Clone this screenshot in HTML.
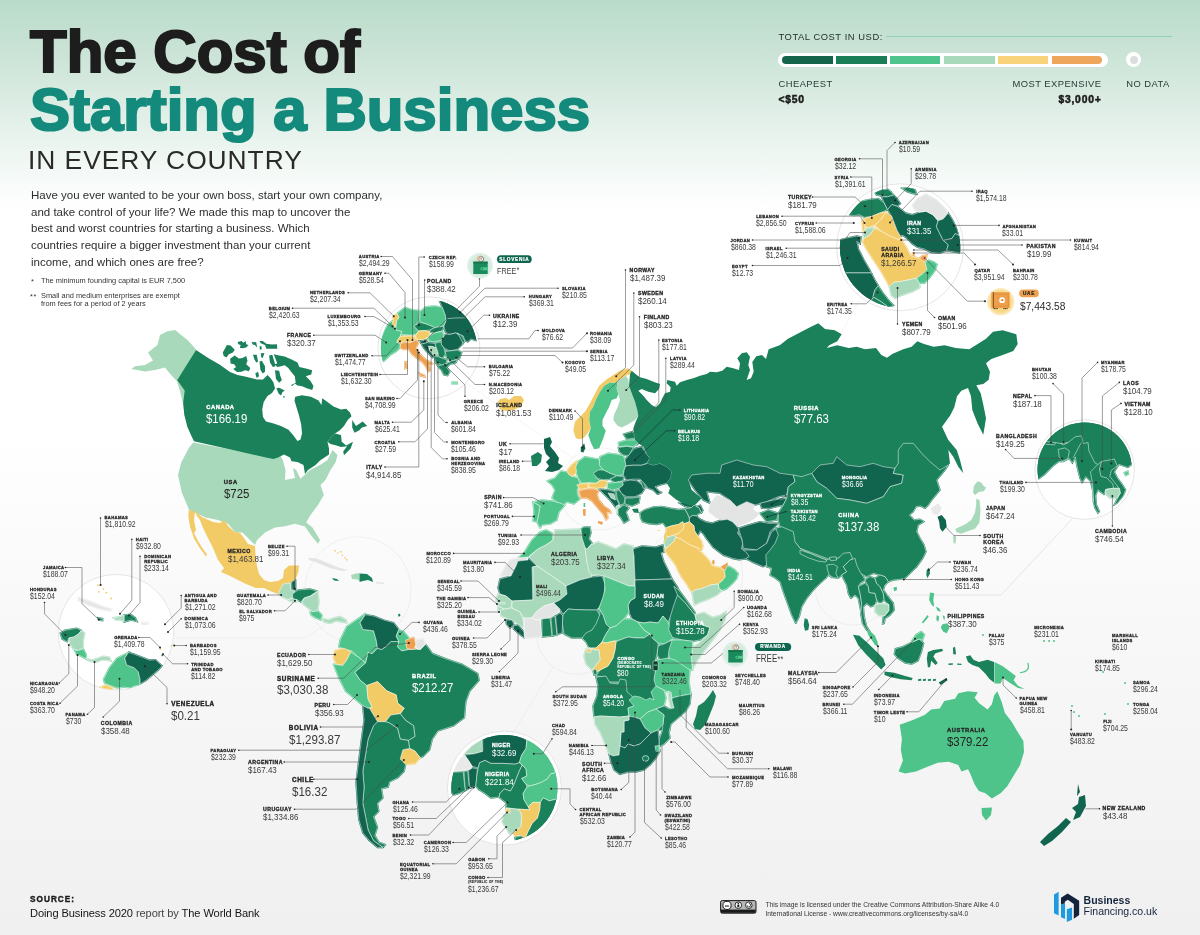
<!DOCTYPE html>
<html><head><meta charset="utf-8"><title>The Cost of Starting a Business in Every Country</title>
<style>
*{margin:0;padding:0;box-sizing:border-box}
html,body{width:1200px;height:935px;overflow:hidden}
.lb,.abs,.lg,.lgb{will-change:opacity}
body{font-family:"Liberation Sans",sans-serif;position:relative;
 background:linear-gradient(180deg,#b9dcca 0px,#cae3d6 50px,#dbece3 100px,#edf6f1 150px,#fbfdfc 195px,#ffffff 212px,#ffffff 430px,#f9f9f9 600px,#f4f4f4 780px,#f0f0f0 935px);}
#map{position:absolute;left:0;top:0}
.abs{position:absolute;white-space:nowrap}
#t1{left:30px;top:18px;font-weight:bold;font-size:60px;color:#1d1d1d;line-height:68px;-webkit-text-stroke:2.2px #1d1d1d;letter-spacing:0px;transform-origin:0 0}
#t2{left:30px;top:75.5px;font-weight:bold;font-size:60px;color:#148a7c;line-height:68px;-webkit-text-stroke:2.2px #148a7c;transform-origin:0 0}
#t3{left:28px;top:144.5px;font-size:26.4px;color:#2a2a2a;line-height:30px;letter-spacing:.95px}
#para{left:31px;top:187px;font-size:11.5px;line-height:16.67px;color:#2e2e2e;white-space:nowrap}
.fn{font-size:7.4px;color:#333;line-height:8px}
.lb{position:absolute;white-space:nowrap;line-height:1;color:#262626}
.lb b{display:block;font-size:4.2px;letter-spacing:.32px;font-weight:bold;-webkit-text-stroke:.28px currentColor;line-height:5px}
.lb span{display:block;width:max-content;font-size:8.6px;line-height:9px;transform:scaleX(.8);transform-origin:0 0;color:#3a3a3a}
.lb.m b{font-size:5.2px;line-height:6px;letter-spacing:.45px;-webkit-text-stroke:.32px currentColor}
.lb.m span{font-size:9.4px;line-height:10px;transform:scaleX(.85)}
.lb.l b{font-size:6.3px;line-height:8px;letter-spacing:.6px;-webkit-text-stroke:.4px currentColor}
.lb.l span{font-size:12.3px;line-height:13px;margin-top:1.5px;transform:scaleX(.94)}
.lb.b b{font-size:5.8px;line-height:7px;letter-spacing:.55px;-webkit-text-stroke:.35px currentColor}
.lb.b span{font-size:12.3px;line-height:13px;margin-top:1.8px;transform:scaleX(.93);color:#222}
.lb b i{display:block;font-style:normal;font-size:2.9px;line-height:3.5px;margin-top:1px;letter-spacing:.42px;-webkit-text-stroke:.12px currentColor}
.lb.w,.lb.w span{color:#fff}
.lb.r{text-align:right}
.lb.r span{transform-origin:100% 0;margin-left:auto}

.lg{position:absolute;white-space:nowrap;font-size:9.4px;line-height:10px;color:#2b3a35;letter-spacing:.45px}
.lgb{position:absolute;white-space:nowrap;font-size:10.3px;line-height:10px;font-weight:bold;color:#1d1d1d;letter-spacing:.8px;-webkit-text-stroke:.5px #1d1d1d}
#bar{position:absolute;left:778px;top:53px;width:330px;height:13.6px;border-radius:7px;background:#fff}
#bar i{position:absolute;top:2.8px;height:8px;width:50.4px}
.pill{padding-top:.45px;text-align:center;color:#fff;font-weight:bold;font-size:4.7px;letter-spacing:.75px;-webkit-text-stroke:.2px currentColor}
.free{line-height:12px;color:#3a3a3a;transform:scaleX(.78);transform-origin:0 0}
.free sup{font-size:.9em;vertical-align:top;position:relative;top:.22em;letter-spacing:.3px;margin-left:.5px;line-height:1}
</style></head><body>
<div class="abs" id="t1">The Cost of</div>
<div class="abs" id="t2">Starting a Business</div>
<div class="abs" id="t3">IN EVERY COUNTRY</div>
<div class="abs" id="para">Have you ever wanted to be your own boss, start your own company,<br>and take control of your life? We made this map to uncover the<br>best and worst countries for starting a business. Which<br>countries require a bigger investment than your current<br>income, and which ones are free?</div>
<div class="abs fn" style="left:31px;top:278px">*</div><div class="abs fn" style="left:41px;top:277px">The minimum founding capital is EUR 7,500</div>
<div class="abs fn" style="left:30px;top:292.5px;letter-spacing:.5px">**</div><div class="abs fn" style="left:41px;top:291.5px">Small and medium enterprises are exempt<br>from fees for a period of 2 years</div>

<div class="lg" style="left:778.5px;top:31.5px;color:#1f2a27;letter-spacing:.55px">TOTAL COST IN USD:</div>
<div class="abs" style="left:886px;top:35.5px;width:286px;height:1px;background:#93d1b6"></div>
<div id="bar"><i style="left:4.2px;background:#14644c;border-radius:4px 0 0 4px"></i><i style="left:58.3px;background:#1a7f59"></i><i style="left:112.1px;background:#4fc48c"></i><i style="left:166.2px;background:#a9d9bb"></i><i style="left:220px;background:#f8d37c"></i><i style="left:274.1px;background:#eda65c;border-radius:0 4px 4px 0"></i></div>
<div class="abs" style="left:1126.3px;top:52.3px;width:15px;height:15px;border-radius:50%;background:#fff"></div>
<div class="abs" style="left:1129.8px;top:55.8px;width:8px;height:8px;border-radius:50%;background:#dcdddd"></div>
<div class="lg" style="left:778.5px;top:79px">CHEAPEST</div>
<div class="lg" style="right:98.5px;top:79px">MOST EXPENSIVE</div>
<div class="lg" style="left:1126.3px;top:79px">NO DATA</div>
<div class="lgb" style="left:778.5px;top:95px">&lt;$50</div>
<div class="lgb" style="right:98.5px;top:95px">$3,000+</div>

<svg id="map" width="1200" height="935" viewBox="0 0 1200 935">
<polygon points="281.0,588.0 283.0,584.0 290.0,583.0 291.0,590.0 295.0,591.0 292.0,598.0 288.0,599.6 282.0,597.0 278.0,594.0" fill="#a9d9bb" stroke="#a9d9bb" stroke-width="1.5" stroke-linejoin="round"/>
<polygon points="291.6,582.0 295.6,579.6 295.6,590.0 292.0,590.0" fill="#11654f" stroke="#11654f" stroke-width="1.5" stroke-linejoin="round"/>
<polygon points="292.4,594.0 298.0,590.0 310.0,589.0 317.0,591.0 310.0,596.0 304.0,598.0 301.0,602.0 297.0,599.6 293.0,599.0" fill="#1b815b" stroke="#1b815b" stroke-width="1.5" stroke-linejoin="round"/>
<polygon points="288.0,599.6 292.4,598.4 297.0,600.0 295.6,602.4 290.0,601.2" fill="#a9d9bb" stroke="#a9d9bb" stroke-width="1.5" stroke-linejoin="round"/>
<polygon points="302.0,602.0 304.4,598.0 311.0,596.0 318.0,591.6 319.0,602.0 318.0,610.0 313.0,612.0 308.0,608.0 304.0,605.0" fill="#a9d9bb" stroke="#a9d9bb" stroke-width="1.5" stroke-linejoin="round"/>
<polygon points="310.0,612.0 318.0,611.0 322.0,615.0 321.0,620.0 316.0,618.0 311.0,615.0" fill="#4fc48a" stroke="#4fc48a" stroke-width="1.5" stroke-linejoin="round"/>
<polygon points="322.0,618.0 328.0,620.0 334.0,618.0 340.0,616.4 346.0,620.0 347.0,623.0 342.0,622.0 336.0,621.0 330.0,623.6 324.0,622.0" fill="#a9d9bb" stroke="#a9d9bb" stroke-width="1.5" stroke-linejoin="round"/>
<polygon points="368.1,652.2 372.2,653.5 377.5,648.1 381.5,649.5 385.5,646.8 390.9,641.5 398.9,641.5 397.6,646.8 401.6,650.8 408.3,649.5 413.6,649.5 420.3,649.5 425.6,644.1 432.3,653.5 445.7,658.8 461.8,664.2 477.8,673.6 479.1,680.2 469.8,690.9 465.8,701.6 464.4,717.7 453.7,725.7 437.7,731.1 432.3,739.1 429.7,749.8 423.0,756.5 420.3,757.8 414.9,751.1 409.6,748.4 408.3,740.4 414.9,736.4 413.6,725.7 405.6,720.4 400.2,713.7 404.2,708.3 397.6,703.0 396.2,694.9 386.9,690.9 377.5,681.6 366.8,685.6 360.1,680.2 354.8,672.2 365.5,662.9" fill="#1b815b" stroke="#1b815b" stroke-width="1.5" stroke-linejoin="round"/>
<polygon points="340.1,640.1 346.7,626.7 360.1,617.4 365.5,613.4 360.1,622.7 362.8,629.4 373.5,630.8 376.2,640.1 377.5,648.1 372.2,653.5 368.1,652.2 365.5,662.9 358.8,657.5 352.1,650.8 345.4,649.5 338.7,646.8" fill="#4fc48a" stroke="#4fc48a" stroke-width="1.5" stroke-linejoin="round"/>
<polygon points="360.1,622.7 365.5,614.7 373.5,616.0 384.2,620.1 393.6,622.7 398.9,629.4 396.2,636.1 398.9,641.5 390.9,641.5 385.5,646.8 381.5,649.5 377.5,648.1 376.2,640.1 373.5,630.8 362.8,629.4" fill="#11654f" stroke="#11654f" stroke-width="1.5" stroke-linejoin="round"/>
<polygon points="398.9,629.4 404.2,632.1 409.6,638.8 405.6,644.1 408.3,649.5 401.6,650.8 397.6,646.8 398.9,641.5 396.2,636.1" fill="#4fc48a" stroke="#4fc48a" stroke-width="1.5" stroke-linejoin="round"/>
<polygon points="405.6,640.1 413.6,637.4 416.3,644.1 413.6,649.5 406.9,648.7" fill="#eda04e" stroke="#eda04e" stroke-width="1.5" stroke-linejoin="round"/>
<polygon points="415.8,640.1 423.0,638.8 425.6,644.1 420.3,649.5 415.8,648.1" fill="#e3e4e4" stroke="#e3e4e4" stroke-width="1.5" stroke-linejoin="round"/>
<polygon points="334.7,650.8 344.1,648.1 350.8,652.2 346.7,660.2 342.7,665.5 336.0,664.2 333.4,657.5" fill="#f3cb66" stroke="#f3cb66" stroke-width="1.5" stroke-linejoin="round"/>
<polygon points="333.4,664.2 342.7,665.5 346.7,660.2 350.8,652.2 358.8,657.5 365.5,662.9 354.8,672.2 360.1,680.2 366.8,685.6 368.1,699.0 372.2,707.0 368.1,708.3 362.8,705.6 354.8,699.0 345.4,690.9 338.7,677.6" fill="#4fc48a" stroke="#4fc48a" stroke-width="1.5" stroke-linejoin="round"/>
<polygon points="366.8,685.6 377.5,681.6 386.9,690.9 396.2,694.9 397.6,703.0 404.2,708.3 400.2,713.7 390.9,715.0 385.5,721.7 377.5,721.7 373.5,715.0 369.5,708.3 372.2,707.0 368.1,699.0" fill="#f3cb66" stroke="#f3cb66" stroke-width="1.5" stroke-linejoin="round"/>
<polygon points="390.9,715.0 400.2,713.7 405.6,720.4 413.6,725.7 414.9,736.4 408.3,740.4 400.2,739.1 397.6,728.4 389.5,723.0 385.5,721.7" fill="#1b815b" stroke="#1b815b" stroke-width="1.5" stroke-linejoin="round"/>
<polygon points="402.9,749.8 409.6,748.4 414.9,751.1 420.3,757.8 414.9,763.7 405.6,764.5 400.2,759.1" fill="#f3cb66" stroke="#f3cb66" stroke-width="1.5" stroke-linejoin="round"/>
<polygon points="377.5,721.7 385.5,721.7 389.5,723.0 397.6,728.4 400.2,739.1 408.3,740.4 409.6,748.4 402.9,749.8 400.2,759.1 405.6,764.5 404.2,771.2 397.6,777.9 389.5,781.9 388.2,787.2 381.5,788.6 382.9,797.9 377.5,803.3 378.8,811.3 373.5,816.6 377.5,827.3 374.8,835.4 378.8,842.1 385.5,844.7 382.9,847.4 373.5,840.7 368.1,830.0 365.5,816.6 362.8,803.3 364.1,787.2 362.8,771.2 365.5,755.1 368.1,739.1 373.5,725.7" fill="#1b815b" stroke="#1b815b" stroke-width="1.5" stroke-linejoin="round"/>
<polygon points="362.8,705.6 368.1,708.3 369.5,708.3 373.5,715.0 377.5,721.7 373.5,725.7 368.1,739.1 365.5,755.1 362.8,771.2 364.1,787.2 362.8,803.3 365.5,816.6 368.1,830.0 373.5,840.7 382.9,847.4 377.5,847.4 369.5,840.7 362.8,832.7 358.8,819.3 357.4,803.3 356.1,781.9 358.8,760.5 361.5,739.1 364.1,720.4" fill="#11654f" stroke="#11654f" stroke-width="1.5" stroke-linejoin="round"/>
<polygon points="547.0,481.0 555.0,478.0 561.0,471.0 567.0,472.0 571.0,476.0 578.0,478.0 580.0,484.0 577.0,490.0 578.0,496.0 580.0,499.0 574.0,504.0 567.0,502.0 563.0,505.0 557.0,502.0 552.0,498.0 555.0,490.0 552.0,485.0" fill="#4fc48a" stroke="#4fc48a" stroke-width="1.5" stroke-linejoin="round"/>
<polygon points="567.5,470.0 571.7,465.0 576.7,460.8 578.3,466.7 575.8,472.5 572.5,476.7 568.3,474.2" fill="#f3cb66" stroke="#f3cb66" stroke-width="1.5" stroke-linejoin="round"/>
<polygon points="575.8,466.7 578.3,461.7 585.0,456.7 593.3,458.3 599.2,459.2 600.0,465.0 603.3,470.0 598.3,473.3 595.8,477.5 600.0,480.8 595.8,483.3 588.3,482.5 581.7,483.3 578.3,478.3 576.7,473.3" fill="#4fc48a" stroke="#4fc48a" stroke-width="1.5" stroke-linejoin="round"/>
<polygon points="600.0,456.7 608.3,453.3 616.7,454.2 623.3,455.8 625.0,460.0 625.8,465.8 624.2,470.0 623.3,475.0 616.7,475.8 610.0,473.3 603.3,470.0 599.2,465.0" fill="#4fc48a" stroke="#4fc48a" stroke-width="1.5" stroke-linejoin="round"/>
<polygon points="593.3,473.3 598.3,470.0 603.3,470.0 610.0,473.3 616.7,475.8 610.0,479.2 603.3,480.0 597.5,478.3" fill="#1b815b" stroke="#1b815b" stroke-width="1.5" stroke-linejoin="round"/>
<polygon points="610.0,479.2 616.7,475.8 624.2,476.7 622.5,480.8 615.0,482.5" fill="#1b815b" stroke="#1b815b" stroke-width="1.5" stroke-linejoin="round"/>
<polygon points="588.3,483.3 595.8,483.3 600.0,480.8 605.0,480.0 607.5,483.3 604.2,487.5 596.7,488.3 590.0,487.5" fill="#f3cb66" stroke="#f3cb66" stroke-width="1.5" stroke-linejoin="round"/>
<polygon points="607.5,483.3 615.0,482.5 622.5,481.7 623.3,485.0 619.2,488.3 612.5,490.0 607.5,488.3" fill="#4fc48a" stroke="#4fc48a" stroke-width="1.5" stroke-linejoin="round"/>
<polygon points="576.7,485.0 583.3,483.3 588.3,484.2 587.5,488.3 580.0,489.2" fill="#f3cb66" stroke="#f3cb66" stroke-width="1.5" stroke-linejoin="round"/>
<polygon points="579.0,491.0 586.0,489.0 594.0,489.0 599.0,491.0 597.0,494.0 599.0,500.0 604.0,506.0 610.0,510.0 611.0,513.0 607.0,512.0 608.0,518.0 606.0,520.0 603.0,514.0 597.0,507.0 592.0,501.0 587.0,498.0 581.0,498.0" fill="#eda04e" stroke="#eda04e" stroke-width="1.5" stroke-linejoin="round"/>
<polygon points="533.0,502.0 542.0,500.0 552.0,501.0 560.0,503.0 565.0,505.0 559.0,512.0 557.0,520.0 550.0,524.0 542.0,525.0 540.0,528.0 537.0,522.0 539.0,512.0 540.0,506.0" fill="#4fc48a" stroke="#4fc48a" stroke-width="1.5" stroke-linejoin="round"/>
<polygon points="533.0,502.0 540.0,506.0 539.0,512.0 537.0,522.0 533.0,521.0 534.0,512.0" fill="#4fc48a" stroke="#4fc48a" stroke-width="1.5" stroke-linejoin="round"/>
<polygon points="599.0,489.0 609.0,490.0 615.0,492.0 616.0,498.0 619.0,504.0 616.0,508.0 610.0,500.0 604.0,494.0" fill="#11654f" stroke="#11654f" stroke-width="1.5" stroke-linejoin="round"/>
<polygon points="608.0,493.0 614.0,494.0 615.6,500.0 611.0,498.0" fill="#a9d9bb" stroke="#a9d9bb" stroke-width="1.5" stroke-linejoin="round"/>
<polygon points="622.5,481.7 630.0,480.0 636.7,480.8 642.5,485.0 645.0,488.3 641.7,493.3 635.0,496.7 626.7,496.7 620.8,493.3 619.2,488.3 623.3,485.0" fill="#11654f" stroke="#11654f" stroke-width="1.5" stroke-linejoin="round"/>
<polygon points="640.0,479.2 644.2,483.3 645.8,488.3 643.3,488.3 641.7,484.2" fill="#1b815b" stroke="#1b815b" stroke-width="1.5" stroke-linejoin="round"/>
<polygon points="625.0,498.0 632.0,498.0 640.0,497.0 639.0,503.0 632.0,506.0 625.0,504.0" fill="#1b815b" stroke="#1b815b" stroke-width="1.5" stroke-linejoin="round"/>
<polygon points="616.0,490.0 620.0,491.0 625.0,498.0 624.0,504.0 620.0,505.0 617.0,498.0" fill="#1b815b" stroke="#1b815b" stroke-width="1.5" stroke-linejoin="round"/>
<polygon points="616.0,506.0 619.0,505.0 619.6,512.0 617.0,514.0" fill="#a9d9bb" stroke="#a9d9bb" stroke-width="1.5" stroke-linejoin="round"/>
<polygon points="618.0,509.0 624.0,505.0 629.0,508.0 626.0,512.0 629.0,520.0 624.0,523.0 621.0,518.0 618.0,514.0" fill="#1b815b" stroke="#1b815b" stroke-width="1.5" stroke-linejoin="round"/>
<polygon points="625.8,465.8 633.3,465.0 641.7,465.0 647.5,463.3 653.3,465.0 660.0,463.3 666.7,466.7 671.7,471.7 670.8,478.3 666.7,483.3 660.0,485.0 655.0,486.7 658.3,490.8 661.7,492.5 657.5,494.2 653.3,490.0 648.3,488.3 644.2,483.3 640.0,479.2 633.3,479.2 626.7,480.0 623.3,475.0 624.2,470.0" fill="#11654f" stroke="#11654f" stroke-width="1.5" stroke-linejoin="round"/>
<polygon points="630.0,453.3 635.0,448.3 641.7,446.7 644.2,450.8 646.7,454.2 650.0,458.3 646.7,463.3 641.7,465.0 633.3,465.0 625.8,465.8 625.0,460.0 628.3,455.8" fill="#11654f" stroke="#11654f" stroke-width="1.5" stroke-linejoin="round"/>
<polygon points="618.3,447.5 626.7,446.3 633.3,447.5 630.0,453.3 628.3,455.8 623.3,455.0 619.2,451.7" fill="#1b815b" stroke="#1b815b" stroke-width="1.5" stroke-linejoin="round"/>
<polygon points="618.3,442.5 626.7,440.0 635.0,440.0 638.3,443.3 633.3,446.7 626.7,445.8 619.2,446.7" fill="#4fc48a" stroke="#4fc48a" stroke-width="1.5" stroke-linejoin="round"/>
<polygon points="623.3,434.2 631.7,431.7 634.2,433.3 635.0,438.3 626.7,439.2" fill="#1b815b" stroke="#1b815b" stroke-width="1.5" stroke-linejoin="round"/>
<polygon points="640.0,512.8 645.1,509.6 652.8,507.1 661.8,506.4 670.8,508.3 678.5,509.6 684.9,509.0 687.5,513.5 689.4,518.0 689.4,521.8 684.3,523.7 682.4,521.8 678.5,524.4 672.1,525.7 666.3,527.6 663.1,523.1 656.7,524.4 649.0,523.7 642.6,521.8 640.6,518.0" fill="#1b815b" stroke="#1b815b" stroke-width="1.5" stroke-linejoin="round"/>
<polygon points="678.5,502.6 686.2,501.9 693.9,505.1 691.3,507.7 684.9,506.4" fill="#11654f" stroke="#11654f" stroke-width="1.5" stroke-linejoin="round"/>
<polygon points="684.9,509.0 691.3,507.7 693.9,505.1 699.0,507.7 701.6,512.8 697.8,514.1 696.5,516.0 692.6,515.4 689.4,518.0 687.5,513.5" fill="#1b815b" stroke="#1b815b" stroke-width="1.5" stroke-linejoin="round"/>
<polygon points="696.5,506.4 700.3,505.1 702.9,510.3 701.6,512.8 699.0,507.7" fill="#11654f" stroke="#11654f" stroke-width="1.5" stroke-linejoin="round"/>
<polygon points="518.0,558.0 524.0,553.0 532.0,540.0 540.0,532.0 546.0,530.0 552.0,533.0 553.0,540.0 546.0,545.0 538.0,549.0 529.0,556.0 528.0,558.0" fill="#4fc48a" stroke="#4fc48a" stroke-width="1.5" stroke-linejoin="round"/>
<polygon points="500.0,576.0 505.0,568.0 510.0,560.0 518.0,558.0 528.0,557.0 528.0,560.0 518.0,561.0 516.0,566.0 511.0,576.0" fill="#e3e4e4" stroke="#e3e4e4" stroke-width="1.5" stroke-linejoin="round"/>
<polygon points="529.0,557.0 538.0,549.0 546.0,545.0 553.0,540.0 555.0,530.0 581.0,529.0 582.0,538.0 586.0,550.0 587.0,562.0 591.0,574.0 592.0,577.0 580.0,580.0 566.0,586.0 552.0,576.0 537.0,566.0" fill="#a9d9bb" stroke="#a9d9bb" stroke-width="1.5" stroke-linejoin="round"/>
<polygon points="581.0,529.0 584.0,527.0 590.0,527.0 591.0,533.0 589.0,539.0 592.0,543.0 587.0,549.0 586.0,550.0 582.0,538.0" fill="#1b815b" stroke="#1b815b" stroke-width="1.5" stroke-linejoin="round"/>
<polygon points="585.0,548.0 587.0,549.0 591.0,545.0 598.0,542.0 606.0,545.0 616.0,549.0 624.0,544.0 633.0,546.0 634.0,556.0 635.0,586.0 629.0,586.0 604.0,576.0 598.0,575.0 592.0,575.0 589.0,572.0 587.0,562.0" fill="#a9d9bb" stroke="#a9d9bb" stroke-width="1.5" stroke-linejoin="round"/>
<polygon points="633.0,549.0 642.0,546.0 656.0,547.0 663.0,545.0 664.0,552.0 661.0,553.0 664.0,562.0 669.0,572.0 672.0,579.0 635.0,580.0 634.0,556.0" fill="#11654f" stroke="#11654f" stroke-width="1.5" stroke-linejoin="round"/>
<polygon points="635.0,580.0 672.0,579.0 678.0,588.0 680.0,594.0 677.0,598.0 675.0,608.0 671.0,616.0 668.0,622.0 663.0,616.0 658.0,623.0 650.0,622.0 644.0,623.0 638.0,622.0 632.0,619.0 629.0,612.0 628.0,605.0 631.0,600.0 635.0,598.0" fill="#11654f" stroke="#11654f" stroke-width="1.5" stroke-linejoin="round"/>
<polygon points="500.0,579.0 511.0,576.0 516.0,566.0 518.0,561.0 528.0,560.0 528.0,558.0 537.0,566.0 532.0,567.0 533.0,600.0 512.0,601.0 506.0,596.0 500.0,594.0 498.0,588.0" fill="#11654f" stroke="#11654f" stroke-width="1.5" stroke-linejoin="round"/>
<polygon points="533.0,567.0 537.0,566.0 552.0,576.0 566.0,586.0 567.0,594.0 560.0,600.0 554.0,603.0 544.0,606.0 536.0,612.0 532.0,618.0 524.0,618.0 520.0,612.0 512.0,608.0 512.0,601.0 533.0,600.0" fill="#a9d9bb" stroke="#a9d9bb" stroke-width="1.5" stroke-linejoin="round"/>
<polygon points="498.0,594.0 506.0,596.0 512.0,601.0 511.0,608.0 504.0,609.0 498.0,606.0 496.0,600.0" fill="#a9d9bb" stroke="#a9d9bb" stroke-width="1.5" stroke-linejoin="round"/>
<polygon points="497.0,602.4 505.0,602.4 505.0,604.0 497.0,604.0" fill="#a9d9bb" stroke="#a9d9bb" stroke-width="1.5" stroke-linejoin="round"/>
<polygon points="498.0,606.0 504.0,609.0 501.0,612.0 498.0,610.4" fill="#a9d9bb" stroke="#a9d9bb" stroke-width="1.5" stroke-linejoin="round"/>
<polygon points="500.0,610.0 511.0,608.0 520.0,612.0 523.0,620.0 524.0,628.0 518.0,624.0 512.0,620.0 506.0,618.0 501.0,616.0" fill="#a9d9bb" stroke="#a9d9bb" stroke-width="1.5" stroke-linejoin="round"/>
<polygon points="506.0,620.0 512.0,620.0 514.0,625.0 510.0,628.0 506.4,624.0" fill="#11654f" stroke="#11654f" stroke-width="1.5" stroke-linejoin="round"/>
<polygon points="513.0,626.0 518.0,625.0 524.0,632.0 524.4,638.0 518.0,633.0 513.6,629.0" fill="#11654f" stroke="#11654f" stroke-width="1.5" stroke-linejoin="round"/>
<polygon points="524.0,618.0 532.0,618.0 536.0,620.0 540.0,620.0 542.0,637.0 530.0,638.0 525.0,638.0 524.4,630.0" fill="#e3e4e4" stroke="#e3e4e4" stroke-width="1.5" stroke-linejoin="round"/>
<polygon points="536.0,612.0 544.0,606.0 554.0,603.0 560.0,609.0 556.0,614.0 550.0,618.0 542.0,619.0 536.0,620.0 532.0,618.0" fill="#e3e4e4" stroke="#e3e4e4" stroke-width="1.5" stroke-linejoin="round"/>
<polygon points="542.0,619.0 550.0,618.0 552.0,636.0 542.0,637.0" fill="#1b815b" stroke="#1b815b" stroke-width="1.5" stroke-linejoin="round"/>
<polygon points="551.0,618.0 555.0,616.0 557.0,635.0 552.4,636.0" fill="#1b815b" stroke="#1b815b" stroke-width="1.5" stroke-linejoin="round"/>
<polygon points="555.6,616.0 560.0,613.0 563.0,616.0 562.0,633.0 557.4,634.4" fill="#11654f" stroke="#11654f" stroke-width="1.5" stroke-linejoin="round"/>
<polygon points="554.0,603.0 560.0,600.0 567.0,594.0 566.0,586.0 580.0,580.0 592.0,577.0 602.0,576.0 605.0,584.0 604.0,596.0 600.0,606.0 597.0,610.0 588.0,610.0 576.0,609.6 568.0,609.0 563.0,614.0 560.0,609.0" fill="#11654f" stroke="#11654f" stroke-width="1.5" stroke-linejoin="round"/>
<polygon points="563.0,615.0 568.0,609.0 576.0,609.6 588.0,610.0 597.0,610.0 600.0,616.0 596.0,626.0 590.0,632.0 582.0,638.0 572.0,638.0 564.0,634.0 562.4,624.0" fill="#1b815b" stroke="#1b815b" stroke-width="1.5" stroke-linejoin="round"/>
<polygon points="604.0,576.0 629.0,586.0 635.0,586.0 635.0,598.0 631.0,600.0 628.0,605.0 629.0,612.0 624.0,619.0 616.0,626.0 610.0,628.0 606.0,624.0 603.0,615.0 599.0,608.0 602.0,600.0 605.0,590.0" fill="#4fc48a" stroke="#4fc48a" stroke-width="1.5" stroke-linejoin="round"/>
<polygon points="598.0,608.0 603.0,615.0 606.0,624.0 610.0,628.0 606.0,634.0 602.0,642.0 596.0,648.0 589.0,648.0 586.0,642.0 582.0,638.0 586.0,633.0 592.0,630.0 596.0,624.0 600.0,614.0" fill="#1b815b" stroke="#1b815b" stroke-width="1.5" stroke-linejoin="round"/>
<polygon points="610.0,628.0 616.0,626.0 624.0,619.0 632.0,619.0 638.0,622.0 644.0,630.0 650.0,634.0 644.0,638.0 636.0,638.0 628.0,637.0 620.0,640.0 614.0,641.0 606.0,643.0 602.0,642.0 606.0,634.0" fill="#4fc48a" stroke="#4fc48a" stroke-width="1.5" stroke-linejoin="round"/>
<polygon points="638.0,622.0 644.0,623.0 650.0,622.0 658.0,623.0 663.0,616.0 668.0,622.0 670.0,628.0 675.0,636.0 672.0,640.0 664.0,644.0 658.0,643.0 652.0,638.0 650.0,634.0 644.0,630.0" fill="#4fc48a" stroke="#4fc48a" stroke-width="1.5" stroke-linejoin="round"/>
<polygon points="677.5,595.0 685.0,602.5 695.0,615.0 696.2,620.0 702.5,625.0 710.0,627.5 707.5,635.0 700.0,640.0 692.5,641.2 682.5,640.0 672.5,637.5 668.8,630.0 670.0,617.5 673.8,605.0" fill="#1b815b" stroke="#1b815b" stroke-width="1.5" stroke-linejoin="round"/>
<polygon points="673.8,586.2 678.8,590.0 686.2,600.0 695.0,612.5 695.0,615.0 685.0,602.5 677.5,595.0" fill="#1b815b" stroke="#1b815b" stroke-width="1.5" stroke-linejoin="round"/>
<polygon points="695.0,615.0 703.8,612.5 712.5,617.5 721.2,615.0 726.2,611.2 725.0,620.0 720.0,630.0 712.5,640.0 705.0,650.0 697.5,660.0 692.5,670.0 691.2,657.5 692.5,647.5 700.0,642.5 707.5,635.0 710.0,627.5 702.5,625.0 696.2,620.0" fill="#a9d9bb" stroke="#a9d9bb" stroke-width="1.5" stroke-linejoin="round"/>
<polygon points="670.0,640.0 682.5,640.0 692.5,641.2 692.5,647.5 691.2,657.5 692.5,670.0 685.0,668.8 677.5,665.0 670.0,660.0 667.5,650.0" fill="#4fc48a" stroke="#4fc48a" stroke-width="1.5" stroke-linejoin="round"/>
<polygon points="658.0,646.0 664.0,644.0 672.0,640.0 669.0,650.0 668.0,659.0 660.0,660.0 657.0,654.0" fill="#1b815b" stroke="#1b815b" stroke-width="1.5" stroke-linejoin="round"/>
<polygon points="616.0,642.0 620.0,640.0 628.0,637.0 636.0,638.0 644.0,638.0 650.0,634.0 652.0,638.0 658.0,643.0 658.0,646.0 657.0,654.0 655.0,662.0 656.0,670.0 655.0,678.0 658.0,686.0 660.0,700.0 658.0,710.0 663.0,720.0 670.0,730.0 666.0,731.0 658.0,730.0 652.0,725.0 640.0,724.0 635.0,712.0 628.0,710.0 620.0,711.0 618.0,682.0 608.0,682.0 606.0,677.0 596.0,676.0 600.0,670.0 608.0,666.0 613.0,658.0 615.0,650.0" fill="#1b815b" stroke="#1b815b" stroke-width="1.5" stroke-linejoin="round"/>
<polygon points="602.0,642.0 606.0,643.0 614.0,641.0 616.0,642.0 615.0,650.0 613.0,658.0 608.0,666.0 600.0,670.0 596.0,672.0 592.0,670.0 596.0,665.0 600.0,660.0 599.0,650.0 595.0,650.0 589.0,648.0 596.0,648.0" fill="#f3cb66" stroke="#f3cb66" stroke-width="1.5" stroke-linejoin="round"/>
<polygon points="586.0,649.0 589.0,648.0 595.0,650.0 599.0,650.0 600.0,660.0 596.0,665.0 592.0,670.0 586.0,664.0 584.0,656.0" fill="#a9d9bb" stroke="#a9d9bb" stroke-width="1.5" stroke-linejoin="round"/>
<polygon points="587.0,649.0 591.0,649.0 591.0,652.4 587.0,652.4" fill="#f3cb66" stroke="#f3cb66" stroke-width="1.5" stroke-linejoin="round"/>
<polygon points="655.0,661.0 658.4,660.4 659.0,665.6 655.6,666.0" fill="#4fc48a" stroke="#4fc48a" stroke-width="1.5" stroke-linejoin="round"/>
<polygon points="655.2,666.0 659.0,665.6 659.4,671.0 656.0,671.0" fill="#11654f" stroke="#11654f" stroke-width="1.5" stroke-linejoin="round"/>
<polygon points="596.0,677.0 606.0,676.0 610.0,683.0 618.0,684.0 620.0,679.0 626.0,680.0 627.0,692.0 632.0,696.0 634.0,706.0 628.0,708.0 629.0,716.0 620.0,717.0 600.0,716.0 594.0,717.0 593.0,706.0 597.0,696.0 598.0,686.0" fill="#1b815b" stroke="#1b815b" stroke-width="1.5" stroke-linejoin="round"/>
<polygon points="593.0,670.0 596.4,669.0 597.0,674.0 594.0,675.0" fill="#1b815b" stroke="#1b815b" stroke-width="1.5" stroke-linejoin="round"/>
<polygon points="629.0,700.0 634.0,696.0 640.0,697.0 646.0,700.0 650.0,698.0 654.0,700.0 651.0,692.0 656.0,686.0 664.0,690.0 666.0,698.0 664.0,706.0 656.0,709.0 648.0,712.0 640.0,719.0 634.0,717.0 629.0,716.0 628.0,708.0 634.0,706.0" fill="#4fc48a" stroke="#4fc48a" stroke-width="1.5" stroke-linejoin="round"/>
<polygon points="656.0,660.0 668.0,658.0 675.0,660.0 690.0,670.0 689.0,682.0 691.0,694.0 680.0,696.0 672.0,698.0 668.0,692.0 664.0,690.0 656.0,686.0 654.0,680.0 655.6,670.0" fill="#4fc48a" stroke="#4fc48a" stroke-width="1.5" stroke-linejoin="round"/>
<polygon points="668.0,691.0 671.2,692.4 672.0,700.0 674.0,708.0 671.2,709.2 669.2,700.0" fill="#a9d9bb" stroke="#a9d9bb" stroke-width="1.5" stroke-linejoin="round"/>
<polygon points="672.0,698.0 680.0,696.0 691.0,694.0 690.0,704.0 686.0,711.0 678.0,718.0 671.0,724.0 669.0,732.0 670.0,738.0 664.0,744.0 659.0,747.0 659.0,740.0 662.0,732.0 663.0,724.0 664.0,715.0 656.0,709.0 664.0,706.0 669.0,709.0 674.0,708.0 672.0,700.0" fill="#1b815b" stroke="#1b815b" stroke-width="1.5" stroke-linejoin="round"/>
<polygon points="640.0,719.0 648.0,712.0 656.0,709.0 664.0,715.0 663.0,724.0 658.0,730.0 651.0,733.0 645.0,728.0" fill="#4fc48a" stroke="#4fc48a" stroke-width="1.5" stroke-linejoin="round"/>
<polygon points="624.0,721.0 629.0,720.0 629.0,716.0 634.0,717.0 640.0,719.0 645.0,728.0 651.0,733.0 646.0,738.0 640.0,744.0 634.0,746.0 628.0,744.0 625.0,748.0 620.0,746.0 621.0,732.0 624.0,732.0" fill="#11654f" stroke="#11654f" stroke-width="1.5" stroke-linejoin="round"/>
<polygon points="594.0,717.0 600.0,716.0 620.0,717.0 629.0,716.0 629.0,720.0 624.0,721.0 624.0,732.0 621.0,732.0 620.0,746.0 619.0,755.0 613.0,756.0 609.0,754.0 605.0,744.0 600.0,732.0 595.0,724.0" fill="#a9d9bb" stroke="#a9d9bb" stroke-width="1.5" stroke-linejoin="round"/>
<polygon points="609.0,754.0 613.0,756.0 619.0,755.0 620.0,746.0 625.0,748.0 628.0,744.0 634.0,746.0 640.0,744.0 646.0,738.0 651.0,733.0 658.0,730.0 659.0,740.0 659.0,747.0 660.0,751.0 656.0,758.0 650.0,765.0 644.0,770.0 636.0,772.0 628.0,772.0 620.0,774.4 614.0,770.0 611.0,762.0" fill="#11654f" stroke="#11654f" stroke-width="1.5" stroke-linejoin="round"/>
<polygon points="655.0,746.0 659.0,745.6 659.4,751.0 656.0,751.6" fill="#4fc48a" stroke="#4fc48a" stroke-width="1.5" stroke-linejoin="round"/>
<polygon points="811.7,473.3 820.0,465.0 833.3,463.3 836.7,456.7 846.7,465.0 860.0,466.7 873.3,463.3 883.3,466.7 895.0,468.3 893.3,473.3 903.3,475.0 901.7,483.3 890.0,486.7 883.3,496.7 866.7,503.3 850.0,500.0 836.7,498.3 826.7,488.3 816.7,481.7" fill="#11654f" stroke="#11654f" stroke-width="1.5" stroke-linejoin="round"/>
<polygon points="688.3,480.0 691.7,475.0 706.7,473.3 720.0,473.3 721.7,465.0 736.7,460.0 753.3,465.0 766.7,466.7 780.0,473.3 793.3,475.0 795.0,481.7 788.3,486.7 786.7,495.0 778.3,496.7 766.7,501.7 755.0,505.0 746.7,501.7 736.7,506.7 730.0,500.0 720.0,493.3 706.7,491.7 710.0,503.3 703.3,500.0 695.0,490.0" fill="#11654f" stroke="#11654f" stroke-width="1.5" stroke-linejoin="round"/>
<polygon points="760.0,503.3 773.3,500.0 786.7,498.3 783.3,505.0 770.0,508.3 761.7,508.3" fill="#11654f" stroke="#11654f" stroke-width="1.5" stroke-linejoin="round"/>
<polygon points="760.0,513.3 768.3,510.0 778.3,513.3 776.7,520.0 766.7,521.7" fill="#1b815b" stroke="#1b815b" stroke-width="1.5" stroke-linejoin="round"/>
<polygon points="738.3,528.3 748.3,525.0 760.0,521.7 768.3,523.3 778.3,523.3 770.0,531.7 766.7,543.3 756.7,550.0 743.3,548.3 741.7,538.3" fill="#11654f" stroke="#11654f" stroke-width="1.5" stroke-linejoin="round"/>
<polygon points="743.3,550.0 756.7,550.0 766.7,543.3 771.7,531.7 780.0,526.7 786.7,533.3 783.3,543.3 776.7,553.3 770.0,563.3 763.3,566.7 751.7,561.7 745.0,558.3" fill="#11654f" stroke="#11654f" stroke-width="1.5" stroke-linejoin="round"/>
<polygon points="689.4,518.0 692.6,515.4 696.5,516.0 700.3,519.3 705.5,521.8 711.9,523.1 719.6,520.5 727.3,519.3 732.4,521.8 736.3,525.7 738.8,529.5 737.5,533.4 741.4,538.5 742.7,543.6 741.4,548.8 746.5,552.6 749.1,556.5 745.2,559.0 738.8,559.7 732.4,558.4 727.3,556.5 723.4,555.2 718.3,551.3 713.2,547.5 709.3,542.4 705.5,537.2 702.9,533.4 700.3,530.8 697.8,535.9 694.5,530.8 693.9,525.7 689.4,521.8" fill="#11654f" stroke="#11654f" stroke-width="1.5" stroke-linejoin="round"/>
<polygon points="666.3,527.6 672.1,525.7 678.5,524.4 682.4,521.8 684.3,523.7 683.0,529.5 678.5,533.4 673.4,535.3 667.6,537.2 665.7,533.4" fill="#f3cb66" stroke="#f3cb66" stroke-width="1.5" stroke-linejoin="round"/>
<polygon points="684.3,523.7 689.4,521.8 693.9,525.7 694.5,530.8 697.8,535.9 701.6,541.1 702.9,545.6 702.2,549.4 698.4,548.1 692.6,546.2 687.5,543.6 681.1,539.1 675.9,537.2 673.4,535.3 678.5,533.4 683.0,529.5" fill="#f3cb66" stroke="#f3cb66" stroke-width="1.5" stroke-linejoin="round"/>
<polygon points="665.0,539.1 667.6,537.2 673.4,535.3 675.9,537.2 674.0,541.1 670.8,544.3 665.7,548.1 664.6,543.6" fill="#a9d9bb" stroke="#a9d9bb" stroke-width="1.5" stroke-linejoin="round"/>
<polygon points="665.7,548.8 670.8,544.3 674.0,541.1 675.9,537.2 681.1,539.1 687.5,543.6 692.6,546.2 698.4,548.1 699.0,550.7 701.6,552.6 705.5,556.5 709.3,561.0 711.9,565.5 715.7,566.7 720.2,567.4 724.7,571.9 725.3,577.0 722.1,580.9 718.3,584.1 711.9,584.7 706.7,586.6 701.6,588.6 695.2,589.8 692.0,592.4 689.4,588.6 686.2,583.4 682.4,578.3 678.5,571.9 675.9,565.5 672.1,560.3 668.2,555.2 665.0,551.3" fill="#f3cb66" stroke="#f3cb66" stroke-width="1.5" stroke-linejoin="round"/>
<polygon points="725.3,569.9 727.3,566.1 729.8,566.7 735.0,569.9 738.2,573.8 736.9,578.3 733.7,582.1 729.8,586.0 726.0,589.2 722.1,590.5 718.9,588.6 718.3,584.1 722.1,580.9 725.3,577.0 724.7,571.9" fill="#4fc48a" stroke="#4fc48a" stroke-width="1.5" stroke-linejoin="round"/>
<polygon points="692.0,592.4 695.2,589.8 701.6,588.6 706.7,586.6 711.9,584.7 718.3,584.1 718.9,588.6 722.1,590.5 717.0,595.0 710.6,598.2 704.2,600.7 697.8,603.3 694.5,605.2 693.3,600.1" fill="#a9d9bb" stroke="#a9d9bb" stroke-width="1.5" stroke-linejoin="round"/>
<polygon points="793.3,475.0 801.7,476.7 811.7,473.3 816.7,481.7 826.7,488.3 836.7,498.3 850.0,500.0 866.7,503.3 883.3,496.7 890.0,486.7 901.7,483.3 903.3,475.0 893.3,473.3 895.0,468.3 898.3,463.3 898.3,450.0 903.3,443.3 913.3,443.3 921.7,453.3 930.0,461.7 940.0,470.0 948.3,465.0 945.0,470.0 936.7,480.0 940.0,490.0 931.7,500.0 928.3,505.0 925.0,508.3 920.7,506.0 916.0,506.7 913.3,511.7 909.3,515.0 914.0,520.0 920.0,519.3 924.0,521.7 918.3,525.0 916.7,531.7 920.0,538.3 924.0,545.0 926.0,551.7 922.7,558.3 916.7,566.7 910.0,573.3 905.0,578.3 900.0,579.3 893.3,580.0 888.3,581.7 885.0,576.7 880.0,575.0 873.3,573.3 866.7,576.7 860.0,573.3 853.3,563.3 850.0,556.7 840.0,556.7 833.3,561.7 826.7,558.3 813.3,553.3 800.0,548.3 793.3,540.0 786.7,533.3 780.0,526.7 778.3,520.0 778.3,513.3 783.3,505.0 786.7,498.3 788.3,486.7 795.0,481.7" fill="#1b815b" stroke="#1b815b" stroke-width="1.5" stroke-linejoin="round"/>
<polygon points="775.8,528.3 781.7,526.7 787.5,529.2 793.3,531.7 795.0,541.7 800.0,548.3 810.0,553.3 820.0,557.5 826.7,560.0 833.3,557.5 838.3,558.3 843.3,553.3 850.0,552.5 852.5,558.3 846.7,563.3 843.3,566.7 846.7,571.7 841.7,575.0 838.3,578.3 835.8,575.0 831.7,577.5 828.3,575.0 825.8,578.3 820.0,583.3 813.3,590.0 806.7,598.3 801.7,606.7 799.2,616.7 795.8,623.3 791.7,615.0 787.5,603.3 783.3,591.7 780.0,581.7 775.8,578.3 770.0,575.0 771.7,568.3 766.7,566.7 765.8,555.0 770.0,550.0 775.0,543.3 778.3,535.0" fill="#1b815b" stroke="#1b815b" stroke-width="1.5" stroke-linejoin="round"/>
<polygon points="800.0,550.0 810.0,553.3 820.0,557.5 826.7,560.0 825.8,562.0 818.3,561.2 808.3,557.8 800.0,553.7" fill="#1b815b" stroke="#1b815b" stroke-width="1.5" stroke-linejoin="round"/>
<polygon points="829.2,557.5 835.8,556.7 836.7,560.0 830.8,560.8" fill="#1b815b" stroke="#1b815b" stroke-width="1.5" stroke-linejoin="round"/>
<polygon points="826.7,565.0 833.3,564.2 837.5,566.7 835.8,573.3 838.3,578.3 833.3,577.5 829.2,575.0 827.5,570.0" fill="#1b815b" stroke="#1b815b" stroke-width="1.5" stroke-linejoin="round"/>
<polygon points="843.3,566.7 850.0,560.0 855.0,558.3 856.7,565.0 860.0,571.7 863.3,576.7 865.0,580.0 860.0,583.3 858.3,586.7 860.0,593.3 861.7,603.3 863.3,615.0 864.2,620.0 861.7,616.7 860.0,606.7 858.3,598.3 855.0,595.0 850.8,598.3 848.3,593.3 846.7,585.0 843.3,578.3 841.7,575.0 846.7,571.7" fill="#1b815b" stroke="#1b815b" stroke-width="1.5" stroke-linejoin="round"/>
<polygon points="858.3,586.7 865.0,583.3 868.3,586.7 869.2,592.5 875.0,593.3 876.7,600.0 875.0,605.0 870.8,606.7 866.7,603.3 863.3,606.7 864.2,616.7 866.7,626.7 870.0,631.7 866.7,630.0 862.5,623.3 860.8,613.3 861.7,603.3 860.0,593.3" fill="#1b815b" stroke="#1b815b" stroke-width="1.5" stroke-linejoin="round"/>
<polygon points="865.0,580.0 870.0,576.7 875.0,578.3 876.7,583.3 880.0,586.7 883.3,593.3 884.2,600.0 880.0,603.3 876.7,600.0 875.0,593.3 869.2,592.5 868.3,586.7" fill="#1b815b" stroke="#1b815b" stroke-width="1.5" stroke-linejoin="round"/>
<polygon points="875.0,578.3 880.0,575.0 885.0,576.7 888.3,581.7 885.0,585.0 883.3,590.0 888.3,596.7 893.3,603.3 894.2,610.0 890.0,615.0 885.0,618.3 884.2,623.3 882.5,624.2 883.3,616.7 888.3,611.7 889.2,605.0 884.2,600.0 883.3,593.3 880.0,586.7 876.7,583.3" fill="#1b815b" stroke="#1b815b" stroke-width="1.5" stroke-linejoin="round"/>
<polygon points="875.0,605.0 880.0,603.7 888.3,604.2 889.2,610.0 885.0,615.8 879.2,615.8 875.0,611.7" fill="#a9d9bb" stroke="#a9d9bb" stroke-width="1.5" stroke-linejoin="round"/>
<polygon points="895.3,648.8 902.9,646.7 911.6,642.3 919.2,639.1 923.6,643.4 921.4,652.1 918.1,660.8 911.6,664.0 905.1,662.9 898.6,658.6 894.3,654.3" fill="#1b815b" stroke="#1b815b" stroke-width="1.5" stroke-linejoin="round"/>
<polygon points="911.6,641.2 916.0,634.7 921.4,631.5 924.6,634.7 922.5,640.2 919.2,639.1 911.6,642.3" fill="#4fc48a" stroke="#4fc48a" stroke-width="1.5" stroke-linejoin="round"/>
<circle cx="600" cy="489" r="41" fill="none" stroke="#d4d4d4" stroke-width=".7" stroke-dasharray=".7 .9"/>
<circle cx="358" cy="590" r="53" fill="none" stroke="#d4d4d4" stroke-width=".7" stroke-dasharray=".7 .9"/>
<circle cx="576.8" cy="634.2" r="40" fill="none" stroke="#d4d4d4" stroke-width=".7" stroke-dasharray=".7 .9"/>
<circle cx="693.5" cy="575" r="49" fill="none" stroke="#d4d4d4" stroke-width=".7" stroke-dasharray=".7 .9"/>
<circle cx="853" cy="587" r="38" fill="none" stroke="#d4d4d4" stroke-width=".7" stroke-dasharray=".7 .9"/>
<polyline points="573,458 465,382" fill="none" stroke="#dcdcdc" stroke-width=".7" stroke-dasharray=".7 .9"/>
<polyline points="1072,519 1001,595 885,595" fill="none" stroke="#dcdcdc" stroke-width=".7" />
<polyline points="553,667 512,735" fill="none" stroke="#dcdcdc" stroke-width=".7" stroke-dasharray=".7 .9"/>
<polyline points="176,638 305,638" fill="none" stroke="#dcdcdc" stroke-width=".7" stroke-dasharray=".7 .9"/>
<polyline points="305,638 325,625" fill="none" stroke="#dcdcdc" stroke-width=".7" stroke-dasharray=".7 .9"/>
<polyline points="722,535 770,455 860,300" fill="none" stroke="#dcdcdc" stroke-width=".7" stroke-dasharray=".7 .9"/>
<polygon points="196.2,349.5 187.5,340.0 175.0,330.0 167.5,331.2 160.0,335.0 157.5,345.0 148.0,352.5 153.0,360.5 145.0,365.0 135.0,366.2 131.2,369.0 145.0,371.5 155.0,370.0 165.0,367.5 170.0,373.8 177.0,381.2 180.0,391.2 183.0,403.8 184.5,415.0 185.5,420.0 184.5,403.8 185.5,392.0 178.0,381.2" fill="#a9d9bb" />
<polygon points="193.2,442.5 270.0,456.8 280.0,455.0 283.0,460.5 285.5,470.0 285.0,480.0 295.0,478.0 293.0,468.0 296.2,470.0 300.5,478.8 310.0,470.0 320.0,465.0 327.5,460.0 332.5,450.0 337.5,455.0 335.5,462.5 330.5,470.0 325.5,480.0 320.5,485.0 323.8,495.0 318.0,505.0 310.5,515.0 306.2,522.5 312.5,527.5 320.0,540.0 318.0,543.8 311.2,535.5 305.0,526.5 295.0,523.8 285.0,526.2 275.0,527.5 265.0,532.5 257.0,540.0 255.0,545.0 248.0,538.0 242.5,532.5 235.5,532.5 228.0,523.8 218.0,520.0 205.5,517.5 189.2,510.0 181.8,492.5 178.0,475.0 181.2,462.5 188.8,448.0" fill="#a9d9bb" />
<polygon points="196.0,349.9 209.0,358.5 219.5,364.5 230.0,372.0 237.5,375.0 245.0,376.5 251.0,378.0 257.0,379.5 263.0,379.5 267.5,375.0 270.5,378.0 273.5,382.5 275.0,388.5 272.0,393.0 267.5,396.0 263.7,402.0 262.2,409.5 263.0,417.0 266.0,421.5 272.0,423.0 281.0,426.0 288.5,429.7 293.0,435.0 297.5,441.0 300.5,439.5 302.0,433.5 301.2,424.5 299.0,415.5 296.7,408.0 294.5,400.5 295.2,396.7 302.0,395.2 311.0,396.7 318.5,400.5 321.5,405.0 322.2,398.2 327.5,402.0 333.5,406.5 341.0,409.5 346.2,408.7 350.0,412.5 351.5,416.2 347.7,420.0 344.0,426.0 339.5,430.5 335.0,433.5 330.5,438.0 327.5,441.7 329.0,448.5 329.0,454.5 320.0,460.5 315.5,465.0 308.0,469.9 305.0,474.0 303.5,465.0 297.5,462.0 291.5,461.2 290.0,457.5 284.0,454.5 278.0,457.5 273.5,459.0 266.0,457.5 194.0,441.3 191.3,435.7 187.3,426.7 184.3,414.7 183.2,402.7 184.7,390.7 177.2,380.2" fill="#1b815b" />
<polygon points="222.8,352.4 226.9,345.1 230.6,345.5 234.7,349.7 232.9,352.4 228.8,354.2 226.5,357.5 223.7,356.1" fill="#1b815b" />
<polygon points="230.1,358.8 234.7,355.6 238.8,358.4 242.5,357.9 246.2,356.1 247.5,360.7 246.2,364.3 250.3,368.0 248.9,371.2 245.2,370.3 241.6,371.7 237.0,372.1 233.3,368.9 236.1,367.1 234.2,364.3 230.6,363.4" fill="#1b815b" />
<polygon points="237.5,341.9 241.6,341.0 243.4,342.8 245.7,341.0 246.2,344.2 248.5,345.1 246.2,347.4 242.5,348.3 239.8,347.8 240.7,345.1 238.4,344.2" fill="#1b815b" />
<polygon points="251.7,341.9 256.2,342.3 257.2,347.8 254.9,345.1 252.6,344.6" fill="#1b815b" />
<polygon points="259.5,341.0 262.7,341.0 266.3,343.7 271.8,344.6 276.9,344.2 277.3,348.8 266.3,348.8 265.0,345.1 260.8,343.2" fill="#1b815b" />
<polygon points="259.5,346.5 261.3,346.0 261.8,349.2 259.9,349.7" fill="#1b815b" />
<polygon points="253.0,354.7 256.7,354.7 258.1,361.6 256.2,362.5 254.4,359.3" fill="#1b815b" />
<polygon points="260.8,353.3 264.5,352.9 262.7,357.9 261.3,357.5" fill="#1b815b" />
<polygon points="259.5,361.6 261.8,360.7 265.0,366.2 265.0,371.7 262.7,373.5 260.4,369.8" fill="#1b815b" />
<polygon points="255.3,373.5 258.1,371.7 259.0,376.2 256.7,378.1" fill="#1b815b" />
<polygon points="269.1,355.6 272.3,354.7 274.6,362.5 275.5,366.2 272.8,367.1 270.0,362.5" fill="#1b815b" />
<polygon points="273.7,354.2 279.2,355.6 284.7,356.5 291.1,359.3 297.5,362.5 299.3,367.1 305.8,368.5 312.2,370.3 311.2,374.4 305.8,376.2 310.3,380.8 313.5,385.9 312.2,390.0 306.7,388.2 302.1,386.3 297.5,385.4 294.8,383.6 292.0,386.3 291.1,385.0 295.7,382.7 294.8,376.2 291.1,371.7 288.3,368.0 284.7,365.2 281.0,366.2 277.3,367.1 274.6,364.3 277.3,363.4 275.5,358.8" fill="#1b815b" />
<polygon points="275.0,370.3 279.2,370.8 280.1,375.3 281.9,379.9 279.2,382.7 276.0,379.0" fill="#1b815b" />
<polygon points="276.4,388.2 279.2,387.7 284.7,390.5 282.4,392.3 281.0,395.5 278.7,393.7" fill="#1b815b" />
<polygon points="282.8,396.4 284.7,396.0 284.2,398.2" fill="#1b815b" />
<polygon points="335.0,433.5 341.0,435.0 341.7,441.7 346.2,445.5 353.0,441.7 350.7,448.5 344.0,455.2 343.2,451.5 347.0,446.2 341.0,447.0 336.5,445.5 330.5,444.0 327.5,441.7 330.5,438.0" fill="#1b815b" />
<polygon points="352.2,420.0 356.0,426.0 362.7,421.5 367.2,426.0 362.0,427.5 359.0,430.5 354.5,432.7 352.2,427.5" fill="#1b815b" />
<polygon points="195.0,511.6 202.0,517.0 213.0,522.0 220.0,523.0 224.0,520.0 229.0,527.0 235.0,532.0 240.0,533.0 244.0,538.0 248.0,544.0 255.0,546.0 255.6,556.0 257.0,566.0 259.0,574.0 264.0,580.0 270.0,582.0 278.0,581.0 283.0,578.0 284.0,570.0 289.0,565.6 299.0,565.6 298.4,572.0 295.6,579.0 291.6,582.0 290.0,583.0 283.0,584.0 281.0,588.0 278.0,594.0 270.0,591.0 264.0,588.0 256.0,588.0 246.0,584.0 238.0,580.0 228.0,575.0 221.0,572.0 224.0,568.0 218.0,560.0 213.0,548.0 208.0,538.0 203.0,528.0 200.0,520.0 197.0,516.0" fill="#f3cb66" />
<polygon points="188.6,510.0 195.0,511.6 194.0,520.0 196.0,530.0 194.0,533.0 198.0,541.0 203.0,549.0 207.0,554.4 206.0,556.4 200.0,548.4 194.0,538.4 190.0,526.4 188.4,516.4" fill="#f3cb66" />
<polygon points="281.0,588.0 283.0,584.0 290.0,583.0 291.0,590.0 295.0,591.0 292.0,598.0 288.0,599.6 282.0,597.0 278.0,594.0" fill="#a9d9bb" stroke="#ffffff" stroke-width="0.5" />
<polygon points="291.6,582.0 295.6,579.6 295.6,590.0 292.0,590.0" fill="#11654f" stroke="#ffffff" stroke-width="0.5" />
<polygon points="292.4,594.0 298.0,590.0 310.0,589.0 317.0,591.0 310.0,596.0 304.0,598.0 301.0,602.0 297.0,599.6 293.0,599.0" fill="#1b815b" stroke="#ffffff" stroke-width="0.5" />
<polygon points="288.0,599.6 292.4,598.4 297.0,600.0 295.6,602.4 290.0,601.2" fill="#a9d9bb" stroke="#ffffff" stroke-width="0.5" />
<polygon points="302.0,602.0 304.4,598.0 311.0,596.0 318.0,591.6 319.0,602.0 318.0,610.0 313.0,612.0 308.0,608.0 304.0,605.0" fill="#a9d9bb" stroke="#ffffff" stroke-width="0.5" />
<polygon points="310.0,612.0 318.0,611.0 322.0,615.0 321.0,620.0 316.0,618.0 311.0,615.0" fill="#4fc48a" stroke="#ffffff" stroke-width="0.5" />
<polygon points="322.0,618.0 328.0,620.0 334.0,618.0 340.0,616.4 346.0,620.0 347.0,623.0 342.0,622.0 336.0,621.0 330.0,623.6 324.0,622.0" fill="#a9d9bb" stroke="#ffffff" stroke-width="0.5" />
<polygon points="308.0,557.6 318.0,559.0 330.0,564.0 340.0,568.0 348.0,570.0 342.0,571.0 330.0,568.0 318.0,563.0 309.0,560.0" fill="#e4e4e4" />
<polygon points="332.0,578.0 337.0,579.0 339.0,581.0 334.0,580.4" fill="#1b815b" />
<polygon points="351.0,575.0 356.0,573.6 359.6,573.0 360.0,581.0 357.0,579.6 352.0,579.0" fill="#a9d9bb" />
<polygon points="359.6,573.6 367.0,574.0 372.0,578.0 373.0,582.0 368.0,580.0 363.0,581.0 359.6,582.0" fill="#1b815b" />
<polygon points="376.0,582.0 384.0,582.4 384.0,584.0 376.0,583.6" fill="#e4e4e4" />
<polygon points="334.4,550.0 335.8,550.0 335.8,551.4 334.4,551.4" fill="#f3cb66" />
<polygon points="337.0,552.4 338.4,552.4 338.4,553.8 337.0,553.8" fill="#f3cb66" />
<polygon points="340.0,551.0 341.4,551.0 341.4,552.4 340.0,552.4" fill="#f3cb66" />
<polygon points="341.6,554.4 343.0,554.4 343.0,555.8 341.6,555.8" fill="#f3cb66" />
<polygon points="344.4,557.0 345.8,557.0 345.8,558.4 344.4,558.4" fill="#f3cb66" />
<polygon points="346.0,559.0 347.4,559.0 347.4,560.4 346.0,560.4" fill="#f3cb66" />
<polygon points="398.0,614.4 400.0,613.6 400.4,616.0 398.6,616.8" fill="#1b815b" />
<polygon points="368.1,652.2 372.2,653.5 377.5,648.1 381.5,649.5 385.5,646.8 390.9,641.5 398.9,641.5 397.6,646.8 401.6,650.8 408.3,649.5 413.6,649.5 420.3,649.5 425.6,644.1 432.3,653.5 445.7,658.8 461.8,664.2 477.8,673.6 479.1,680.2 469.8,690.9 465.8,701.6 464.4,717.7 453.7,725.7 437.7,731.1 432.3,739.1 429.7,749.8 423.0,756.5 420.3,757.8 414.9,751.1 409.6,748.4 408.3,740.4 414.9,736.4 413.6,725.7 405.6,720.4 400.2,713.7 404.2,708.3 397.6,703.0 396.2,694.9 386.9,690.9 377.5,681.6 366.8,685.6 360.1,680.2 354.8,672.2 365.5,662.9" fill="#1b815b" stroke="#ffffff" stroke-width="0.5" />
<polygon points="340.1,640.1 346.7,626.7 360.1,617.4 365.5,613.4 360.1,622.7 362.8,629.4 373.5,630.8 376.2,640.1 377.5,648.1 372.2,653.5 368.1,652.2 365.5,662.9 358.8,657.5 352.1,650.8 345.4,649.5 338.7,646.8" fill="#4fc48a" stroke="#ffffff" stroke-width="0.5" />
<polygon points="360.1,622.7 365.5,614.7 373.5,616.0 384.2,620.1 393.6,622.7 398.9,629.4 396.2,636.1 398.9,641.5 390.9,641.5 385.5,646.8 381.5,649.5 377.5,648.1 376.2,640.1 373.5,630.8 362.8,629.4" fill="#11654f" stroke="#ffffff" stroke-width="0.5" />
<polygon points="398.9,629.4 404.2,632.1 409.6,638.8 405.6,644.1 408.3,649.5 401.6,650.8 397.6,646.8 398.9,641.5 396.2,636.1" fill="#4fc48a" stroke="#ffffff" stroke-width="0.5" />
<polygon points="405.6,640.1 413.6,637.4 416.3,644.1 413.6,649.5 406.9,648.7" fill="#eda04e" stroke="#ffffff" stroke-width="0.5" />
<polygon points="415.8,640.1 423.0,638.8 425.6,644.1 420.3,649.5 415.8,648.1" fill="#e3e4e4" stroke="#ffffff" stroke-width="0.5" />
<polygon points="334.7,650.8 344.1,648.1 350.8,652.2 346.7,660.2 342.7,665.5 336.0,664.2 333.4,657.5" fill="#f3cb66" stroke="#ffffff" stroke-width="0.5" />
<polygon points="333.4,664.2 342.7,665.5 346.7,660.2 350.8,652.2 358.8,657.5 365.5,662.9 354.8,672.2 360.1,680.2 366.8,685.6 368.1,699.0 372.2,707.0 368.1,708.3 362.8,705.6 354.8,699.0 345.4,690.9 338.7,677.6" fill="#4fc48a" stroke="#ffffff" stroke-width="0.5" />
<polygon points="366.8,685.6 377.5,681.6 386.9,690.9 396.2,694.9 397.6,703.0 404.2,708.3 400.2,713.7 390.9,715.0 385.5,721.7 377.5,721.7 373.5,715.0 369.5,708.3 372.2,707.0 368.1,699.0" fill="#f3cb66" stroke="#ffffff" stroke-width="0.5" />
<polygon points="390.9,715.0 400.2,713.7 405.6,720.4 413.6,725.7 414.9,736.4 408.3,740.4 400.2,739.1 397.6,728.4 389.5,723.0 385.5,721.7" fill="#1b815b" stroke="#ffffff" stroke-width="0.5" />
<polygon points="402.9,749.8 409.6,748.4 414.9,751.1 420.3,757.8 414.9,763.7 405.6,764.5 400.2,759.1" fill="#f3cb66" stroke="#ffffff" stroke-width="0.5" />
<polygon points="377.5,721.7 385.5,721.7 389.5,723.0 397.6,728.4 400.2,739.1 408.3,740.4 409.6,748.4 402.9,749.8 400.2,759.1 405.6,764.5 404.2,771.2 397.6,777.9 389.5,781.9 388.2,787.2 381.5,788.6 382.9,797.9 377.5,803.3 378.8,811.3 373.5,816.6 377.5,827.3 374.8,835.4 378.8,842.1 385.5,844.7 382.9,847.4 373.5,840.7 368.1,830.0 365.5,816.6 362.8,803.3 364.1,787.2 362.8,771.2 365.5,755.1 368.1,739.1 373.5,725.7" fill="#1b815b" stroke="#ffffff" stroke-width="0.5" />
<polygon points="362.8,705.6 368.1,708.3 369.5,708.3 373.5,715.0 377.5,721.7 373.5,725.7 368.1,739.1 365.5,755.1 362.8,771.2 364.1,787.2 362.8,803.3 365.5,816.6 368.1,830.0 373.5,840.7 382.9,847.4 377.5,847.4 369.5,840.7 362.8,832.7 358.8,819.3 357.4,803.3 356.1,781.9 358.8,760.5 361.5,739.1 364.1,720.4" fill="#11654f" stroke="#ffffff" stroke-width="0.5" />
<polygon points="497,403 500,399 506,398 509,400 514,396 521,396 524,400 521,406 514,410 506,411 499,409 501,405" fill="#f3cb66" />
<polygon points="575.8,438.3 573.3,430.0 575.0,421.7 580.0,416.7 585.0,411.7 590.0,403.3 594.2,395.0 599.2,385.8 605.8,380.0 613.3,375.0 620.0,370.8 627.5,368.3 631.7,370.8 630.0,374.2 625.8,375.8 622.5,378.3 617.5,380.8 615.0,383.3 610.0,382.5 604.2,385.8 600.0,391.7 595.8,400.0 593.3,406.7 590.0,411.7 589.2,420.0 590.8,428.3 587.5,433.3 583.3,438.3 579.2,439.2" fill="#f3cb66" />
<polygon points="604.2,385.8 610.0,382.5 615.0,383.3 617.5,380.8 616.7,388.3 618.3,394.2 616.7,398.3 611.7,400.0 609.2,406.7 605.8,413.3 602.5,420.0 602.5,425.8 605.8,430.8 603.3,438.3 599.2,448.3 594.2,449.2 590.8,442.5 588.3,435.0 590.8,428.3 589.2,420.0 590.0,411.7 593.3,406.7 595.8,400.0 600.0,391.7" fill="#4fc48a" />
<polygon points="617.5,380.8 622.5,378.3 625.8,375.8 628.3,379.2 629.2,385.8 631.7,393.3 635.0,401.7 637.5,410.0 638.3,415.8 635.0,420.0 628.3,424.2 621.7,427.5 617.5,425.8 613.3,420.0 614.2,414.2 617.5,407.5 620.0,400.0 618.3,394.2 616.7,388.3" fill="#a9d9bb" />
<polygon points="544.0,439.0 550.0,437.0 552.0,442.0 550.0,446.0 555.0,452.0 559.0,458.0 558.0,463.0 563.0,466.0 559.0,470.0 552.0,472.0 545.0,471.0 549.0,466.0 546.0,462.0 550.0,458.0 546.0,454.0 544.0,448.0" fill="#11654f" />
<polygon points="531.0,456.0 538.0,452.0 542.0,455.0 541.0,462.0 537.0,466.0 532.0,466.0" fill="#1b815b" />
<polygon points="580.8,447.5 584.2,443.3 585.3,448.3 583.3,452.5 580.8,451.7" fill="#11654f" />
<polygon points="547.0,481.0 555.0,478.0 561.0,471.0 567.0,472.0 571.0,476.0 578.0,478.0 580.0,484.0 577.0,490.0 578.0,496.0 580.0,499.0 574.0,504.0 567.0,502.0 563.0,505.0 557.0,502.0 552.0,498.0 555.0,490.0 552.0,485.0" fill="#4fc48a" stroke="#ffffff" stroke-width="0.5" />
<polygon points="567.5,470.0 571.7,465.0 576.7,460.8 578.3,466.7 575.8,472.5 572.5,476.7 568.3,474.2" fill="#f3cb66" stroke="#ffffff" stroke-width="0.5" />
<polygon points="575.8,466.7 578.3,461.7 585.0,456.7 593.3,458.3 599.2,459.2 600.0,465.0 603.3,470.0 598.3,473.3 595.8,477.5 600.0,480.8 595.8,483.3 588.3,482.5 581.7,483.3 578.3,478.3 576.7,473.3" fill="#4fc48a" stroke="#ffffff" stroke-width="0.5" />
<polygon points="600.0,456.7 608.3,453.3 616.7,454.2 623.3,455.8 625.0,460.0 625.8,465.8 624.2,470.0 623.3,475.0 616.7,475.8 610.0,473.3 603.3,470.0 599.2,465.0" fill="#4fc48a" stroke="#ffffff" stroke-width="0.5" />
<polygon points="593.3,473.3 598.3,470.0 603.3,470.0 610.0,473.3 616.7,475.8 610.0,479.2 603.3,480.0 597.5,478.3" fill="#1b815b" stroke="#ffffff" stroke-width="0.5" />
<polygon points="610.0,479.2 616.7,475.8 624.2,476.7 622.5,480.8 615.0,482.5" fill="#1b815b" stroke="#ffffff" stroke-width="0.5" />
<polygon points="588.3,483.3 595.8,483.3 600.0,480.8 605.0,480.0 607.5,483.3 604.2,487.5 596.7,488.3 590.0,487.5" fill="#f3cb66" stroke="#ffffff" stroke-width="0.5" />
<polygon points="607.5,483.3 615.0,482.5 622.5,481.7 623.3,485.0 619.2,488.3 612.5,490.0 607.5,488.3" fill="#4fc48a" stroke="#ffffff" stroke-width="0.5" />
<polygon points="576.7,485.0 583.3,483.3 588.3,484.2 587.5,488.3 580.0,489.2" fill="#f3cb66" stroke="#ffffff" stroke-width="0.5" />
<polygon points="579.0,491.0 586.0,489.0 594.0,489.0 599.0,491.0 597.0,494.0 599.0,500.0 604.0,506.0 610.0,510.0 611.0,513.0 607.0,512.0 608.0,518.0 606.0,520.0 603.0,514.0 597.0,507.0 592.0,501.0 587.0,498.0 581.0,498.0" fill="#eda04e" stroke="#ffffff" stroke-width="0.5" />
<polygon points="598.0,521.0 603.0,522.0 602.0,525.0 598.0,523.0" fill="#eda04e" />
<polygon points="583.0,509.0 585.6,509.0 585.6,516.0 583.2,515.6" fill="#eda04e" />
<polygon points="583.6,503.0 585.2,503.0 585.2,507.0 583.6,507.0" fill="#4fc48a" />
<polygon points="533.0,502.0 542.0,500.0 552.0,501.0 560.0,503.0 565.0,505.0 559.0,512.0 557.0,520.0 550.0,524.0 542.0,525.0 540.0,528.0 537.0,522.0 539.0,512.0 540.0,506.0" fill="#4fc48a" stroke="#ffffff" stroke-width="0.5" />
<polygon points="533.0,502.0 540.0,506.0 539.0,512.0 537.0,522.0 533.0,521.0 534.0,512.0" fill="#4fc48a" stroke="#ffffff" stroke-width="0.5" />
<polygon points="599.0,489.0 609.0,490.0 615.0,492.0 616.0,498.0 619.0,504.0 616.0,508.0 610.0,500.0 604.0,494.0" fill="#11654f" stroke="#ffffff" stroke-width="0.5" />
<polygon points="608.0,493.0 614.0,494.0 615.6,500.0 611.0,498.0" fill="#a9d9bb" stroke="#ffffff" stroke-width="0.5" />
<polygon points="622.5,481.7 630.0,480.0 636.7,480.8 642.5,485.0 645.0,488.3 641.7,493.3 635.0,496.7 626.7,496.7 620.8,493.3 619.2,488.3 623.3,485.0" fill="#11654f" stroke="#ffffff" stroke-width="0.5" />
<polygon points="640.0,479.2 644.2,483.3 645.8,488.3 643.3,488.3 641.7,484.2" fill="#1b815b" stroke="#ffffff" stroke-width="0.5" />
<polygon points="625.0,498.0 632.0,498.0 640.0,497.0 639.0,503.0 632.0,506.0 625.0,504.0" fill="#1b815b" stroke="#ffffff" stroke-width="0.5" />
<polygon points="616.0,490.0 620.0,491.0 625.0,498.0 624.0,504.0 620.0,505.0 617.0,498.0" fill="#1b815b" stroke="#ffffff" stroke-width="0.5" />
<polygon points="616.0,506.0 619.0,505.0 619.6,512.0 617.0,514.0" fill="#a9d9bb" stroke="#ffffff" stroke-width="0.5" />
<polygon points="618.0,509.0 624.0,505.0 629.0,508.0 626.0,512.0 629.0,520.0 624.0,523.0 621.0,518.0 618.0,514.0" fill="#1b815b" stroke="#ffffff" stroke-width="0.5" />
<polygon points="625.8,465.8 633.3,465.0 641.7,465.0 647.5,463.3 653.3,465.0 660.0,463.3 666.7,466.7 671.7,471.7 670.8,478.3 666.7,483.3 660.0,485.0 655.0,486.7 658.3,490.8 661.7,492.5 657.5,494.2 653.3,490.0 648.3,488.3 644.2,483.3 640.0,479.2 633.3,479.2 626.7,480.0 623.3,475.0 624.2,470.0" fill="#11654f" stroke="#ffffff" stroke-width="0.5" />
<polygon points="630.0,453.3 635.0,448.3 641.7,446.7 644.2,450.8 646.7,454.2 650.0,458.3 646.7,463.3 641.7,465.0 633.3,465.0 625.8,465.8 625.0,460.0 628.3,455.8" fill="#11654f" stroke="#ffffff" stroke-width="0.5" />
<polygon points="618.3,447.5 626.7,446.3 633.3,447.5 630.0,453.3 628.3,455.8 623.3,455.0 619.2,451.7" fill="#1b815b" stroke="#ffffff" stroke-width="0.5" />
<polygon points="618.3,442.5 626.7,440.0 635.0,440.0 638.3,443.3 633.3,446.7 626.7,445.8 619.2,446.7" fill="#4fc48a" stroke="#ffffff" stroke-width="0.5" />
<polygon points="623.3,434.2 631.7,431.7 634.2,433.3 635.0,438.3 626.7,439.2" fill="#1b815b" stroke="#ffffff" stroke-width="0.5" />
<polygon points="640.0,512.8 645.1,509.6 652.8,507.1 661.8,506.4 670.8,508.3 678.5,509.6 684.9,509.0 687.5,513.5 689.4,518.0 689.4,521.8 684.3,523.7 682.4,521.8 678.5,524.4 672.1,525.7 666.3,527.6 663.1,523.1 656.7,524.4 649.0,523.7 642.6,521.8 640.6,518.0" fill="#1b815b" stroke="#ffffff" stroke-width="0.5" />
<polygon points="632.0,509.0 638.0,508.4 639.0,513.0 634.0,512.4" fill="#1b815b" />
<polygon points="678.5,502.6 686.2,501.9 693.9,505.1 691.3,507.7 684.9,506.4" fill="#11654f" stroke="#ffffff" stroke-width="0.5" />
<polygon points="684.9,509.0 691.3,507.7 693.9,505.1 699.0,507.7 701.6,512.8 697.8,514.1 696.5,516.0 692.6,515.4 689.4,518.0 687.5,513.5" fill="#1b815b" stroke="#ffffff" stroke-width="0.5" />
<polygon points="696.5,506.4 700.3,505.1 702.9,510.3 701.6,512.8 699.0,507.7" fill="#11654f" stroke="#ffffff" stroke-width="0.5" />
<polygon points="518.0,558.0 524.0,553.0 532.0,540.0 540.0,532.0 546.0,530.0 552.0,533.0 553.0,540.0 546.0,545.0 538.0,549.0 529.0,556.0 528.0,558.0" fill="#4fc48a" stroke="#ffffff" stroke-width="0.5" />
<polygon points="500.0,576.0 505.0,568.0 510.0,560.0 518.0,558.0 528.0,557.0 528.0,560.0 518.0,561.0 516.0,566.0 511.0,576.0" fill="#e3e4e4" stroke="#ffffff" stroke-width="0.5" />
<polygon points="529.0,557.0 538.0,549.0 546.0,545.0 553.0,540.0 555.0,530.0 581.0,529.0 582.0,538.0 586.0,550.0 587.0,562.0 591.0,574.0 592.0,577.0 580.0,580.0 566.0,586.0 552.0,576.0 537.0,566.0" fill="#a9d9bb" stroke="#ffffff" stroke-width="0.5" />
<polygon points="581.0,529.0 584.0,527.0 590.0,527.0 591.0,533.0 589.0,539.0 592.0,543.0 587.0,549.0 586.0,550.0 582.0,538.0" fill="#1b815b" stroke="#ffffff" stroke-width="0.5" />
<polygon points="585.0,548.0 587.0,549.0 591.0,545.0 598.0,542.0 606.0,545.0 616.0,549.0 624.0,544.0 633.0,546.0 634.0,556.0 635.0,586.0 629.0,586.0 604.0,576.0 598.0,575.0 592.0,575.0 589.0,572.0 587.0,562.0" fill="#a9d9bb" stroke="#ffffff" stroke-width="0.5" />
<polygon points="633.0,549.0 642.0,546.0 656.0,547.0 663.0,545.0 664.0,552.0 661.0,553.0 664.0,562.0 669.0,572.0 672.0,579.0 635.0,580.0 634.0,556.0" fill="#11654f" stroke="#ffffff" stroke-width="0.5" />
<polygon points="635.0,580.0 672.0,579.0 678.0,588.0 680.0,594.0 677.0,598.0 675.0,608.0 671.0,616.0 668.0,622.0 663.0,616.0 658.0,623.0 650.0,622.0 644.0,623.0 638.0,622.0 632.0,619.0 629.0,612.0 628.0,605.0 631.0,600.0 635.0,598.0" fill="#11654f" stroke="#ffffff" stroke-width="0.5" />
<polygon points="500.0,579.0 511.0,576.0 516.0,566.0 518.0,561.0 528.0,560.0 528.0,558.0 537.0,566.0 532.0,567.0 533.0,600.0 512.0,601.0 506.0,596.0 500.0,594.0 498.0,588.0" fill="#11654f" stroke="#ffffff" stroke-width="0.5" />
<polygon points="533.0,567.0 537.0,566.0 552.0,576.0 566.0,586.0 567.0,594.0 560.0,600.0 554.0,603.0 544.0,606.0 536.0,612.0 532.0,618.0 524.0,618.0 520.0,612.0 512.0,608.0 512.0,601.0 533.0,600.0" fill="#a9d9bb" stroke="#ffffff" stroke-width="0.5" />
<polygon points="498.0,594.0 506.0,596.0 512.0,601.0 511.0,608.0 504.0,609.0 498.0,606.0 496.0,600.0" fill="#a9d9bb" stroke="#ffffff" stroke-width="0.5" />
<polygon points="497.0,602.4 505.0,602.4 505.0,604.0 497.0,604.0" fill="#a9d9bb" stroke="#ffffff" stroke-width="0.5" />
<polygon points="498.0,606.0 504.0,609.0 501.0,612.0 498.0,610.4" fill="#a9d9bb" stroke="#ffffff" stroke-width="0.5" />
<polygon points="500.0,610.0 511.0,608.0 520.0,612.0 523.0,620.0 524.0,628.0 518.0,624.0 512.0,620.0 506.0,618.0 501.0,616.0" fill="#a9d9bb" stroke="#ffffff" stroke-width="0.5" />
<polygon points="506.0,620.0 512.0,620.0 514.0,625.0 510.0,628.0 506.4,624.0" fill="#11654f" stroke="#ffffff" stroke-width="0.5" />
<polygon points="513.0,626.0 518.0,625.0 524.0,632.0 524.4,638.0 518.0,633.0 513.6,629.0" fill="#11654f" stroke="#ffffff" stroke-width="0.5" />
<polygon points="524.0,618.0 532.0,618.0 536.0,620.0 540.0,620.0 542.0,637.0 530.0,638.0 525.0,638.0 524.4,630.0" fill="#e3e4e4" stroke="#ffffff" stroke-width="0.5" />
<polygon points="536.0,612.0 544.0,606.0 554.0,603.0 560.0,609.0 556.0,614.0 550.0,618.0 542.0,619.0 536.0,620.0 532.0,618.0" fill="#e3e4e4" stroke="#ffffff" stroke-width="0.5" />
<polygon points="542.0,619.0 550.0,618.0 552.0,636.0 542.0,637.0" fill="#1b815b" stroke="#ffffff" stroke-width="0.5" />
<polygon points="551.0,618.0 555.0,616.0 557.0,635.0 552.4,636.0" fill="#1b815b" stroke="#ffffff" stroke-width="0.5" />
<polygon points="555.6,616.0 560.0,613.0 563.0,616.0 562.0,633.0 557.4,634.4" fill="#11654f" stroke="#ffffff" stroke-width="0.5" />
<polygon points="554.0,603.0 560.0,600.0 567.0,594.0 566.0,586.0 580.0,580.0 592.0,577.0 602.0,576.0 605.0,584.0 604.0,596.0 600.0,606.0 597.0,610.0 588.0,610.0 576.0,609.6 568.0,609.0 563.0,614.0 560.0,609.0" fill="#11654f" stroke="#ffffff" stroke-width="0.5" />
<polygon points="563.0,615.0 568.0,609.0 576.0,609.6 588.0,610.0 597.0,610.0 600.0,616.0 596.0,626.0 590.0,632.0 582.0,638.0 572.0,638.0 564.0,634.0 562.4,624.0" fill="#1b815b" stroke="#ffffff" stroke-width="0.5" />
<polygon points="604.0,576.0 629.0,586.0 635.0,586.0 635.0,598.0 631.0,600.0 628.0,605.0 629.0,612.0 624.0,619.0 616.0,626.0 610.0,628.0 606.0,624.0 603.0,615.0 599.0,608.0 602.0,600.0 605.0,590.0" fill="#4fc48a" stroke="#ffffff" stroke-width="0.5" />
<polygon points="598.0,608.0 603.0,615.0 606.0,624.0 610.0,628.0 606.0,634.0 602.0,642.0 596.0,648.0 589.0,648.0 586.0,642.0 582.0,638.0 586.0,633.0 592.0,630.0 596.0,624.0 600.0,614.0" fill="#1b815b" stroke="#ffffff" stroke-width="0.5" />
<polygon points="610.0,628.0 616.0,626.0 624.0,619.0 632.0,619.0 638.0,622.0 644.0,630.0 650.0,634.0 644.0,638.0 636.0,638.0 628.0,637.0 620.0,640.0 614.0,641.0 606.0,643.0 602.0,642.0 606.0,634.0" fill="#4fc48a" stroke="#ffffff" stroke-width="0.5" />
<polygon points="638.0,622.0 644.0,623.0 650.0,622.0 658.0,623.0 663.0,616.0 668.0,622.0 670.0,628.0 675.0,636.0 672.0,640.0 664.0,644.0 658.0,643.0 652.0,638.0 650.0,634.0 644.0,630.0" fill="#4fc48a" stroke="#ffffff" stroke-width="0.5" />
<polygon points="677.5,595.0 685.0,602.5 695.0,615.0 696.2,620.0 702.5,625.0 710.0,627.5 707.5,635.0 700.0,640.0 692.5,641.2 682.5,640.0 672.5,637.5 668.8,630.0 670.0,617.5 673.8,605.0" fill="#1b815b" stroke="#ffffff" stroke-width="0.5" />
<polygon points="673.8,586.2 678.8,590.0 686.2,600.0 695.0,612.5 695.0,615.0 685.0,602.5 677.5,595.0" fill="#1b815b" stroke="#ffffff" stroke-width="0.5" />
<polygon points="695.0,615.0 703.8,612.5 712.5,617.5 721.2,615.0 726.2,611.2 725.0,620.0 720.0,630.0 712.5,640.0 705.0,650.0 697.5,660.0 692.5,670.0 691.2,657.5 692.5,647.5 700.0,642.5 707.5,635.0 710.0,627.5 702.5,625.0 696.2,620.0" fill="#a9d9bb" stroke="#ffffff" stroke-width="0.5" />
<polygon points="670.0,640.0 682.5,640.0 692.5,641.2 692.5,647.5 691.2,657.5 692.5,670.0 685.0,668.8 677.5,665.0 670.0,660.0 667.5,650.0" fill="#4fc48a" stroke="#ffffff" stroke-width="0.5" />
<polygon points="658.0,646.0 664.0,644.0 672.0,640.0 669.0,650.0 668.0,659.0 660.0,660.0 657.0,654.0" fill="#1b815b" stroke="#ffffff" stroke-width="0.5" />
<polygon points="616.0,642.0 620.0,640.0 628.0,637.0 636.0,638.0 644.0,638.0 650.0,634.0 652.0,638.0 658.0,643.0 658.0,646.0 657.0,654.0 655.0,662.0 656.0,670.0 655.0,678.0 658.0,686.0 660.0,700.0 658.0,710.0 663.0,720.0 670.0,730.0 666.0,731.0 658.0,730.0 652.0,725.0 640.0,724.0 635.0,712.0 628.0,710.0 620.0,711.0 618.0,682.0 608.0,682.0 606.0,677.0 596.0,676.0 600.0,670.0 608.0,666.0 613.0,658.0 615.0,650.0" fill="#1b815b" stroke="#ffffff" stroke-width="0.5" />
<polygon points="602.0,642.0 606.0,643.0 614.0,641.0 616.0,642.0 615.0,650.0 613.0,658.0 608.0,666.0 600.0,670.0 596.0,672.0 592.0,670.0 596.0,665.0 600.0,660.0 599.0,650.0 595.0,650.0 589.0,648.0 596.0,648.0" fill="#f3cb66" stroke="#ffffff" stroke-width="0.5" />
<polygon points="586.0,649.0 589.0,648.0 595.0,650.0 599.0,650.0 600.0,660.0 596.0,665.0 592.0,670.0 586.0,664.0 584.0,656.0" fill="#a9d9bb" stroke="#ffffff" stroke-width="0.5" />
<polygon points="587.0,649.0 591.0,649.0 591.0,652.4 587.0,652.4" fill="#f3cb66" stroke="#ffffff" stroke-width="0.5" />
<polygon points="655.0,661.0 658.4,660.4 659.0,665.6 655.6,666.0" fill="#4fc48a" stroke="#ffffff" stroke-width="0.5" />
<polygon points="655.2,666.0 659.0,665.6 659.4,671.0 656.0,671.0" fill="#11654f" stroke="#ffffff" stroke-width="0.5" />
<polygon points="596.0,677.0 606.0,676.0 610.0,683.0 618.0,684.0 620.0,679.0 626.0,680.0 627.0,692.0 632.0,696.0 634.0,706.0 628.0,708.0 629.0,716.0 620.0,717.0 600.0,716.0 594.0,717.0 593.0,706.0 597.0,696.0 598.0,686.0" fill="#1b815b" stroke="#ffffff" stroke-width="0.5" />
<polygon points="593.0,670.0 596.4,669.0 597.0,674.0 594.0,675.0" fill="#1b815b" stroke="#ffffff" stroke-width="0.5" />
<polygon points="629.0,700.0 634.0,696.0 640.0,697.0 646.0,700.0 650.0,698.0 654.0,700.0 651.0,692.0 656.0,686.0 664.0,690.0 666.0,698.0 664.0,706.0 656.0,709.0 648.0,712.0 640.0,719.0 634.0,717.0 629.0,716.0 628.0,708.0 634.0,706.0" fill="#4fc48a" stroke="#ffffff" stroke-width="0.5" />
<polygon points="656.0,660.0 668.0,658.0 675.0,660.0 690.0,670.0 689.0,682.0 691.0,694.0 680.0,696.0 672.0,698.0 668.0,692.0 664.0,690.0 656.0,686.0 654.0,680.0 655.6,670.0" fill="#4fc48a" stroke="#ffffff" stroke-width="0.5" />
<polygon points="668.0,691.0 671.2,692.4 672.0,700.0 674.0,708.0 671.2,709.2 669.2,700.0" fill="#a9d9bb" stroke="#ffffff" stroke-width="0.5" />
<polygon points="672.0,698.0 680.0,696.0 691.0,694.0 690.0,704.0 686.0,711.0 678.0,718.0 671.0,724.0 669.0,732.0 670.0,738.0 664.0,744.0 659.0,747.0 659.0,740.0 662.0,732.0 663.0,724.0 664.0,715.0 656.0,709.0 664.0,706.0 669.0,709.0 674.0,708.0 672.0,700.0" fill="#1b815b" stroke="#ffffff" stroke-width="0.5" />
<polygon points="640.0,719.0 648.0,712.0 656.0,709.0 664.0,715.0 663.0,724.0 658.0,730.0 651.0,733.0 645.0,728.0" fill="#4fc48a" stroke="#ffffff" stroke-width="0.5" />
<polygon points="624.0,721.0 629.0,720.0 629.0,716.0 634.0,717.0 640.0,719.0 645.0,728.0 651.0,733.0 646.0,738.0 640.0,744.0 634.0,746.0 628.0,744.0 625.0,748.0 620.0,746.0 621.0,732.0 624.0,732.0" fill="#11654f" stroke="#ffffff" stroke-width="0.5" />
<polygon points="594.0,717.0 600.0,716.0 620.0,717.0 629.0,716.0 629.0,720.0 624.0,721.0 624.0,732.0 621.0,732.0 620.0,746.0 619.0,755.0 613.0,756.0 609.0,754.0 605.0,744.0 600.0,732.0 595.0,724.0" fill="#a9d9bb" stroke="#ffffff" stroke-width="0.5" />
<polygon points="609.0,754.0 613.0,756.0 619.0,755.0 620.0,746.0 625.0,748.0 628.0,744.0 634.0,746.0 640.0,744.0 646.0,738.0 651.0,733.0 658.0,730.0 659.0,740.0 659.0,747.0 660.0,751.0 656.0,758.0 650.0,765.0 644.0,770.0 636.0,772.0 628.0,772.0 620.0,774.4 614.0,770.0 611.0,762.0" fill="#11654f" stroke="#ffffff" stroke-width="0.5" />
<polygon points="655.0,746.0 659.0,745.6 659.4,751.0 656.0,751.6" fill="#4fc48a" stroke="#ffffff" stroke-width="0.5" />
<ellipse cx="645.6" cy="758.4" rx="3.2" ry="2.8" fill="#1a7f58" stroke="#fff" stroke-width=".6"/>
<polygon points="713.0,690.0 716.0,696.0 714.0,704.0 710.0,714.0 706.0,724.0 700.0,730.0 695.0,729.0 693.0,724.0 696.0,716.0 698.0,706.0 704.0,702.0 709.0,696.0" fill="#1b815b" />
<polygon points="630.0,374.0 631.7,370.7 636.7,375.0 640.0,377.3 646.7,379.0 653.3,381.7 660.0,384.0 659.0,389.0 655.0,393.3 648.3,391.7 641.7,389.0 638.3,390.7 643.3,395.7 646.7,400.0 651.7,405.0 655.7,407.3 660.0,403.3 662.3,398.3 665.0,393.3 670.0,391.7 670.7,387.3 666.7,383.3 667.3,380.0 675.0,381.7 676.7,385.7 680.0,382.3 686.7,380.0 693.3,378.3 700.0,375.7 706.7,374.0 710.0,371.7 716.7,372.3 722.3,370.7 726.7,366.7 733.3,368.3 739.0,370.0 740.0,363.3 737.3,358.3 741.7,353.3 746.7,352.3 750.0,356.7 748.3,365.0 750.0,370.0 748.3,375.0 746.7,380.0 751.0,378.3 753.7,371.7 752.3,362.0 756.3,356.3 762.0,355.0 766.0,359.0 768.7,349.3 779.7,345.3 788.0,338.7 799.0,333.0 810.0,327.3 818.3,323.3 825.0,329.0 834.7,330.3 841.7,334.3 837.3,341.3 829.3,345.3 826.7,348.0 837.3,345.3 848.7,348.0 856.7,346.7 865.0,349.3 876.0,348.0 881.3,355.0 887.0,357.7 892.7,353.7 903.3,349.3 911.7,346.7 917.3,341.3 924.0,344.0 933.7,346.7 944.7,345.3 955.7,348.0 969.3,349.3 977.7,344.0 986.0,338.7 993.0,331.7 1002.7,330.3 1016.3,334.3 1017.7,344.0 1013.3,351.0 1002.7,355.0 991.3,359.0 986.0,363.3 990.0,371.7 988.7,379.7 983.3,384.0 976.3,385.3 980.7,393.3 983.3,404.7 986.0,418.3 983.3,434.7 977.7,423.7 972.3,410.0 971.0,396.3 968.0,388.0 961.3,390.7 957.0,396.3 954.3,407.3 950.3,415.3 942.0,426.7 948.3,440.0 956.7,450.0 960.0,460.0 963.3,473.3 958.3,466.7 953.3,456.7 948.3,450.0 950.0,463.3 948.3,465.0 940.0,470.0 930.0,461.7 921.7,453.3 913.3,443.3 903.3,443.3 898.3,450.0 898.3,463.3 895.0,468.3 883.3,466.7 873.3,463.3 860.0,466.7 846.7,465.0 836.7,456.7 833.3,463.3 820.0,465.0 811.7,473.3 801.7,476.7 793.3,475.0 780.0,473.3 766.7,466.7 753.3,465.0 736.7,460.0 721.7,465.0 720.0,473.3 706.7,473.3 691.7,475.0 688.3,480.0 691.7,490.0 701.7,498.3 695.0,505.0 690.0,505.7 683.3,503.3 676.7,500.0 668.3,493.3 670.0,488.3 666.7,483.3 670.7,478.3 671.7,471.7 666.7,466.7 660.0,463.3 653.3,465.0 647.3,463.3 650.0,458.3 646.7,453.3 643.3,446.7 638.3,443.3 635.0,440.0 634.0,433.3 633.3,428.3 635.7,421.7 638.3,415.7 637.3,410.0 635.0,401.7 631.7,393.3 629.0,385.7" fill="#1b815b" />
<polygon points="811.7,473.3 820.0,465.0 833.3,463.3 836.7,456.7 846.7,465.0 860.0,466.7 873.3,463.3 883.3,466.7 895.0,468.3 893.3,473.3 903.3,475.0 901.7,483.3 890.0,486.7 883.3,496.7 866.7,503.3 850.0,500.0 836.7,498.3 826.7,488.3 816.7,481.7" fill="#11654f" stroke="#ffffff" stroke-width="0.5" />
<polygon points="688.3,480.0 691.7,475.0 706.7,473.3 720.0,473.3 721.7,465.0 736.7,460.0 753.3,465.0 766.7,466.7 780.0,473.3 793.3,475.0 795.0,481.7 788.3,486.7 786.7,495.0 778.3,496.7 766.7,501.7 755.0,505.0 746.7,501.7 736.7,506.7 730.0,500.0 720.0,493.3 706.7,491.7 710.0,503.3 703.3,500.0 695.0,490.0" fill="#11654f" stroke="#ffffff" stroke-width="0.5" />
<polygon points="710.0,503.3 716.7,495.0 730.0,500.0 736.7,506.7 746.7,501.7 755.0,505.0 753.3,510.0 760.0,513.3 755.0,518.3 746.7,523.3 736.7,526.7 726.7,521.7 716.7,518.3 708.3,511.7" fill="#e3e4e4" />
<polygon points="760.0,503.3 773.3,500.0 786.7,498.3 783.3,505.0 770.0,508.3 761.7,508.3" fill="#11654f" stroke="#ffffff" stroke-width="0.5" />
<polygon points="760.0,513.3 768.3,510.0 778.3,513.3 776.7,520.0 766.7,521.7" fill="#1b815b" stroke="#ffffff" stroke-width="0.5" />
<polygon points="738.3,528.3 748.3,525.0 760.0,521.7 768.3,523.3 778.3,523.3 770.0,531.7 766.7,543.3 756.7,550.0 743.3,548.3 741.7,538.3" fill="#11654f" stroke="#ffffff" stroke-width="0.5" />
<polygon points="743.3,550.0 756.7,550.0 766.7,543.3 771.7,531.7 780.0,526.7 786.7,533.3 783.3,543.3 776.7,553.3 770.0,563.3 763.3,566.7 751.7,561.7 745.0,558.3" fill="#11654f" stroke="#ffffff" stroke-width="0.5" />
<polygon points="689.4,518.0 692.6,515.4 696.5,516.0 700.3,519.3 705.5,521.8 711.9,523.1 719.6,520.5 727.3,519.3 732.4,521.8 736.3,525.7 738.8,529.5 737.5,533.4 741.4,538.5 742.7,543.6 741.4,548.8 746.5,552.6 749.1,556.5 745.2,559.0 738.8,559.7 732.4,558.4 727.3,556.5 723.4,555.2 718.3,551.3 713.2,547.5 709.3,542.4 705.5,537.2 702.9,533.4 700.3,530.8 697.8,535.9 694.5,530.8 693.9,525.7 689.4,521.8" fill="#11654f" stroke="#ffffff" stroke-width="0.5" />
<polygon points="666.3,527.6 672.1,525.7 678.5,524.4 682.4,521.8 684.3,523.7 683.0,529.5 678.5,533.4 673.4,535.3 667.6,537.2 665.7,533.4" fill="#f3cb66" stroke="#ffffff" stroke-width="0.5" />
<polygon points="684.3,523.7 689.4,521.8 693.9,525.7 694.5,530.8 697.8,535.9 701.6,541.1 702.9,545.6 702.2,549.4 698.4,548.1 692.6,546.2 687.5,543.6 681.1,539.1 675.9,537.2 673.4,535.3 678.5,533.4 683.0,529.5" fill="#f3cb66" stroke="#ffffff" stroke-width="0.5" />
<polygon points="665.0,539.1 667.6,537.2 673.4,535.3 675.9,537.2 674.0,541.1 670.8,544.3 665.7,548.1 664.6,543.6" fill="#a9d9bb" stroke="#ffffff" stroke-width="0.5" />
<polygon points="664.4,533.4 666.3,532.7 666.7,538.5 665.0,539.1 664.4,543.6 663.5,543.6" fill="#f3cb66" />
<polygon points="698.4,548.1 702.2,549.4 701.0,551.3 699.0,550.7" fill="#f3cb66" />
<polygon points="665.7,548.8 670.8,544.3 674.0,541.1 675.9,537.2 681.1,539.1 687.5,543.6 692.6,546.2 698.4,548.1 699.0,550.7 701.6,552.6 705.5,556.5 709.3,561.0 711.9,565.5 715.7,566.7 720.2,567.4 724.7,571.9 725.3,577.0 722.1,580.9 718.3,584.1 711.9,584.7 706.7,586.6 701.6,588.6 695.2,589.8 692.0,592.4 689.4,588.6 686.2,583.4 682.4,578.3 678.5,571.9 675.9,565.5 672.1,560.3 668.2,555.2 665.0,551.3" fill="#f3cb66" stroke="#ffffff" stroke-width="0.5" />
<polygon points="712.5,560.3 714.2,559.7 714.7,563.5 713.2,564.8 712.1,562.9" fill="#eda04e" />
<polygon points="720.9,566.7 724.7,564.2 727.9,562.2 727.3,566.1 725.3,569.9 722.8,568.7" fill="#eda04e" />
<polygon points="725.3,569.9 727.3,566.1 729.8,566.7 735.0,569.9 738.2,573.8 736.9,578.3 733.7,582.1 729.8,586.0 726.0,589.2 722.1,590.5 718.9,588.6 718.3,584.1 722.1,580.9 725.3,577.0 724.7,571.9" fill="#4fc48a" stroke="#ffffff" stroke-width="0.5" />
<polygon points="692.0,592.4 695.2,589.8 701.6,588.6 706.7,586.6 711.9,584.7 718.3,584.1 718.9,588.6 722.1,590.5 717.0,595.0 710.6,598.2 704.2,600.7 697.8,603.3 694.5,605.2 693.3,600.1" fill="#a9d9bb" stroke="#ffffff" stroke-width="0.5" />
<polygon points="656.7,530.2 659.9,529.8 659.3,531.1" fill="#f3cb66" />
<polygon points="793.3,475.0 801.7,476.7 811.7,473.3 816.7,481.7 826.7,488.3 836.7,498.3 850.0,500.0 866.7,503.3 883.3,496.7 890.0,486.7 901.7,483.3 903.3,475.0 893.3,473.3 895.0,468.3 898.3,463.3 898.3,450.0 903.3,443.3 913.3,443.3 921.7,453.3 930.0,461.7 940.0,470.0 948.3,465.0 945.0,470.0 936.7,480.0 940.0,490.0 931.7,500.0 928.3,505.0 925.0,508.3 920.7,506.0 916.0,506.7 913.3,511.7 909.3,515.0 914.0,520.0 920.0,519.3 924.0,521.7 918.3,525.0 916.7,531.7 920.0,538.3 924.0,545.0 926.0,551.7 922.7,558.3 916.7,566.7 910.0,573.3 905.0,578.3 900.0,579.3 893.3,580.0 888.3,581.7 885.0,576.7 880.0,575.0 873.3,573.3 866.7,576.7 860.0,573.3 853.3,563.3 850.0,556.7 840.0,556.7 833.3,561.7 826.7,558.3 813.3,553.3 800.0,548.3 793.3,540.0 786.7,533.3 780.0,526.7 778.3,520.0 778.3,513.3 783.3,505.0 786.7,498.3 788.3,486.7 795.0,481.7" fill="#1b815b" stroke="#ffffff" stroke-width="0.5" />
<polygon points="775.8,528.3 781.7,526.7 787.5,529.2 793.3,531.7 795.0,541.7 800.0,548.3 810.0,553.3 820.0,557.5 826.7,560.0 833.3,557.5 838.3,558.3 843.3,553.3 850.0,552.5 852.5,558.3 846.7,563.3 843.3,566.7 846.7,571.7 841.7,575.0 838.3,578.3 835.8,575.0 831.7,577.5 828.3,575.0 825.8,578.3 820.0,583.3 813.3,590.0 806.7,598.3 801.7,606.7 799.2,616.7 795.8,623.3 791.7,615.0 787.5,603.3 783.3,591.7 780.0,581.7 775.8,578.3 770.0,575.0 771.7,568.3 766.7,566.7 765.8,555.0 770.0,550.0 775.0,543.3 778.3,535.0" fill="#1b815b" stroke="#ffffff" stroke-width="0.5" />
<polygon points="800.0,550.0 810.0,553.3 820.0,557.5 826.7,560.0 825.8,562.0 818.3,561.2 808.3,557.8 800.0,553.7" fill="#1b815b" stroke="#ffffff" stroke-width="0.5" />
<polygon points="829.2,557.5 835.8,556.7 836.7,560.0 830.8,560.8" fill="#1b815b" stroke="#ffffff" stroke-width="0.5" />
<polygon points="826.7,565.0 833.3,564.2 837.5,566.7 835.8,573.3 838.3,578.3 833.3,577.5 829.2,575.0 827.5,570.0" fill="#1b815b" stroke="#ffffff" stroke-width="0.5" />
<polygon points="930.8,508.3 938.3,503.3 941.7,508.3 938.3,515.0 933.3,514.2" fill="#e9e9e9" />
<polygon points="937.5,516.7 941.7,515.0 945.8,520.0 946.7,526.7 942.5,531.7 940.0,528.3 939.2,521.7" fill="#11654f" />
<polygon points="973.8,486.2 977.5,481.2 981.2,482.5 983.8,486.2 986.2,487.5 983.8,491.2 978.8,492.0 975.0,495.0 973.0,492.5" fill="#a9d9bb" />
<polygon points="976.2,498.8 979.5,500.0 980.5,510.0 979.5,522.5 975.0,528.8 967.5,531.2 961.2,533.8 956.2,532.0 955.5,528.8 961.2,526.2 966.2,523.8 971.2,520.0 975.0,512.5 976.2,505.0" fill="#a9d9bb" />
<polygon points="953.0,535.5 956.2,536.2 955.5,543.8 953.5,543.0" fill="#a9d9bb" />
<polygon points="926.7,570.0 929.2,567.5 930.0,573.3 927.5,578.3 926.3,575.0" fill="#1b815b" />
<polygon points="843.3,566.7 850.0,560.0 855.0,558.3 856.7,565.0 860.0,571.7 863.3,576.7 865.0,580.0 860.0,583.3 858.3,586.7 860.0,593.3 861.7,603.3 863.3,615.0 864.2,620.0 861.7,616.7 860.0,606.7 858.3,598.3 855.0,595.0 850.8,598.3 848.3,593.3 846.7,585.0 843.3,578.3 841.7,575.0 846.7,571.7" fill="#1b815b" stroke="#ffffff" stroke-width="0.5" />
<polygon points="858.3,586.7 865.0,583.3 868.3,586.7 869.2,592.5 875.0,593.3 876.7,600.0 875.0,605.0 870.8,606.7 866.7,603.3 863.3,606.7 864.2,616.7 866.7,626.7 870.0,631.7 866.7,630.0 862.5,623.3 860.8,613.3 861.7,603.3 860.0,593.3" fill="#1b815b" stroke="#ffffff" stroke-width="0.5" />
<polygon points="865.0,580.0 870.0,576.7 875.0,578.3 876.7,583.3 880.0,586.7 883.3,593.3 884.2,600.0 880.0,603.3 876.7,600.0 875.0,593.3 869.2,592.5 868.3,586.7" fill="#1b815b" stroke="#ffffff" stroke-width="0.5" />
<polygon points="875.0,578.3 880.0,575.0 885.0,576.7 888.3,581.7 885.0,585.0 883.3,590.0 888.3,596.7 893.3,603.3 894.2,610.0 890.0,615.0 885.0,618.3 884.2,623.3 882.5,624.2 883.3,616.7 888.3,611.7 889.2,605.0 884.2,600.0 883.3,593.3 880.0,586.7 876.7,583.3" fill="#1b815b" stroke="#ffffff" stroke-width="0.5" />
<polygon points="875.0,605.0 880.0,603.7 888.3,604.2 889.2,610.0 885.0,615.8 879.2,615.8 875.0,611.7" fill="#a9d9bb" stroke="#ffffff" stroke-width="0.5" />
<polygon points="804.7,618.3 807.5,619.2 809.2,625.0 808.3,630.0 805.0,630.8 803.7,625.0" fill="#1b815b" />
<polygon points="893.3,587.5 896.7,586.7 897.0,590.0 894.2,591.3" fill="#4fc48a" />
<polygon points="899.7,724.8 911.6,720.5 924.6,715.0 931.2,709.6 939.8,708.5 944.2,700.9 955.0,698.7 958.3,693.3 968.0,691.2 977.8,692.2 974.6,697.7 978.9,703.1 987.6,709.6 991.9,704.2 994.1,695.5 997.3,691.2 1001.7,702.0 1004.9,712.9 1011.5,721.5 1018.0,732.4 1023.4,741.1 1024.0,751.9 1020.1,764.9 1013.6,775.8 1007.1,786.6 1000.6,793.2 991.9,798.6 985.4,793.2 978.9,791.0 974.6,784.5 970.2,773.6 968.0,769.3 961.5,771.5 958.3,764.9 948.5,761.7 937.7,762.8 926.8,767.1 916.0,771.5 905.1,773.6 898.6,771.5 902.9,760.6 900.8,749.7 901.9,738.9" fill="#4fc48a" />
<polygon points="981.5,808 992,807.5 991,815 986,820.5 982,815" fill="#4fc48a" />
<polygon points="853.0,634.7 859.5,635.8 868.2,643.4 876.9,652.1 883.4,658.6 885.6,665.1 881.2,669.4 874.7,662.9 866.0,654.3 858.4,645.6" fill="#1b815b" />
<polygon points="884.5,671.6 894.3,672.7 905.1,676.0 912.7,678.1 911.6,680.3 900.8,679.2 889.9,677.0 884.5,674.9" fill="#1b815b" />
<polygon points="895.3,648.8 902.9,646.7 911.6,642.3 919.2,639.1 923.6,643.4 921.4,652.1 918.1,660.8 911.6,664.0 905.1,662.9 898.6,658.6 894.3,654.3" fill="#1b815b" stroke="#ffffff" stroke-width="0.5" />
<polygon points="911.6,641.2 916.0,634.7 921.4,631.5 924.6,634.7 922.5,640.2 919.2,639.1 911.6,642.3" fill="#4fc48a" stroke="#ffffff" stroke-width="0.5" />
<polygon points="927.9,652.1 933.3,649.9 942.0,648.8 943.1,651.0 935.5,653.2 933.3,656.4 937.7,662.9 935.5,665.1 931.2,660.8 930.1,667.3 927.9,667.3 926.8,658.6" fill="#1b815b" />
<polygon points="918.1,679.2 921.2,678.8 921.2,680.7 918.1,681.0" fill="#1b815b" />
<polygon points="922.9,679.2 925.9,678.8 925.9,680.7 922.9,681.0" fill="#1b815b" />
<polygon points="927.9,679.2 930.9,678.8 930.9,680.7 927.9,681.0" fill="#1b815b" />
<polygon points="932.9,679.2 935.9,678.8 935.9,680.7 932.9,681.0" fill="#1b815b" />
<polygon points="938.7,682.5 946.3,678.1 947.4,680.3 940.9,685.1" fill="#11654f" />
<polygon points="952.9,647.7 955.0,646.7 956.1,654.3 953.3,654.3" fill="#1b815b" />
<polygon points="948.5,663.6 952.9,663.2 952.9,664.7 948.5,664.9" fill="#1b815b" />
<polygon points="957.2,663.4 961.5,663.8 961.5,665.1 957.2,664.7" fill="#1b815b" />
<polygon points="965.9,656.4 970.2,655.3 973.5,659.7 978.9,661.9 987.6,659.7 994.1,661.9 994.1,682.5 989.7,679.2 985.4,673.8 978.9,667.3 972.4,665.1 968.0,661.9" fill="#1b815b" />
<polygon points="994.5,661.9 1002.8,666.2 1011.5,672.7 1015.8,676.0 1013.6,680.3 1018.0,685.7 1024.5,689.0 1018.0,687.9 1009.3,682.5 1002.8,678.1 1000.6,683.6 994.5,683.6" fill="#4fc48a" />
<path d="M1020.1,672.7 Q1031.0,671.6 1027.7,662.9" fill="none" stroke="#4fc48a" stroke-width="1.2"/>
<polygon points="866.7,630.0 870.8,631.7 875.0,635.8 877.5,641.7 878.3,646.7 875.0,645.0 871.7,640.0 868.3,635.0" fill="#4fc48a" />
<polygon points="930.0,592.5 934.2,593.3 933.3,600.0 934.2,606.7 931.7,605.0 929.2,600.0" fill="#4fc48a" />
<polygon points="935.8,606.7 939.2,608.3 940.8,611.7 937.5,610.8" fill="#4fc48a" />
<polygon points="942.5,624.2 947.5,623.3 949.2,628.3 946.7,633.3 943.3,631.7 940.8,627.5" fill="#4fc48a" />
<polygon points="921.7,622.5 927.5,615.0 928.7,616.7 923.3,623.3" fill="#4fc48a" />
<polygon points="936.7,615.0 939.2,616.7 938.3,621.7 936.3,620.0" fill="#4fc48a" />
<polygon points="942.5,615.0 945.0,616.7 944.2,620.8" fill="#4fc48a" />
<polygon points="1078,784 1080,792 1077,796" fill="#11654f" />
<polygon points="1079,797 1085,795 1086,806 1080,817 1073,820 1076,812 1072,808 1078,804" fill="#11654f" />
<polygon points="1066,818 1071,822 1062,832 1052,841 1044,846 1040,842 1048,834 1058,826" fill="#11654f" />
<circle cx="1044" cy="641" r="1" fill="#4fc48a"/>
<circle cx="1049" cy="641" r="1" fill="#4fc48a"/>
<circle cx="1054" cy="641" r="1" fill="#4fc48a"/>
<circle cx="983" cy="635" r="1" fill="#4fc48a"/>
<circle cx="1072" cy="706" r="1" fill="#4fc48a"/>
<circle cx="1074" cy="712" r="1" fill="#4fc48a"/>
<circle cx="1079" cy="716" r="1" fill="#4fc48a"/>
<circle cx="1105" cy="714" r="1" fill="#4fc48a"/>
<circle cx="1103" cy="672" r="1" fill="#4fc48a"/>
<circle cx="1125" cy="683" r="1" fill="#4fc48a"/>
<circle cx="1128" cy="704" r="1" fill="#4fc48a"/>
<defs><clipPath id="ceu"><circle cx="428.9" cy="347.8" r="48.0"/></clipPath><clipPath id="cme"><circle cx="900.1" cy="247.3" r="60.2"/></clipPath><clipPath id="csea"><circle cx="1084.7" cy="469.6" r="47.2"/></clipPath><clipPath id="cwa"><circle cx="504.4" cy="788.1" r="53.1"/></clipPath><clipPath id="cca"><circle cx="116.0" cy="632.2" r="57.8"/></clipPath></defs>
<circle cx="428.9" cy="347.8" r="51.0" fill="#ffffff" stroke="#dedede" stroke-width="0.8"/>
<g clip-path="url(#ceu)">
<polygon points="382.2,335.9 384.7,329.9 387.7,324.7 392.2,320.9 395.9,329.9 401.9,331.4 400.4,335.9 398.2,338.9 396.7,342.6 400.4,344.1 399.7,347.9 395.9,351.6 389.9,355.3 385.5,359.8 378.0,365.8 375.0,344.9" fill="#4fc48a" stroke="#4fc48a" stroke-width="1.5" />
<polygon points="392.2,316.4 397.4,313.4 399.2,317.2 396.7,320.9 395.2,326.9 392.2,323.9 393.7,320.2" fill="#f3cb66" stroke="#f3cb66" stroke-width="1.5" />
<polygon points="397.4,313.4 404.9,307.4 412.4,309.7 418.4,310.4 419.9,319.4 416.9,323.9 414.7,326.9 418.4,331.4 416.1,334.4 409.4,335.1 401.9,334.4 400.4,335.9 401.9,331.4 395.9,329.9 396.7,320.9 399.2,317.2" fill="#4fc48a" stroke="#4fc48a" stroke-width="1.5" />
<polygon points="419.9,311.9 425.9,306.7 434.9,305.9 442.4,307.4 445.3,314.9 446.1,320.9 443.9,326.1 434.9,327.6 425.9,323.9 419.9,321.7" fill="#4fc48a" stroke="#4fc48a" stroke-width="1.5" />
<polygon points="413.9,326.1 419.9,322.4 425.9,323.9 434.9,327.6 430.4,329.9 424.4,330.6 418.4,330.6" fill="#1b815b" stroke="#1b815b" stroke-width="1.5" />
<polygon points="430.4,329.9 434.9,327.6 443.9,326.1 442.4,330.6 434.9,332.9 429.6,332.1" fill="#1b815b" stroke="#1b815b" stroke-width="1.5" />
<polygon points="415.4,335.9 418.4,331.4 424.4,330.6 429.6,332.1 428.9,336.6 422.9,339.6 416.9,339.6" fill="#f3cb66" stroke="#f3cb66" stroke-width="1.5" />
<polygon points="397.4,340.4 400.4,336.6 409.4,335.9 415.4,336.6 414.7,340.4 409.4,342.6 403.4,341.9 398.2,342.6" fill="#f3cb66" stroke="#f3cb66" stroke-width="1.5" />
<polygon points="428.9,336.6 434.9,332.9 442.4,331.4 443.9,335.9 440.9,340.4 433.4,341.9 428.1,340.4" fill="#4fc48a" stroke="#4fc48a" stroke-width="1.5" />
<polygon points="419.1,341.1 425.9,340.1 427.4,342.6 422.1,344.1" fill="#11654f" stroke="#11654f" stroke-width="1.5" />
<polygon points="421.4,344.1 427.4,342.6 434.9,343.4 436.4,347.9 431.9,346.4 428.1,346.4 430.4,351.6 434.9,356.8 432.6,357.6 426.6,351.6 423.6,347.9" fill="#11654f" stroke="#11654f" stroke-width="1.5" />
<polygon points="428.1,346.4 431.9,346.4 436.4,347.9 437.9,353.9 434.1,356.1 430.4,351.6" fill="#a9d9bb" stroke="#a9d9bb" stroke-width="1.5" />
<polygon points="400.4,344.1 404.9,341.9 409.4,342.9 415.4,340.4 419.1,341.9 417.6,344.9 416.1,347.9 419.1,353.1 424.4,358.3 430.4,362.1 432.6,363.6 429.6,365.1 430.4,370.3 428.1,371.8 425.9,366.6 421.4,361.3 416.1,357.6 411.7,353.9 408.7,349.4 403.4,349.4 400.4,347.9" fill="#eda04e" stroke="#eda04e" stroke-width="1.5" />
<polygon points="404.6,362.1 406.7,361.6 407.2,368.1 404.9,368.8" fill="#eda04e" stroke="#eda04e" stroke-width="1.5" />
<polygon points="419.1,373.3 424.4,374.8 425.1,377.1 420.6,376.0" fill="#eda04e" stroke="#eda04e" stroke-width="1.5" />
<polygon points="438.6,299.2 445.3,300.7 455.8,303.7 467.8,311.2 478.3,319.4 479.8,341.9 470.8,338.9 467.8,341.9 464.8,340.4 463.3,335.9 455.8,332.9 449.8,334.4 445.3,332.1 443.9,326.1 446.1,320.9 445.3,314.9 442.4,307.4" fill="#11654f" stroke="#11654f" stroke-width="1.5" />
<polygon points="441.6,340.4 445.3,334.4 449.8,334.4 455.8,332.9 460.3,335.9 463.3,340.4 461.8,344.9 457.3,349.4 449.8,350.9 443.9,347.9 440.9,344.1" fill="#11654f" stroke="#11654f" stroke-width="1.5" />
<polygon points="457.3,332.9 461.8,335.9 464.8,341.1 463.3,343.4 460.3,338.1" fill="#1b815b" stroke="#1b815b" stroke-width="1.5" />
<polygon points="434.9,343.4 440.9,341.9 441.6,344.9 443.9,347.9 445.3,353.9 442.4,358.3 438.6,356.8 437.9,351.6 436.4,347.9" fill="#1b815b" stroke="#1b815b" stroke-width="1.5" />
<polygon points="445.3,351.6 449.8,350.9 457.3,350.1 461.8,352.4 459.6,358.3 452.8,360.6 446.8,359.1" fill="#1b815b" stroke="#1b815b" stroke-width="1.5" />
<polygon points="434.1,356.1 438.6,356.8 442.4,358.3 446.8,359.8 446.1,363.6 441.6,365.1 437.9,362.8 437.9,365.8 435.6,362.8" fill="#1b815b" stroke="#1b815b" stroke-width="1.5" />
<polygon points="437.9,365.8 441.6,365.1 446.8,363.6 452.8,360.6 457.3,359.8 455.8,362.8 449.8,364.3 446.8,367.3 449.8,371.8 447.6,375.6 443.9,374.8 441.6,370.3 439.4,368.1" fill="#1b815b" stroke="#1b815b" stroke-width="1.5" />
<polygon points="452.1,382.3 457.3,382.3 457.3,383.8 452.1,383.8" fill="#4fc48a" stroke="#4fc48a" stroke-width="1.5" />
<polygon points="382.2,335.9 384.7,329.9 387.7,324.7 392.2,320.9 395.9,329.9 401.9,331.4 400.4,335.9 398.2,338.9 396.7,342.6 400.4,344.1 399.7,347.9 395.9,351.6 389.9,355.3 385.5,359.8 378.0,365.8 375.0,344.9" fill="#4fc48a" stroke="#ffffff" stroke-width="0.5" />
<polygon points="392.2,316.4 397.4,313.4 399.2,317.2 396.7,320.9 395.2,326.9 392.2,323.9 393.7,320.2" fill="#f3cb66" stroke="#ffffff" stroke-width="0.5" />
<polygon points="397.4,313.4 404.9,307.4 412.4,309.7 418.4,310.4 419.9,319.4 416.9,323.9 414.7,326.9 418.4,331.4 416.1,334.4 409.4,335.1 401.9,334.4 400.4,335.9 401.9,331.4 395.9,329.9 396.7,320.9 399.2,317.2" fill="#4fc48a" stroke="#ffffff" stroke-width="0.5" />
<polygon points="419.9,311.9 425.9,306.7 434.9,305.9 442.4,307.4 445.3,314.9 446.1,320.9 443.9,326.1 434.9,327.6 425.9,323.9 419.9,321.7" fill="#4fc48a" stroke="#ffffff" stroke-width="0.5" />
<polygon points="413.9,326.1 419.9,322.4 425.9,323.9 434.9,327.6 430.4,329.9 424.4,330.6 418.4,330.6" fill="#1b815b" stroke="#ffffff" stroke-width="0.5" />
<polygon points="430.4,329.9 434.9,327.6 443.9,326.1 442.4,330.6 434.9,332.9 429.6,332.1" fill="#1b815b" stroke="#ffffff" stroke-width="0.5" />
<polygon points="415.4,335.9 418.4,331.4 424.4,330.6 429.6,332.1 428.9,336.6 422.9,339.6 416.9,339.6" fill="#f3cb66" stroke="#ffffff" stroke-width="0.5" />
<polygon points="397.4,340.4 400.4,336.6 409.4,335.9 415.4,336.6 414.7,340.4 409.4,342.6 403.4,341.9 398.2,342.6" fill="#f3cb66" stroke="#ffffff" stroke-width="0.5" />
<polygon points="428.9,336.6 434.9,332.9 442.4,331.4 443.9,335.9 440.9,340.4 433.4,341.9 428.1,340.4" fill="#4fc48a" stroke="#ffffff" stroke-width="0.5" />
<polygon points="419.1,341.1 425.9,340.1 427.4,342.6 422.1,344.1" fill="#11654f" stroke="#ffffff" stroke-width="0.5" />
<polygon points="421.4,344.1 427.4,342.6 434.9,343.4 436.4,347.9 431.9,346.4 428.1,346.4 430.4,351.6 434.9,356.8 432.6,357.6 426.6,351.6 423.6,347.9" fill="#11654f" stroke="#ffffff" stroke-width="0.5" />
<polygon points="428.1,346.4 431.9,346.4 436.4,347.9 437.9,353.9 434.1,356.1 430.4,351.6" fill="#a9d9bb" stroke="#ffffff" stroke-width="0.5" />
<polygon points="400.4,344.1 404.9,341.9 409.4,342.9 415.4,340.4 419.1,341.9 417.6,344.9 416.1,347.9 419.1,353.1 424.4,358.3 430.4,362.1 432.6,363.6 429.6,365.1 430.4,370.3 428.1,371.8 425.9,366.6 421.4,361.3 416.1,357.6 411.7,353.9 408.7,349.4 403.4,349.4 400.4,347.9" fill="#eda04e" stroke="#ffffff" stroke-width="0.5" />
<polygon points="404.6,362.1 406.7,361.6 407.2,368.1 404.9,368.8" fill="#eda04e" stroke="#ffffff" stroke-width="0.5" />
<polygon points="419.1,373.3 424.4,374.8 425.1,377.1 420.6,376.0" fill="#eda04e" stroke="#ffffff" stroke-width="0.5" />
<polygon points="438.6,299.2 445.3,300.7 455.8,303.7 467.8,311.2 478.3,319.4 479.8,341.9 470.8,338.9 467.8,341.9 464.8,340.4 463.3,335.9 455.8,332.9 449.8,334.4 445.3,332.1 443.9,326.1 446.1,320.9 445.3,314.9 442.4,307.4" fill="#11654f" stroke="#ffffff" stroke-width="0.5" />
<polygon points="441.6,340.4 445.3,334.4 449.8,334.4 455.8,332.9 460.3,335.9 463.3,340.4 461.8,344.9 457.3,349.4 449.8,350.9 443.9,347.9 440.9,344.1" fill="#11654f" stroke="#ffffff" stroke-width="0.5" />
<polygon points="457.3,332.9 461.8,335.9 464.8,341.1 463.3,343.4 460.3,338.1" fill="#1b815b" stroke="#ffffff" stroke-width="0.5" />
<polygon points="434.9,343.4 440.9,341.9 441.6,344.9 443.9,347.9 445.3,353.9 442.4,358.3 438.6,356.8 437.9,351.6 436.4,347.9" fill="#1b815b" stroke="#ffffff" stroke-width="0.5" />
<polygon points="445.3,351.6 449.8,350.9 457.3,350.1 461.8,352.4 459.6,358.3 452.8,360.6 446.8,359.1" fill="#1b815b" stroke="#ffffff" stroke-width="0.5" />
<polygon points="434.1,356.1 438.6,356.8 442.4,358.3 446.8,359.8 446.1,363.6 441.6,365.1 437.9,362.8 437.9,365.8 435.6,362.8" fill="#1b815b" stroke="#ffffff" stroke-width="0.5" />
<polygon points="437.9,365.8 441.6,365.1 446.8,363.6 452.8,360.6 457.3,359.8 455.8,362.8 449.8,364.3 446.8,367.3 449.8,371.8 447.6,375.6 443.9,374.8 441.6,370.3 439.4,368.1" fill="#1b815b" stroke="#ffffff" stroke-width="0.5" />
<polygon points="452.1,382.3 457.3,382.3 457.3,383.8 452.1,383.8" fill="#4fc48a" stroke="#ffffff" stroke-width="0.5" />
<polyline points="446.8,318.7 455.8,317.9 464.8,317.9" fill="none" stroke="#fff" stroke-width=".5"/>
</g>
<circle cx="900.1" cy="247.3" r="63.5" fill="#ffffff" stroke="#dedede" stroke-width="0.8"/>
<g clip-path="url(#cme)">
<polygon points="848.2,214.8 854.2,207.1 861.1,201.1 869.6,199.4 878.2,198.5 884.2,202.8 887.6,209.6 879.9,213.0 871.3,216.5 864.5,217.3 859.4,214.8 854.2,215.6" fill="#1b815b" stroke="#1b815b" stroke-width="1.5" />
<polygon points="874.8,192.5 879.9,189.9 887.6,189.1 891.0,191.7 893.6,195.1 887.6,196.8 881.6,195.9 876.5,195.1" fill="#1b815b" stroke="#1b815b" stroke-width="1.5" />
<polygon points="881.6,196.8 887.6,196.8 893.6,195.1 897.0,198.5 900.4,203.6 897.0,206.2 891.9,204.5 887.6,209.6 884.2,202.8" fill="#11654f" stroke="#11654f" stroke-width="1.5" />
<polygon points="902.1,188.2 909.0,187.4 915.0,189.1 916.7,194.2 912.4,193.4 907.3,191.7" fill="#1b815b" stroke="#1b815b" stroke-width="1.5" />
<polygon points="863.6,219.0 871.3,216.5 879.9,213.0 885.9,212.2 880.7,219.9 874.8,225.0 868.8,227.6 864.5,225.9" fill="#f3cb66" stroke="#f3cb66" stroke-width="1.5" />
<polygon points="880.7,219.9 885.9,212.2 891.9,216.5 894.4,223.3 897.0,230.2 900.4,236.1 902.1,240.4 896.1,238.7 888.4,235.3 882.5,231.9 874.8,225.0" fill="#f3cb66" stroke="#f3cb66" stroke-width="1.5" />
<polygon points="862.8,231.9 868.8,227.6 874.8,228.4 869.6,235.3 863.6,238.7" fill="#a9d9bb" stroke="#a9d9bb" stroke-width="1.5" />
<polygon points="861.9,220.7 864.8,219.9 864.8,230.2 862.8,231.9" fill="#f3cb66" stroke="#f3cb66" stroke-width="1.5" />
<polygon points="863.6,238.7 869.6,235.3 874.8,228.4 882.5,231.9 888.4,235.3 896.1,238.7 902.1,240.4 906.4,247.3 910.7,255.8 919.3,258.4 925.2,262.7 927.0,269.5 922.7,273.8 916.7,278.1 909.0,279.8 900.4,281.5 893.6,282.4 889.3,286.6 885.9,279.8 879.9,269.5 873.0,259.3 866.2,249.0 862.8,242.1" fill="#f3cb66" stroke="#f3cb66" stroke-width="1.5" />
<polygon points="887.6,209.6 891.9,204.5 897.0,206.2 900.4,208.8 905.6,213.0 912.4,214.8 919.3,212.2 926.1,211.3 932.9,214.8 938.1,220.7 936.4,226.7 939.8,233.6 943.2,240.4 948.3,244.7 946.6,250.7 939.8,253.3 931.2,252.4 924.4,249.0 917.5,247.3 912.4,243.9 907.3,238.7 903.0,235.3 900.4,236.1 897.0,230.2 894.4,223.3 891.9,216.5" fill="#11654f" stroke="#11654f" stroke-width="1.5" />
<polygon points="912.4,205.3 917.5,198.5 926.1,194.2 936.4,199.4 943.2,206.2 948.3,213.0 943.2,219.0 938.1,220.7 932.9,214.8 926.1,211.3 919.3,212.2 915.0,209.6" fill="#e3e4e4" stroke="#e3e4e4" stroke-width="1.5" />
<polygon points="938.1,220.7 943.2,219.0 948.3,213.0 952.6,219.9 956.9,228.4 959.0,235.3 955.2,233.6 951.8,238.7 943.2,240.4 939.8,233.6 936.4,226.7" fill="#11654f" stroke="#11654f" stroke-width="1.5" />
<polygon points="943.2,240.4 951.8,238.7 955.2,233.6 959.0,235.3 962.0,245.6 961.2,253.3 946.6,250.7 948.3,244.7" fill="#11654f" stroke="#11654f" stroke-width="1.5" />
<polygon points="837.1,240.4 847.4,237.9 856.8,236.1 861.1,237.0 860.2,243.9 856.8,241.3 858.5,249.0 863.6,259.3 869.6,269.5 871.3,272.9 842.2,272.9 837.1,262.7" fill="#11654f" stroke="#11654f" stroke-width="1.5" />
<polygon points="837.1,272.9 871.3,272.9 874.8,279.8 878.2,285.8 874.8,290.1 873.0,296.9 871.3,301.2 862.8,295.2 854.2,286.6 847.4,279.8" fill="#11654f" stroke="#11654f" stroke-width="1.5" />
<polygon points="874.8,290.1 878.2,285.8 883.3,293.5 890.2,302.0 893.6,305.5 888.4,307.2 881.6,302.0 873.0,296.9" fill="#1b815b" stroke="#1b815b" stroke-width="1.5" />
<polygon points="873.0,296.9 881.6,302.0 888.4,307.2 879.9,308.9 871.3,301.2" fill="#1b815b" stroke="#1b815b" stroke-width="1.5" />
<polygon points="889.3,286.6 893.6,282.4 900.4,281.5 909.0,279.8 916.7,278.1 919.3,283.2 920.1,287.5 912.4,291.8 902.1,295.2 895.3,298.6 891.0,295.2" fill="#a9d9bb" stroke="#a9d9bb" stroke-width="1.5" />
<polygon points="916.7,278.1 922.7,273.8 927.0,269.5 925.2,262.7 928.7,260.1 933.8,261.8 937.2,264.4 934.7,271.2 929.5,278.1 924.4,283.2 919.3,283.2" fill="#4fc48a" stroke="#4fc48a" stroke-width="1.5" />
<polygon points="919.3,258.4 922.7,255.8 927.0,255.0 926.1,259.3 924.0,261.8" fill="#eda04e" stroke="#eda04e" stroke-width="1.5" />
<polygon points="912.4,253.3 914.1,252.9 914.5,256.2 912.7,256.5" fill="#eda04e" stroke="#eda04e" stroke-width="1.5" />
<polygon points="848.2,214.8 854.2,207.1 861.1,201.1 869.6,199.4 878.2,198.5 884.2,202.8 887.6,209.6 879.9,213.0 871.3,216.5 864.5,217.3 859.4,214.8 854.2,215.6" fill="#1b815b" stroke="#ffffff" stroke-width="0.5" />
<polygon points="874.8,192.5 879.9,189.9 887.6,189.1 891.0,191.7 893.6,195.1 887.6,196.8 881.6,195.9 876.5,195.1" fill="#1b815b" stroke="#ffffff" stroke-width="0.5" />
<polygon points="881.6,196.8 887.6,196.8 893.6,195.1 897.0,198.5 900.4,203.6 897.0,206.2 891.9,204.5 887.6,209.6 884.2,202.8" fill="#11654f" stroke="#ffffff" stroke-width="0.5" />
<polygon points="902.1,188.2 909.0,187.4 915.0,189.1 916.7,194.2 912.4,193.4 907.3,191.7" fill="#1b815b" stroke="#ffffff" stroke-width="0.5" />
<polygon points="863.6,219.0 871.3,216.5 879.9,213.0 885.9,212.2 880.7,219.9 874.8,225.0 868.8,227.6 864.5,225.9" fill="#f3cb66" stroke="#ffffff" stroke-width="0.5" />
<polygon points="880.7,219.9 885.9,212.2 891.9,216.5 894.4,223.3 897.0,230.2 900.4,236.1 902.1,240.4 896.1,238.7 888.4,235.3 882.5,231.9 874.8,225.0" fill="#f3cb66" stroke="#ffffff" stroke-width="0.5" />
<polygon points="862.8,231.9 868.8,227.6 874.8,228.4 869.6,235.3 863.6,238.7" fill="#a9d9bb" stroke="#ffffff" stroke-width="0.5" />
<polygon points="861.9,220.7 864.8,219.9 864.8,230.2 862.8,231.9" fill="#f3cb66" stroke="#ffffff" stroke-width="0.5" />
<polygon points="863.6,238.7 869.6,235.3 874.8,228.4 882.5,231.9 888.4,235.3 896.1,238.7 902.1,240.4 906.4,247.3 910.7,255.8 919.3,258.4 925.2,262.7 927.0,269.5 922.7,273.8 916.7,278.1 909.0,279.8 900.4,281.5 893.6,282.4 889.3,286.6 885.9,279.8 879.9,269.5 873.0,259.3 866.2,249.0 862.8,242.1" fill="#f3cb66" stroke="#ffffff" stroke-width="0.5" />
<polygon points="887.6,209.6 891.9,204.5 897.0,206.2 900.4,208.8 905.6,213.0 912.4,214.8 919.3,212.2 926.1,211.3 932.9,214.8 938.1,220.7 936.4,226.7 939.8,233.6 943.2,240.4 948.3,244.7 946.6,250.7 939.8,253.3 931.2,252.4 924.4,249.0 917.5,247.3 912.4,243.9 907.3,238.7 903.0,235.3 900.4,236.1 897.0,230.2 894.4,223.3 891.9,216.5" fill="#11654f" stroke="#ffffff" stroke-width="0.5" />
<polygon points="912.4,205.3 917.5,198.5 926.1,194.2 936.4,199.4 943.2,206.2 948.3,213.0 943.2,219.0 938.1,220.7 932.9,214.8 926.1,211.3 919.3,212.2 915.0,209.6" fill="#e3e4e4" stroke="#ffffff" stroke-width="0.5" />
<polygon points="938.1,220.7 943.2,219.0 948.3,213.0 952.6,219.9 956.9,228.4 959.0,235.3 955.2,233.6 951.8,238.7 943.2,240.4 939.8,233.6 936.4,226.7" fill="#11654f" stroke="#ffffff" stroke-width="0.5" />
<polygon points="943.2,240.4 951.8,238.7 955.2,233.6 959.0,235.3 962.0,245.6 961.2,253.3 946.6,250.7 948.3,244.7" fill="#11654f" stroke="#ffffff" stroke-width="0.5" />
<polygon points="837.1,240.4 847.4,237.9 856.8,236.1 861.1,237.0 860.2,243.9 856.8,241.3 858.5,249.0 863.6,259.3 869.6,269.5 871.3,272.9 842.2,272.9 837.1,262.7" fill="#11654f" stroke="#ffffff" stroke-width="0.5" />
<polygon points="837.1,272.9 871.3,272.9 874.8,279.8 878.2,285.8 874.8,290.1 873.0,296.9 871.3,301.2 862.8,295.2 854.2,286.6 847.4,279.8" fill="#11654f" stroke="#ffffff" stroke-width="0.5" />
<polygon points="874.8,290.1 878.2,285.8 883.3,293.5 890.2,302.0 893.6,305.5 888.4,307.2 881.6,302.0 873.0,296.9" fill="#1b815b" stroke="#ffffff" stroke-width="0.5" />
<polygon points="873.0,296.9 881.6,302.0 888.4,307.2 879.9,308.9 871.3,301.2" fill="#1b815b" stroke="#ffffff" stroke-width="0.5" />
<polygon points="889.3,286.6 893.6,282.4 900.4,281.5 909.0,279.8 916.7,278.1 919.3,283.2 920.1,287.5 912.4,291.8 902.1,295.2 895.3,298.6 891.0,295.2" fill="#a9d9bb" stroke="#ffffff" stroke-width="0.5" />
<polygon points="916.7,278.1 922.7,273.8 927.0,269.5 925.2,262.7 928.7,260.1 933.8,261.8 937.2,264.4 934.7,271.2 929.5,278.1 924.4,283.2 919.3,283.2" fill="#4fc48a" stroke="#ffffff" stroke-width="0.5" />
<polygon points="919.3,258.4 922.7,255.8 927.0,255.0 926.1,259.3 924.0,261.8" fill="#eda04e" stroke="#ffffff" stroke-width="0.5" />
<polygon points="912.4,253.3 914.1,252.9 914.5,256.2 912.7,256.5" fill="#eda04e" stroke="#ffffff" stroke-width="0.5" />

</g>
<circle cx="1084.7" cy="469.6" r="49.8" fill="#ffffff" stroke="#dedede" stroke-width="0.8"/>
<g clip-path="url(#csea)">
<polygon points="1035.0,481.6 1044.0,474.9 1052.9,465.9 1058.9,461.4 1063.4,461.4 1069.4,458.4 1072.4,462.9 1075.4,456.9 1076.9,465.9 1079.9,477.9 1082.1,482.4 1085.9,476.4 1090.4,480.9 1092.6,489.8 1093.4,501.8 1094.9,507.8 1097.9,513.0 1099.4,511.6 1096.4,504.8 1095.6,495.8 1097.9,489.8 1103.9,494.3 1106.1,489.1 1112.8,488.3 1118.8,488.3 1120.3,492.8 1114.3,504.8 1117.3,503.3 1123.3,495.8 1125.6,489.8 1121.8,483.9 1117.3,477.9 1114.3,471.9 1118.8,464.4 1123.3,465.9 1127.8,467.4 1133.8,462.9 1139.8,415.0 1035.0,415.0" fill="#1b815b" stroke="#1b815b" stroke-width="1.5" />
<polygon points="1105.3,489.8 1112.8,488.3 1119.6,488.3 1120.3,493.6 1115.8,498.8 1109.8,498.1 1106.1,494.3" fill="#a9d9bb" stroke="#a9d9bb" stroke-width="1.5" />
<polygon points="1124.1,472.6 1127.8,471.1 1128.6,474.1 1125.6,475.6" fill="#4fc48a" stroke="#4fc48a" stroke-width="1.5" />
<polygon points="1035.0,481.6 1044.0,474.9 1052.9,465.9 1058.9,461.4 1063.4,461.4 1069.4,458.4 1072.4,462.9 1075.4,456.9 1076.9,465.9 1079.9,477.9 1082.1,482.4 1085.9,476.4 1090.4,480.9 1092.6,489.8 1093.4,501.8 1094.9,507.8 1097.9,513.0 1099.4,511.6 1096.4,504.8 1095.6,495.8 1097.9,489.8 1103.9,494.3 1106.1,489.1 1112.8,488.3 1118.8,488.3 1120.3,492.8 1114.3,504.8 1117.3,503.3 1123.3,495.8 1125.6,489.8 1121.8,483.9 1117.3,477.9 1114.3,471.9 1118.8,464.4 1123.3,465.9 1127.8,467.4 1133.8,462.9 1139.8,415.0 1035.0,415.0" fill="#1b815b" stroke="#ffffff" stroke-width="0.5" />
<polygon points="1105.3,489.8 1112.8,488.3 1119.6,488.3 1120.3,493.6 1115.8,498.8 1109.8,498.1 1106.1,494.3" fill="#a9d9bb" stroke="#ffffff" stroke-width="0.5" />
<polygon points="1124.1,472.6 1127.8,471.1 1128.6,474.1 1125.6,475.6" fill="#4fc48a" stroke="#ffffff" stroke-width="0.5" />
<polyline points="1044.0,441.2 1055.9,442.7 1060.4,443.4 1067.9,442.7 1075.4,436.7 1081.4,435.9 1082.9,441.2 1079.9,444.9 1076.9,450.9 1073.2,457.6" fill="none" stroke="#fff" stroke-width=".5"/><polyline points="1058.2,449.4 1064.9,447.9 1069.4,450.9 1067.9,458.4 1062.7,461.4 1059.2,456.9 1058.2,449.4" fill="none" stroke="#fff" stroke-width=".5"/><polyline points="1082.9,443.4 1088.1,442.7 1088.9,450.9 1094.9,462.9 1097.9,464.4 1090.4,471.9 1092.6,483.9 1093.4,501.8" fill="none" stroke="#fff" stroke-width=".5"/><polyline points="1097.9,464.4 1101.6,461.4 1114.3,459.1 1117.3,465.9 1111.3,470.4 1109.8,476.4 1115.8,483.9 1118.8,488.3" fill="none" stroke="#fff" stroke-width=".5"/><polyline points="1101.6,461.4 1099.4,468.9 1100.9,476.4 1106.8,477.9 1112.8,483.9 1113.6,488.3" fill="none" stroke="#fff" stroke-width=".5"/><polyline points="1055.9,442.7 1054.4,444.9 1045.5,444.2" fill="none" stroke="#fff" stroke-width=".5"/><polyline points="1060.4,443.4 1063.4,444.9 1067.9,442.7" fill="none" stroke="#fff" stroke-width=".5"/>
</g>
<circle cx="504.4" cy="788.1" r="57.0" fill="#ffffff" stroke="#dedede" stroke-width="0.8"/>
<g clip-path="url(#cwa)">
<polygon points="464.0,753.7 472.2,745.5 481.9,739.5 482.7,751.4 474.4,753.7" fill="#a9d9bb" stroke="#a9d9bb" stroke-width="1.5" />
<polygon points="482.7,739.5 490.9,735.0 504.4,733.5 517.9,735.0 526.8,740.2 526.1,748.4 521.6,755.2 519.4,762.7 514.9,764.2 502.9,763.4 490.9,763.4 484.9,760.4 479.7,762.7 478.2,767.9 472.2,766.4 468.4,760.4 464.7,755.2 474.4,753.7 482.7,751.4" fill="#11654f" stroke="#11654f" stroke-width="1.5" />
<polygon points="449.0,764.9 461.0,757.4 464.7,755.2 468.4,760.4 472.2,766.4 471.4,769.4 464.0,770.9 449.0,771.7" fill="#e9e9e9" stroke="#e9e9e9" stroke-width="1.5" />
<polygon points="449.0,772.4 463.2,771.7 464.7,785.9 465.5,790.4 459.5,793.4 454.2,794.9 449.0,791.9" fill="#1b815b" stroke="#1b815b" stroke-width="1.5" />
<polygon points="464.0,771.2 467.7,770.9 469.2,785.9 469.9,788.1 465.8,790.4 464.9,785.9" fill="#1b815b" stroke="#1b815b" stroke-width="1.5" />
<polygon points="468.4,770.6 472.2,767.9 477.4,768.7 476.7,776.9 475.9,785.9 470.7,788.1 469.5,785.9" fill="#11654f" stroke="#11654f" stroke-width="1.5" />
<polygon points="479.7,762.7 484.9,760.4 490.9,763.4 502.9,763.4 514.9,764.2 519.4,762.7 522.4,764.9 519.4,770.9 516.4,778.4 513.4,785.9 510.4,791.1 504.4,788.9 499.9,793.4 499.1,797.1 490.9,797.9 484.9,793.4 478.9,789.6 475.9,785.9 476.7,776.9 478.2,767.9" fill="#1b815b" stroke="#1b815b" stroke-width="1.5" />
<polygon points="522.4,764.9 526.1,769.4 526.8,776.1 521.6,778.4 526.1,784.4 526.8,787.4 523.1,793.4 523.9,799.4 528.3,806.8 529.8,809.8 517.9,809.1 510.4,808.3 505.9,807.6 506.6,803.1 499.9,797.9 499.1,797.1 499.9,793.4 504.4,788.9 510.4,791.1 513.4,785.9 516.4,778.4 519.4,770.9" fill="#1b815b" stroke="#1b815b" stroke-width="1.5" />
<polygon points="526.8,740.2 535.8,741.0 547.8,749.9 556.8,762.7 559.8,771.7 550.8,773.9 547.1,779.1 541.8,782.1 535.8,784.4 529.8,785.9 526.1,784.4 521.6,778.4 526.8,776.1 526.1,769.4 522.4,764.9 519.4,762.7 521.6,755.2 526.1,748.4" fill="#4fc48a" stroke="#4fc48a" stroke-width="1.5" />
<polygon points="559.8,771.7 561.3,779.9 561.3,788.9 558.3,798.6 549.3,800.9 543.3,797.9 540.3,802.4 532.8,802.4 528.3,806.8 523.9,799.4 523.1,793.4 526.8,787.4 529.8,785.9 535.8,784.4 541.8,782.1 547.1,779.1 550.8,773.9" fill="#4fc48a" stroke="#4fc48a" stroke-width="1.5" />
<polygon points="543.3,797.9 549.3,800.9 558.3,798.6 556.8,809.8 550.8,820.3 544.8,828.6 535.8,835.3 528.3,841.3 523.9,839.8 528.3,830.8 532.1,823.3 537.3,818.1 539.6,809.8 540.3,802.4" fill="#1b815b" stroke="#1b815b" stroke-width="1.5" />
<polygon points="517.9,809.1 529.8,809.8 528.3,806.8 532.8,802.4 540.3,802.4 539.6,809.8 537.3,818.1 532.1,823.3 528.3,830.8 525.3,838.3 520.9,835.3 514.9,836.0 512.6,833.0 517.1,830.1 520.9,826.3 521.6,817.3 520.9,812.8" fill="#f3cb66" stroke="#f3cb66" stroke-width="1.5" />
<polygon points="505.9,808.3 510.4,808.3 517.9,809.4 520.9,812.8 521.6,817.3 520.9,826.3 517.1,830.1 512.6,833.0 509.6,833.8 505.9,827.8 502.1,821.8 503.6,815.8 506.6,812.8" fill="#a9d9bb" stroke="#a9d9bb" stroke-width="1.5" />
<polygon points="505.9,809.1 510.1,809.1 510.1,812.8 506.6,812.8" fill="#f3cb66" stroke="#f3cb66" stroke-width="1.5" />
<polygon points="514.9,837.5 520.9,836.0 525.3,838.6 519.4,842.0 515.6,841.3" fill="#1b815b" stroke="#1b815b" stroke-width="1.5" />
<polygon points="464.0,753.7 472.2,745.5 481.9,739.5 482.7,751.4 474.4,753.7" fill="#a9d9bb" stroke="#ffffff" stroke-width="0.5" />
<polygon points="482.7,739.5 490.9,735.0 504.4,733.5 517.9,735.0 526.8,740.2 526.1,748.4 521.6,755.2 519.4,762.7 514.9,764.2 502.9,763.4 490.9,763.4 484.9,760.4 479.7,762.7 478.2,767.9 472.2,766.4 468.4,760.4 464.7,755.2 474.4,753.7 482.7,751.4" fill="#11654f" stroke="#ffffff" stroke-width="0.5" />
<polygon points="449.0,764.9 461.0,757.4 464.7,755.2 468.4,760.4 472.2,766.4 471.4,769.4 464.0,770.9 449.0,771.7" fill="#e9e9e9" stroke="#ffffff" stroke-width="0.5" />
<polygon points="449.0,772.4 463.2,771.7 464.7,785.9 465.5,790.4 459.5,793.4 454.2,794.9 449.0,791.9" fill="#1b815b" stroke="#ffffff" stroke-width="0.5" />
<polygon points="464.0,771.2 467.7,770.9 469.2,785.9 469.9,788.1 465.8,790.4 464.9,785.9" fill="#1b815b" stroke="#ffffff" stroke-width="0.5" />
<polygon points="468.4,770.6 472.2,767.9 477.4,768.7 476.7,776.9 475.9,785.9 470.7,788.1 469.5,785.9" fill="#11654f" stroke="#ffffff" stroke-width="0.5" />
<polygon points="479.7,762.7 484.9,760.4 490.9,763.4 502.9,763.4 514.9,764.2 519.4,762.7 522.4,764.9 519.4,770.9 516.4,778.4 513.4,785.9 510.4,791.1 504.4,788.9 499.9,793.4 499.1,797.1 490.9,797.9 484.9,793.4 478.9,789.6 475.9,785.9 476.7,776.9 478.2,767.9" fill="#1b815b" stroke="#ffffff" stroke-width="0.5" />
<polygon points="522.4,764.9 526.1,769.4 526.8,776.1 521.6,778.4 526.1,784.4 526.8,787.4 523.1,793.4 523.9,799.4 528.3,806.8 529.8,809.8 517.9,809.1 510.4,808.3 505.9,807.6 506.6,803.1 499.9,797.9 499.1,797.1 499.9,793.4 504.4,788.9 510.4,791.1 513.4,785.9 516.4,778.4 519.4,770.9" fill="#1b815b" stroke="#ffffff" stroke-width="0.5" />
<polygon points="526.8,740.2 535.8,741.0 547.8,749.9 556.8,762.7 559.8,771.7 550.8,773.9 547.1,779.1 541.8,782.1 535.8,784.4 529.8,785.9 526.1,784.4 521.6,778.4 526.8,776.1 526.1,769.4 522.4,764.9 519.4,762.7 521.6,755.2 526.1,748.4" fill="#4fc48a" stroke="#ffffff" stroke-width="0.5" />
<polygon points="559.8,771.7 561.3,779.9 561.3,788.9 558.3,798.6 549.3,800.9 543.3,797.9 540.3,802.4 532.8,802.4 528.3,806.8 523.9,799.4 523.1,793.4 526.8,787.4 529.8,785.9 535.8,784.4 541.8,782.1 547.1,779.1 550.8,773.9" fill="#4fc48a" stroke="#ffffff" stroke-width="0.5" />
<polygon points="543.3,797.9 549.3,800.9 558.3,798.6 556.8,809.8 550.8,820.3 544.8,828.6 535.8,835.3 528.3,841.3 523.9,839.8 528.3,830.8 532.1,823.3 537.3,818.1 539.6,809.8 540.3,802.4" fill="#1b815b" stroke="#ffffff" stroke-width="0.5" />
<polygon points="517.9,809.1 529.8,809.8 528.3,806.8 532.8,802.4 540.3,802.4 539.6,809.8 537.3,818.1 532.1,823.3 528.3,830.8 525.3,838.3 520.9,835.3 514.9,836.0 512.6,833.0 517.1,830.1 520.9,826.3 521.6,817.3 520.9,812.8" fill="#f3cb66" stroke="#ffffff" stroke-width="0.5" />
<polygon points="505.9,808.3 510.4,808.3 517.9,809.4 520.9,812.8 521.6,817.3 520.9,826.3 517.1,830.1 512.6,833.0 509.6,833.8 505.9,827.8 502.1,821.8 503.6,815.8 506.6,812.8" fill="#a9d9bb" stroke="#ffffff" stroke-width="0.5" />
<polygon points="505.9,809.1 510.1,809.1 510.1,812.8 506.6,812.8" fill="#f3cb66" stroke="#ffffff" stroke-width="0.5" />
<polygon points="514.9,837.5 520.9,836.0 525.3,838.6 519.4,842.0 515.6,841.3" fill="#1b815b" stroke="#ffffff" stroke-width="0.5" />

</g>
<circle cx="116.0" cy="632.2" r="57.8" fill="#ffffff" stroke="#dedede" stroke-width="0.8"/>
<g clip-path="url(#cca)">
<polygon points="60.2,633.2 65.0,630.3 76.6,628.3 81.4,630.3 78.5,634.1 73.7,637.0 68.9,638.0 67.0,641.8 62.1,638.9" fill="#1b815b" stroke="#1b815b" stroke-width="1.5" />
<polygon points="68.9,638.0 73.7,637.0 78.5,634.1 81.4,630.3 84.7,633.2 83.3,640.9 83.3,648.6 78.5,650.5 72.7,648.6 69.8,643.7" fill="#a9d9bb" stroke="#a9d9bb" stroke-width="1.5" />
<polygon points="74.7,650.5 78.5,650.5 83.3,648.9 86.2,654.3 86.2,659.1 81.4,656.3 76.6,654.3" fill="#4fc48a" stroke="#4fc48a" stroke-width="1.5" />
<polygon points="86.2,658.2 92.0,660.1 97.8,658.2 103.5,656.3 109.3,657.2 111.2,661.1 106.4,660.1 101.6,660.1 96.8,662.0 91.0,661.6 87.2,660.1" fill="#a9d9bb" stroke="#a9d9bb" stroke-width="1.5" />
<polygon points="103.5,679.4 109.3,667.8 117.0,658.2 124.7,654.3 128.6,652.4 124.7,658.2 126.6,664.9 134.3,667.8 138.2,671.7 140.1,679.4 140.1,685.1 134.3,686.1 130.5,688.0 124.7,687.1 117.0,688.0 109.3,685.1 104.5,683.2" fill="#4fc48a" stroke="#4fc48a" stroke-width="1.5" />
<polygon points="124.7,658.2 128.6,652.4 134.3,654.3 142.0,657.2 149.7,660.1 155.5,659.7 162.2,665.9 157.4,670.7 151.7,675.5 145.9,680.3 140.1,684.2 140.1,679.4 138.2,671.7 134.3,667.8 126.6,664.9" fill="#11654f" stroke="#11654f" stroke-width="1.5" />
<polygon points="100.6,687.1 105.5,685.1 113.2,688.0 111.2,689.4 103.5,688.6" fill="#f3cb66" stroke="#f3cb66" stroke-width="1.5" />
<polygon points="97.8,617.8 102.6,618.7 102.6,620.6 98.7,620.1" fill="#1b815b" stroke="#1b815b" stroke-width="1.5" />
<polygon points="113.2,617.8 119.9,616.8 123.7,614.9 124.3,621.6 120.9,620.1 116.0,620.1" fill="#a9d9bb" stroke="#a9d9bb" stroke-width="1.5" />
<polygon points="124.3,614.9 130.5,614.3 135.3,617.8 137.2,621.6 131.4,620.1 126.6,621.2 124.3,622.0" fill="#1b815b" stroke="#1b815b" stroke-width="1.5" />
<polygon points="78.5,597.5 90.1,601.4 101.6,606.2 111.2,609.1 110.3,611.0 99.7,609.1 88.1,604.7 78.5,600.4" fill="#e6e6e6" stroke="#e6e6e6" stroke-width="1.5" />
<polygon points="142.0,622.6 147.8,622.6 147.8,623.9 142.0,623.9" fill="#e6e6e6" stroke="#e6e6e6" stroke-width="1.5" />
<polygon points="60.2,633.2 65.0,630.3 76.6,628.3 81.4,630.3 78.5,634.1 73.7,637.0 68.9,638.0 67.0,641.8 62.1,638.9" fill="#1b815b" stroke="#ffffff" stroke-width="0.5" />
<polygon points="68.9,638.0 73.7,637.0 78.5,634.1 81.4,630.3 84.7,633.2 83.3,640.9 83.3,648.6 78.5,650.5 72.7,648.6 69.8,643.7" fill="#a9d9bb" stroke="#ffffff" stroke-width="0.5" />
<polygon points="74.7,650.5 78.5,650.5 83.3,648.9 86.2,654.3 86.2,659.1 81.4,656.3 76.6,654.3" fill="#4fc48a" stroke="#ffffff" stroke-width="0.5" />
<polygon points="86.2,658.2 92.0,660.1 97.8,658.2 103.5,656.3 109.3,657.2 111.2,661.1 106.4,660.1 101.6,660.1 96.8,662.0 91.0,661.6 87.2,660.1" fill="#a9d9bb" stroke="#ffffff" stroke-width="0.5" />
<polygon points="103.5,679.4 109.3,667.8 117.0,658.2 124.7,654.3 128.6,652.4 124.7,658.2 126.6,664.9 134.3,667.8 138.2,671.7 140.1,679.4 140.1,685.1 134.3,686.1 130.5,688.0 124.7,687.1 117.0,688.0 109.3,685.1 104.5,683.2" fill="#4fc48a" stroke="#ffffff" stroke-width="0.5" />
<polygon points="124.7,658.2 128.6,652.4 134.3,654.3 142.0,657.2 149.7,660.1 155.5,659.7 162.2,665.9 157.4,670.7 151.7,675.5 145.9,680.3 140.1,684.2 140.1,679.4 138.2,671.7 134.3,667.8 126.6,664.9" fill="#11654f" stroke="#ffffff" stroke-width="0.5" />
<polygon points="100.6,687.1 105.5,685.1 113.2,688.0 111.2,689.4 103.5,688.6" fill="#f3cb66" stroke="#ffffff" stroke-width="0.5" />
<polygon points="97.8,617.8 102.6,618.7 102.6,620.6 98.7,620.1" fill="#1b815b" stroke="#ffffff" stroke-width="0.5" />
<polygon points="113.2,617.8 119.9,616.8 123.7,614.9 124.3,621.6 120.9,620.1 116.0,620.1" fill="#a9d9bb" stroke="#ffffff" stroke-width="0.5" />
<polygon points="124.3,614.9 130.5,614.3 135.3,617.8 137.2,621.6 131.4,620.1 126.6,621.2 124.3,622.0" fill="#1b815b" stroke="#ffffff" stroke-width="0.5" />
<polygon points="78.5,597.5 90.1,601.4 101.6,606.2 111.2,609.1 110.3,611.0 99.7,609.1 88.1,604.7 78.5,600.4" fill="#e6e6e6" stroke="#ffffff" stroke-width="0.5" />
<polygon points="142.0,622.6 147.8,622.6 147.8,623.9 142.0,623.9" fill="#e6e6e6" stroke="#ffffff" stroke-width="0.5" />
<circle cx="97.8" cy="585.4" r="0.9" fill="#f3cb66"/><circle cx="101.2" cy="584.6" r="0.9" fill="#f3cb66"/><circle cx="98.7" cy="591.8" r="0.9" fill="#f3cb66"/><circle cx="103.5" cy="588.9" r="0.9" fill="#f3cb66"/><circle cx="106.4" cy="592.7" r="0.9" fill="#f3cb66"/><circle cx="111.2" cy="598.5" r="0.9" fill="#f3cb66"/><circle cx="171.5" cy="645.7" r="0.9" fill="#f3cb66"/><circle cx="160.3" cy="648.9" r="0.9" fill="#f3cb66"/><circle cx="162.2" cy="655.3" r="0.9" fill="#1b815b"/>
</g>
</svg>
<svg class="abs" style="left:0;top:0" width="1200" height="935" viewBox="0 0 1200 935"><polyline points="381.2,256.5 392.5,256.5 412.5,280.0 412.5,340.0" fill="none" stroke="#4a4a4a" stroke-width=".55"/><circle cx="412.5" cy="340.0" r="1" fill="#222"/><circle cx="381.2" cy="256.5" r=".8" fill="#222"/><polyline points="385.0,273.2 388.8,273.2 405.0,292.5 405.0,317.5" fill="none" stroke="#4a4a4a" stroke-width=".55"/><circle cx="405.0" cy="317.5" r="1" fill="#222"/><circle cx="385.0" cy="273.2" r=".8" fill="#222"/><polyline points="348.2,292.8 370.0,292.8 393.8,316.2" fill="none" stroke="#4a4a4a" stroke-width=".55"/><circle cx="393.8" cy="316.2" r="1" fill="#222"/><circle cx="348.2" cy="292.8" r=".8" fill="#222"/><polyline points="292.5,308.2 373.8,308.2 392.5,326.2" fill="none" stroke="#4a4a4a" stroke-width=".55"/><circle cx="392.5" cy="326.2" r="1" fill="#222"/><circle cx="292.5" cy="308.2" r=".8" fill="#222"/><polyline points="365.0,316.5 373.8,316.5 395.0,328.8" fill="none" stroke="#4a4a4a" stroke-width=".55"/><circle cx="395.0" cy="328.8" r="1" fill="#222"/><circle cx="365.0" cy="316.5" r=".8" fill="#222"/><polyline points="313.8,335.2 375.0,335.2 386.2,342.5" fill="none" stroke="#4a4a4a" stroke-width=".55"/><circle cx="386.2" cy="342.5" r="1" fill="#222"/><circle cx="313.8" cy="335.2" r=".8" fill="#222"/><polyline points="372.0,355.8 386.2,355.8 400.0,341.2" fill="none" stroke="#4a4a4a" stroke-width=".55"/><circle cx="400.0" cy="341.2" r="1" fill="#222"/><circle cx="372.0" cy="355.8" r=".8" fill="#222"/><polyline points="380.0,374.5 407.5,374.5 407.5,340.0" fill="none" stroke="#4a4a4a" stroke-width=".55"/><circle cx="407.5" cy="340.0" r="1" fill="#222"/><circle cx="380.0" cy="374.5" r=".8" fill="#222"/><polyline points="397.0,398.5 400.0,398.5 417.5,380.0 417.5,350.0" fill="none" stroke="#4a4a4a" stroke-width=".55"/><circle cx="417.5" cy="350.0" r="1" fill="#222"/><circle cx="397.0" cy="398.5" r=".8" fill="#222"/><polyline points="392.5,422.2 411.2,422.2 423.8,410.0 423.8,381.2" fill="none" stroke="#4a4a4a" stroke-width=".55"/><circle cx="423.8" cy="381.2" r="1" fill="#222"/><circle cx="392.5" cy="422.2" r=".8" fill="#222"/><polyline points="398.8,441.8 415.0,441.8 427.5,428.8 427.5,347.5" fill="none" stroke="#4a4a4a" stroke-width=".55"/><circle cx="427.5" cy="347.5" r="1" fill="#222"/><circle cx="398.8" cy="441.8" r=".8" fill="#222"/><polyline points="385.0,467.0 418.8,467.0 418.8,352.5" fill="none" stroke="#4a4a4a" stroke-width=".55"/><circle cx="418.8" cy="352.5" r="1" fill="#222"/><circle cx="385.0" cy="467.0" r=".8" fill="#222"/><polyline points="424.2,257.0 418.8,257.0 418.8,325.0" fill="none" stroke="#4a4a4a" stroke-width=".55"/><circle cx="418.8" cy="325.0" r="1" fill="#222"/><circle cx="424.2" cy="257.0" r=".8" fill="#222"/><polyline points="424.8,280.0 424.5,280.0 424.5,315.0" fill="none" stroke="#4a4a4a" stroke-width=".55"/><circle cx="424.5" cy="315.0" r="1" fill="#222"/><circle cx="424.8" cy="280.0" r=".8" fill="#222"/><polyline points="558.0,288.2 485.0,288.2 460.0,312.5" fill="none" stroke="#4a4a4a" stroke-width=".55"/><circle cx="460.0" cy="312.5" r="1" fill="#222"/><circle cx="558.0" cy="288.2" r=".8" fill="#222"/><polyline points="524.2,296.8 485.0,296.8 442.5,338.8" fill="none" stroke="#4a4a4a" stroke-width=".55"/><circle cx="442.5" cy="338.8" r="1" fill="#222"/><circle cx="524.2" cy="296.8" r=".8" fill="#222"/><polyline points="489.5,315.2 483.8,315.2 467.5,331.2" fill="none" stroke="#4a4a4a" stroke-width=".55"/><circle cx="467.5" cy="331.2" r="1" fill="#222"/><circle cx="489.5" cy="315.2" r=".8" fill="#222"/><polyline points="538.0,330.5 535.0,330.5 528.8,338.8 477.5,338.8" fill="none" stroke="#4a4a4a" stroke-width=".55"/><circle cx="538.0" cy="330.5" r=".8" fill="#222"/><polyline points="484.5,366.8 467.5,366.8 456.2,357.5" fill="none" stroke="#4a4a4a" stroke-width=".55"/><circle cx="456.2" cy="357.5" r="1" fill="#222"/><circle cx="484.5" cy="366.8" r=".8" fill="#222"/><polyline points="484.5,384.5 475.0,384.5 450.0,360.0" fill="none" stroke="#4a4a4a" stroke-width=".55"/><circle cx="450.0" cy="360.0" r="1" fill="#222"/><circle cx="484.5" cy="384.5" r=".8" fill="#222"/><polyline points="465.0,396.2 465.0,385.0 445.0,365.0" fill="none" stroke="#4a4a4a" stroke-width=".55"/><circle cx="445.0" cy="365.0" r="1" fill="#222"/><circle cx="465.0" cy="396.2" r=".8" fill="#222"/><polyline points="447.0,422.5 445.0,422.5 438.0,415.0 438.0,362.5" fill="none" stroke="#4a4a4a" stroke-width=".55"/><circle cx="438.0" cy="362.5" r="1" fill="#222"/><circle cx="447.0" cy="422.5" r=".8" fill="#222"/><polyline points="447.0,442.0 443.8,442.0 434.5,432.5 434.5,355.0" fill="none" stroke="#4a4a4a" stroke-width=".55"/><circle cx="434.5" cy="355.0" r="1" fill="#222"/><circle cx="447.0" cy="442.0" r=".8" fill="#222"/><polyline points="447.0,458.8 442.5,458.8 431.2,447.5 431.2,350.0" fill="none" stroke="#4a4a4a" stroke-width=".55"/><circle cx="431.2" cy="350.0" r="1" fill="#222"/><circle cx="447.0" cy="458.8" r=".8" fill="#222"/><polyline points="510.0,443.8 543.8,443.8" fill="none" stroke="#4a4a4a" stroke-width=".55"/><circle cx="510.0" cy="443.8" r=".8" fill="#222"/><polyline points="522.5,461.2 531.2,461.2" fill="none" stroke="#4a4a4a" stroke-width=".55"/><circle cx="522.5" cy="461.2" r=".8" fill="#222"/><polyline points="462.5,348.0 572.5,348.0 587.0,333.2" fill="none" stroke="#4a4a4a" stroke-width=".55"/><circle cx="587.0" cy="333.2" r="1" fill="#222"/><polyline points="462.5,351.2 587.0,351.2" fill="none" stroke="#4a4a4a" stroke-width=".55"/><circle cx="587.0" cy="351.2" r="1" fill="#222"/><polyline points="460.0,355.5 555.0,355.5 562.5,362.5" fill="none" stroke="#4a4a4a" stroke-width=".55"/><circle cx="562.5" cy="362.5" r="1" fill="#222"/><polyline points="479.5,278.8 479.5,286.2 425.0,341.2" fill="none" stroke="#4a4a4a" stroke-width=".55"/><circle cx="425.0" cy="341.2" r="1" fill="#222"/><circle cx="479.5" cy="278.8" r=".8" fill="#222"/><polyline points="625.5,270.0 625.5,367.5 616.2,376.2" fill="none" stroke="#4a4a4a" stroke-width=".55"/><circle cx="616.2" cy="376.2" r="1" fill="#222"/><circle cx="625.5" cy="270.0" r=".8" fill="#222"/><polyline points="633.8,293.0 633.8,365.0 608.0,390.8" fill="none" stroke="#4a4a4a" stroke-width=".55"/><circle cx="608.0" cy="390.8" r="1" fill="#222"/><circle cx="633.8" cy="293.0" r=".8" fill="#222"/><polyline points="639.5,316.8 639.5,376.2 626.2,390.0" fill="none" stroke="#4a4a4a" stroke-width=".55"/><circle cx="626.2" cy="390.0" r="1" fill="#222"/><circle cx="639.5" cy="316.8" r=".8" fill="#222"/><polyline points="658.8,340.0 658.8,402.5 631.2,432.5" fill="none" stroke="#4a4a4a" stroke-width=".55"/><circle cx="658.8" cy="340.0" r=".8" fill="#222"/><polyline points="665.8,358.2 665.8,400.0 628.8,437.5" fill="none" stroke="#4a4a4a" stroke-width=".55"/><circle cx="665.8" cy="358.2" r=".8" fill="#222"/><polyline points="575.0,411.0 582.5,418.8 582.5,447.5" fill="none" stroke="#4a4a4a" stroke-width=".55"/><circle cx="582.5" cy="447.5" r="1" fill="#222"/><circle cx="575.0" cy="411.0" r=".8" fill="#222"/><polyline points="680.0,410.0 672.5,410.0 636.2,446.2" fill="none" stroke="#123" stroke-width=".55"/><circle cx="680.0" cy="410.0" r=".8" fill="#222"/><polyline points="674.5,430.8 666.2,430.8 635.0,460.0" fill="none" stroke="#123" stroke-width=".55"/><circle cx="635.0" cy="460.0" r="1" fill="#222"/><circle cx="674.5" cy="430.8" r=".8" fill="#222"/><polyline points="895.0,142.5 887.0,150.5 887.0,188.8" fill="none" stroke="#4a4a4a" stroke-width=".55"/><circle cx="895.0" cy="142.5" r=".8" fill="#222"/><polyline points="859.5,158.8 882.5,158.8 882.5,195.0" fill="none" stroke="#4a4a4a" stroke-width=".55"/><circle cx="882.5" cy="195.0" r="1" fill="#222"/><circle cx="859.5" cy="158.8" r=".8" fill="#222"/><polyline points="911.2,168.8 911.2,183.8 895.0,200.5" fill="none" stroke="#4a4a4a" stroke-width=".55"/><circle cx="895.0" cy="200.5" r="1" fill="#222"/><circle cx="911.2" cy="168.8" r=".8" fill="#222"/><polyline points="850.8,177.0 871.8,177.0 871.8,218.0" fill="none" stroke="#4a4a4a" stroke-width=".55"/><circle cx="871.8" cy="218.0" r="1" fill="#222"/><circle cx="850.8" cy="177.0" r=".8" fill="#222"/><polyline points="812.5,197.0 855.0,197.0 865.0,206.2" fill="none" stroke="#4a4a4a" stroke-width=".55"/><circle cx="865.0" cy="206.2" r="1" fill="#222"/><circle cx="812.5" cy="197.0" r=".8" fill="#222"/><polyline points="972.0,191.2 920.0,191.2 890.0,222.5" fill="none" stroke="#4a4a4a" stroke-width=".55"/><circle cx="890.0" cy="222.5" r="1" fill="#222"/><circle cx="972.0" cy="191.2" r=".8" fill="#222"/><polyline points="782.0,216.2 860.0,216.2 864.5,223.0" fill="none" stroke="#4a4a4a" stroke-width=".55"/><circle cx="864.5" cy="223.0" r="1" fill="#222"/><circle cx="782.0" cy="216.2" r=".8" fill="#222"/><polyline points="816.2,223.0 853.8,223.0" fill="none" stroke="#4a4a4a" stroke-width=".55"/><circle cx="853.8" cy="223.0" r="1" fill="#222"/><circle cx="816.2" cy="223.0" r=".8" fill="#222"/><polyline points="752.5,240.0 845.0,240.0 850.0,232.5 865.0,232.5" fill="none" stroke="#4a4a4a" stroke-width=".55"/><circle cx="865.0" cy="232.5" r="1" fill="#222"/><circle cx="752.5" cy="240.0" r=".8" fill="#222"/><polyline points="786.2,248.2 850.0,248.2 858.8,238.0" fill="none" stroke="#4a4a4a" stroke-width=".55"/><circle cx="858.8" cy="238.0" r="1" fill="#222"/><circle cx="786.2" cy="248.2" r=".8" fill="#222"/><polyline points="752.5,265.5 840.0,265.5 847.5,258.0" fill="none" stroke="#4a4a4a" stroke-width=".55"/><circle cx="847.5" cy="258.0" r="1" fill="#222"/><circle cx="752.5" cy="265.5" r=".8" fill="#222"/><polyline points="851.2,303.8 866.2,303.8 877.5,292.5" fill="none" stroke="#4a4a4a" stroke-width=".55"/><circle cx="877.5" cy="292.5" r="1" fill="#222"/><circle cx="851.2" cy="303.8" r=".8" fill="#222"/><polyline points="897.5,324.0 897.5,288.0" fill="none" stroke="#4a4a4a" stroke-width=".55"/><circle cx="897.5" cy="288.0" r="1" fill="#222"/><circle cx="897.5" cy="324.0" r=".8" fill="#222"/><polyline points="934.5,317.5 927.5,310.5 927.5,273.0" fill="none" stroke="#4a4a4a" stroke-width=".55"/><circle cx="927.5" cy="273.0" r="1" fill="#222"/><circle cx="934.5" cy="317.5" r=".8" fill="#222"/><polyline points="999.0,225.4 953.8,225.4" fill="none" stroke="#4a4a4a" stroke-width=".55"/><circle cx="953.8" cy="225.4" r="1" fill="#222"/><circle cx="999.0" cy="225.4" r=".8" fill="#222"/><polyline points="1070.4,240.0 901.2,240.0" fill="none" stroke="#4a4a4a" stroke-width=".55"/><circle cx="901.2" cy="240.0" r="1" fill="#222"/><circle cx="1070.4" cy="240.0" r=".8" fill="#222"/><polyline points="1022.0,245.0 957.6,245.0" fill="none" stroke="#4a4a4a" stroke-width=".55"/><circle cx="957.6" cy="245.0" r="1" fill="#222"/><circle cx="1022.0" cy="245.0" r=".8" fill="#222"/><polyline points="913.8,253.0 964.0,253.0 975.0,264.4" fill="none" stroke="#4a4a4a" stroke-width=".55"/><circle cx="975.0" cy="264.4" r="1" fill="#222"/><circle cx="913.8" cy="253.0" r=".8" fill="#222"/><polyline points="913.8,250.0 998.0,250.0 1013.0,264.4" fill="none" stroke="#4a4a4a" stroke-width=".55"/><circle cx="1013.0" cy="264.4" r="1" fill="#222"/><circle cx="913.8" cy="250.0" r=".8" fill="#222"/><polyline points="924.6,258.0 967.4,301.2 985.0,301.2" fill="none" stroke="#4a4a4a" stroke-width=".55"/><circle cx="985.0" cy="301.2" r="1" fill="#222"/><circle cx="924.6" cy="258.0" r=".8" fill="#222"/><polyline points="1097.6,362.4 1082.0,378.0 1082.0,461.0" fill="none" stroke="#4a4a4a" stroke-width=".55"/><circle cx="1082.0" cy="461.0" r="1" fill="#222"/><circle cx="1097.6" cy="362.4" r=".8" fill="#222"/><polyline points="1053.0,383.6 1063.6,394.0 1063.6,442.0" fill="none" stroke="#4a4a4a" stroke-width=".55"/><circle cx="1063.6" cy="442.0" r="1" fill="#222"/><circle cx="1053.0" cy="383.6" r=".8" fill="#222"/><polyline points="1119.4,382.4 1102.4,396.0 1102.4,469.0" fill="none" stroke="#4a4a4a" stroke-width=".55"/><circle cx="1102.4" cy="469.0" r="1" fill="#222"/><circle cx="1119.4" cy="382.4" r=".8" fill="#222"/><polyline points="1035.0,395.6 1051.0,395.6 1051.0,442.4" fill="none" stroke="#4a4a4a" stroke-width=".55"/><circle cx="1051.0" cy="442.4" r="1" fill="#222"/><circle cx="1035.0" cy="395.6" r=".8" fill="#222"/><polyline points="1121.0,403.4 1111.4,410.0 1111.4,463.6" fill="none" stroke="#4a4a4a" stroke-width=".55"/><circle cx="1111.4" cy="463.6" r="1" fill="#222"/><circle cx="1121.0" cy="403.4" r=".8" fill="#222"/><polyline points="1005.6,449.6 1014.0,458.4 1062.0,458.4" fill="none" stroke="#4a4a4a" stroke-width=".55"/><circle cx="1062.0" cy="458.4" r="1" fill="#222"/><circle cx="1005.6" cy="449.6" r=".8" fill="#222"/><polyline points="1026.0,482.4 1096.0,482.4" fill="none" stroke="#4a4a4a" stroke-width=".55"/><circle cx="1096.0" cy="482.4" r="1" fill="#222"/><circle cx="1026.0" cy="482.4" r=".8" fill="#222"/><polyline points="1112.4,526.0 1112.4,496.0" fill="none" stroke="#4a4a4a" stroke-width=".55"/><circle cx="1112.4" cy="496.0" r="1" fill="#222"/><circle cx="1112.4" cy="526.0" r=".8" fill="#222"/><polyline points="980.0,535.5 953.8,535.5 945.0,526.2" fill="none" stroke="#4a4a4a" stroke-width=".55"/><circle cx="980.0" cy="535.5" r=".8" fill="#222"/><polyline points="950.0,562.0 937.5,562.0 928.8,570.0" fill="none" stroke="#4a4a4a" stroke-width=".55"/><circle cx="928.8" cy="570.0" r="1" fill="#222"/><circle cx="950.0" cy="562.0" r=".8" fill="#222"/><polyline points="951.2,579.5 903.8,579.5" fill="none" stroke="#4a4a4a" stroke-width=".55"/><circle cx="903.8" cy="579.5" r="1" fill="#222"/><circle cx="951.2" cy="579.5" r=".8" fill="#222"/><polyline points="1071.2,710.5 1071.2,729.5" fill="none" stroke="#4a4a4a" stroke-width=".55"/><circle cx="1071.2" cy="729.5" r="1" fill="#222"/><circle cx="1071.2" cy="710.5" r=".8" fill="#222"/><polyline points="1016.2,698.0 1003.0,685.0 1003.0,677.5" fill="none" stroke="#4a4a4a" stroke-width=".55"/><circle cx="1003.0" cy="677.5" r="1" fill="#222"/><circle cx="1016.2" cy="698.0" r=".8" fill="#222"/><polyline points="1099.5,808.8 1085.5,808.8" fill="none" stroke="#4a4a4a" stroke-width=".55"/><circle cx="1099.5" cy="808.8" r=".8" fill="#222"/><polyline points="734.2,591.2 734.2,607.5 721.2,620.0" fill="none" stroke="#4a4a4a" stroke-width=".55"/><circle cx="721.2" cy="620.0" r="1" fill="#222"/><circle cx="734.2" cy="591.2" r=".8" fill="#222"/><polyline points="743.8,607.5 700.0,647.5 685.0,647.5" fill="none" stroke="#4a4a4a" stroke-width=".55"/><circle cx="685.0" cy="647.5" r="1" fill="#222"/><circle cx="743.8" cy="607.5" r=".8" fill="#222"/><polyline points="739.5,624.2 705.0,654.5 691.2,654.5" fill="none" stroke="#4a4a4a" stroke-width=".55"/><circle cx="691.2" cy="654.5" r="1" fill="#222"/><circle cx="739.5" cy="624.2" r=".8" fill="#222"/><polyline points="722.5,653.8 711.2,663.0 662.5,663.0" fill="none" stroke="#4a4a4a" stroke-width=".55"/><circle cx="662.5" cy="663.0" r="1" fill="#222"/><circle cx="722.5" cy="653.8" r=".8" fill="#222"/><polyline points="818.8,672.5 836.2,672.5 871.2,637.5" fill="none" stroke="#4a4a4a" stroke-width=".55"/><circle cx="871.2" cy="637.5" r="1" fill="#222"/><circle cx="818.8" cy="672.5" r=".8" fill="#222"/><polyline points="853.0,687.0 878.0,662.0 878.0,646.2" fill="none" stroke="#4a4a4a" stroke-width=".55"/><circle cx="878.0" cy="646.2" r="1" fill="#222"/><circle cx="853.0" cy="687.0" r=".8" fill="#222"/><polyline points="843.8,704.2 852.5,704.2 915.0,638.8" fill="none" stroke="#4a4a4a" stroke-width=".55"/><circle cx="915.0" cy="638.8" r="1" fill="#222"/><circle cx="843.8" cy="704.2" r=".8" fill="#222"/><polyline points="878.8,689.5 892.5,675.5" fill="none" stroke="#4a4a4a" stroke-width=".55"/><circle cx="892.5" cy="675.5" r="1" fill="#222"/><circle cx="878.8" cy="689.5" r=".8" fill="#222"/><polyline points="907.0,711.8 918.8,711.8 946.2,679.5" fill="none" stroke="#4a4a4a" stroke-width=".55"/><circle cx="946.2" cy="679.5" r="1" fill="#222"/><circle cx="907.0" cy="711.8" r=".8" fill="#222"/><polyline points="728.0,753.2 718.8,753.2 680.0,714.5 680.0,690.0" fill="none" stroke="#4a4a4a" stroke-width=".55"/><circle cx="728.0" cy="753.2" r=".8" fill="#222"/><polyline points="768.8,768.8 727.5,768.8 686.2,727.5 686.2,710.0" fill="none" stroke="#4a4a4a" stroke-width=".55"/><circle cx="768.8" cy="768.8" r=".8" fill="#222"/><polyline points="728.0,777.0 710.0,777.0 675.0,742.0 671.2,742.0" fill="none" stroke="#4a4a4a" stroke-width=".55"/><circle cx="671.2" cy="742.0" r="1" fill="#222"/><circle cx="728.0" cy="777.0" r=".8" fill="#222"/><polyline points="552.0,738.8 542.5,753.8 533.8,753.8" fill="none" stroke="#4a4a4a" stroke-width=".55"/><circle cx="533.8" cy="753.8" r="1" fill="#222"/><circle cx="552.0" cy="738.8" r=".8" fill="#222"/><polyline points="592.0,745.5 606.2,745.5" fill="none" stroke="#4a4a4a" stroke-width=".55"/><circle cx="606.2" cy="745.5" r="1" fill="#222"/><circle cx="592.0" cy="745.5" r=".8" fill="#222"/><polyline points="604.5,763.2 617.5,763.2" fill="none" stroke="#4a4a4a" stroke-width=".55"/><circle cx="617.5" cy="763.2" r="1" fill="#222"/><circle cx="604.5" cy="763.2" r=".8" fill="#222"/><polyline points="621.2,789.5 628.8,782.5 628.8,740.0" fill="none" stroke="#4a4a4a" stroke-width=".55"/><circle cx="628.8" cy="740.0" r="1" fill="#222"/><circle cx="621.2" cy="789.5" r=".8" fill="#222"/><polyline points="575.5,809.5 570.0,803.8 570.0,788.8 551.2,788.8" fill="none" stroke="#4a4a4a" stroke-width=".55"/><circle cx="551.2" cy="788.8" r="1" fill="#222"/><circle cx="575.5" cy="809.5" r=".8" fill="#222"/><polyline points="630.0,837.0 635.0,832.0 635.0,712.5" fill="none" stroke="#4a4a4a" stroke-width=".55"/><circle cx="635.0" cy="712.5" r="1" fill="#222"/><circle cx="630.0" cy="837.0" r=".8" fill="#222"/><polyline points="665.0,792.0 662.0,788.8 662.0,746.2" fill="none" stroke="#4a4a4a" stroke-width=".55"/><circle cx="665.0" cy="792.0" r=".8" fill="#222"/><polyline points="660.5,815.0 656.2,810.0 656.2,750.0" fill="none" stroke="#4a4a4a" stroke-width=".55"/><circle cx="660.5" cy="815.0" r=".8" fill="#222"/><polyline points="661.2,838.0 644.5,822.5 644.5,760.0" fill="none" stroke="#4a4a4a" stroke-width=".55"/><circle cx="661.2" cy="838.0" r=".8" fill="#222"/><polyline points="488.8,858.8 497.0,858.8 497.0,836.2 506.2,827.0" fill="none" stroke="#4a4a4a" stroke-width=".55"/><circle cx="506.2" cy="827.0" r="1" fill="#222"/><circle cx="488.8" cy="858.8" r=".8" fill="#222"/><polyline points="488.0,877.5 502.5,877.5 502.5,842.5 516.2,830.0" fill="none" stroke="#4a4a4a" stroke-width=".55"/><circle cx="516.2" cy="830.0" r="1" fill="#222"/><circle cx="488.0" cy="877.5" r=".8" fill="#222"/><polyline points="555.8,691.8 562.5,686.8 651.8,686.8 651.8,635.5" fill="none" stroke="#4a4a4a" stroke-width=".55"/><circle cx="651.8" cy="635.5" r="1" fill="#222"/><circle cx="555.8" cy="691.8" r=".8" fill="#222"/><polyline points="308.8,654.5 335.0,654.5" fill="none" stroke="#4a4a4a" stroke-width=".55"/><circle cx="335.0" cy="654.5" r="1" fill="#222"/><circle cx="308.8" cy="654.5" r=".8" fill="#222"/><polyline points="318.2,678.2 343.8,678.2 375.0,647.5 408.8,643.0" fill="none" stroke="#4a4a4a" stroke-width=".55"/><circle cx="408.8" cy="643.0" r="1" fill="#222"/><circle cx="318.2" cy="678.2" r=".8" fill="#222"/><polyline points="333.8,704.5 347.5,704.5 357.0,695.0" fill="none" stroke="#4a4a4a" stroke-width=".55"/><circle cx="357.0" cy="695.0" r="1" fill="#222"/><circle cx="333.8" cy="704.5" r=".8" fill="#222"/><polyline points="320.5,727.0 362.5,727.0 378.0,716.2" fill="none" stroke="#4a4a4a" stroke-width=".55"/><circle cx="378.0" cy="716.2" r="1" fill="#222"/><circle cx="320.5" cy="727.0" r=".8" fill="#222"/><polyline points="238.8,750.2 366.2,750.2 397.0,725.5" fill="none" stroke="#4a4a4a" stroke-width=".55"/><circle cx="397.0" cy="725.5" r="1" fill="#222"/><circle cx="238.8" cy="750.2" r=".8" fill="#222"/><polyline points="284.2,762.0 368.8,762.0" fill="none" stroke="#4a4a4a" stroke-width=".55"/><circle cx="368.8" cy="762.0" r="1" fill="#222"/><circle cx="284.2" cy="762.0" r=".8" fill="#222"/><polyline points="313.8,779.2 357.0,779.2" fill="none" stroke="#4a4a4a" stroke-width=".55"/><circle cx="357.0" cy="779.2" r="1" fill="#222"/><circle cx="313.8" cy="779.2" r=".8" fill="#222"/><polyline points="294.5,809.2 356.2,809.2 403.8,760.0" fill="none" stroke="#4a4a4a" stroke-width=".55"/><circle cx="403.8" cy="760.0" r="1" fill="#222"/><circle cx="294.5" cy="809.2" r=".8" fill="#222"/><polyline points="412.5,802.0 446.2,802.0 459.5,788.8" fill="none" stroke="#4a4a4a" stroke-width=".55"/><circle cx="459.5" cy="788.8" r="1" fill="#222"/><circle cx="412.5" cy="802.0" r=".8" fill="#222"/><polyline points="408.8,818.5 436.2,818.5 468.8,787.5" fill="none" stroke="#4a4a4a" stroke-width=".55"/><circle cx="468.8" cy="787.5" r="1" fill="#222"/><circle cx="408.8" cy="818.5" r=".8" fill="#222"/><polyline points="410.5,835.0 428.8,835.0 473.8,787.5" fill="none" stroke="#4a4a4a" stroke-width=".55"/><circle cx="473.8" cy="787.5" r="1" fill="#222"/><circle cx="410.5" cy="835.0" r=".8" fill="#222"/><polyline points="453.2,842.5 466.2,842.5 507.5,802.5" fill="none" stroke="#4a4a4a" stroke-width=".55"/><circle cx="507.5" cy="802.5" r="1" fill="#222"/><circle cx="453.2" cy="842.5" r=".8" fill="#222"/><polyline points="433.0,863.8 456.2,863.8 507.0,812.5" fill="none" stroke="#4a4a4a" stroke-width=".55"/><circle cx="507.0" cy="812.5" r="1" fill="#222"/><circle cx="433.0" cy="863.8" r=".8" fill="#222"/><polyline points="100.5,518.0 100.5,585.0" fill="none" stroke="#4a4a4a" stroke-width=".55"/><circle cx="100.5" cy="585.0" r="1" fill="#222"/><circle cx="100.5" cy="518.0" r=".8" fill="#222"/><polyline points="131.8,539.2 131.8,600.0 120.0,613.8" fill="none" stroke="#4a4a4a" stroke-width=".55"/><circle cx="120.0" cy="613.8" r="1" fill="#222"/><circle cx="131.8" cy="539.2" r=".8" fill="#222"/><polyline points="140.0,556.2 140.0,602.5 128.8,615.5" fill="none" stroke="#4a4a4a" stroke-width=".55"/><circle cx="128.8" cy="615.5" r="1" fill="#222"/><circle cx="140.0" cy="556.2" r=".8" fill="#222"/><polyline points="65.5,567.5 82.0,567.5 82.0,603.8 98.8,619.5" fill="none" stroke="#4a4a4a" stroke-width=".55"/><circle cx="98.8" cy="619.5" r="1" fill="#222"/><circle cx="65.5" cy="567.5" r=".8" fill="#222"/><polyline points="44.5,602.5 44.5,613.8 65.5,635.0" fill="none" stroke="#4a4a4a" stroke-width=".55"/><circle cx="65.5" cy="635.0" r="1" fill="#222"/><circle cx="44.5" cy="602.5" r=".8" fill="#222"/><polyline points="181.2,595.5 181.2,608.0 165.0,624.2" fill="none" stroke="#4a4a4a" stroke-width=".55"/><circle cx="165.0" cy="624.2" r="1" fill="#222"/><circle cx="181.2" cy="595.5" r=".8" fill="#222"/><polyline points="181.2,618.8 168.0,632.0" fill="none" stroke="#4a4a4a" stroke-width=".55"/><circle cx="168.0" cy="632.0" r="1" fill="#222"/><circle cx="181.2" cy="618.8" r=".8" fill="#222"/><polyline points="138.8,637.5 150.0,637.5 160.0,647.5" fill="none" stroke="#4a4a4a" stroke-width=".55"/><circle cx="160.0" cy="647.5" r="1" fill="#222"/><circle cx="138.8" cy="637.5" r=".8" fill="#222"/><polyline points="186.2,645.5 174.2,645.5" fill="none" stroke="#4a4a4a" stroke-width=".55"/><circle cx="174.2" cy="645.5" r="1" fill="#222"/><circle cx="186.2" cy="645.5" r=".8" fill="#222"/><polyline points="187.5,663.8 172.5,663.8 163.0,654.2" fill="none" stroke="#4a4a4a" stroke-width=".55"/><circle cx="163.0" cy="654.2" r="1" fill="#222"/><circle cx="187.5" cy="663.8" r=".8" fill="#222"/><polyline points="167.0,703.8 167.0,687.5 145.0,666.2" fill="none" stroke="#4a4a4a" stroke-width=".55"/><circle cx="145.0" cy="666.2" r="1" fill="#222"/><circle cx="167.0" cy="703.8" r=".8" fill="#222"/><polyline points="103.2,717.0 119.5,701.2 119.5,678.8" fill="none" stroke="#4a4a4a" stroke-width=".55"/><circle cx="119.5" cy="678.8" r="1" fill="#222"/><circle cx="103.2" cy="717.0" r=".8" fill="#222"/><polyline points="87.5,714.2 94.5,707.5 94.5,662.0" fill="none" stroke="#4a4a4a" stroke-width=".55"/><circle cx="94.5" cy="662.0" r="1" fill="#222"/><circle cx="87.5" cy="714.2" r=".8" fill="#222"/><polyline points="60.0,703.2 77.5,686.2 77.5,655.0" fill="none" stroke="#4a4a4a" stroke-width=".55"/><circle cx="77.5" cy="655.0" r="1" fill="#222"/><circle cx="60.0" cy="703.2" r=".8" fill="#222"/><polyline points="59.2,683.0 68.8,673.8 68.8,645.0" fill="none" stroke="#4a4a4a" stroke-width=".55"/><circle cx="68.8" cy="645.0" r="1" fill="#222"/><circle cx="59.2" cy="683.0" r=".8" fill="#222"/><polyline points="287.0,546.2 295.0,546.2 295.0,588.8" fill="none" stroke="#4a4a4a" stroke-width=".55"/><circle cx="295.0" cy="588.8" r="1" fill="#222"/><circle cx="287.0" cy="546.2" r=".8" fill="#222"/><polyline points="268.0,595.0 281.2,595.0" fill="none" stroke="#4a4a4a" stroke-width=".55"/><circle cx="281.2" cy="595.0" r="1" fill="#222"/><circle cx="268.0" cy="595.0" r=".8" fill="#222"/><polyline points="274.5,610.8 285.0,610.8 295.0,600.8" fill="none" stroke="#4a4a4a" stroke-width=".55"/><circle cx="295.0" cy="600.8" r="1" fill="#222"/><circle cx="274.5" cy="610.8" r=".8" fill="#222"/><polyline points="512.4,516.4 534.0,516.4" fill="none" stroke="#4a4a4a" stroke-width=".55"/><circle cx="534.0" cy="516.4" r="1" fill="#222"/><circle cx="512.4" cy="516.4" r=".8" fill="#222"/><polyline points="521.0,535.0 585.0,535.0" fill="none" stroke="#4a4a4a" stroke-width=".55"/><circle cx="585.0" cy="535.0" r="1" fill="#222"/><circle cx="521.0" cy="535.0" r=".8" fill="#222"/><polyline points="453.6,553.4 524.0,553.4" fill="none" stroke="#4a4a4a" stroke-width=".55"/><circle cx="524.0" cy="553.4" r="1" fill="#222"/><circle cx="453.6" cy="553.4" r=".8" fill="#222"/><polyline points="495.0,562.4 505.0,562.4 520.0,577.0" fill="none" stroke="#4a4a4a" stroke-width=".55"/><circle cx="520.0" cy="577.0" r="1" fill="#222"/><circle cx="495.0" cy="562.4" r=".8" fill="#222"/><polyline points="461.0,581.0 478.0,581.0 499.0,601.0" fill="none" stroke="#4a4a4a" stroke-width=".55"/><circle cx="499.0" cy="601.0" r="1" fill="#222"/><circle cx="461.0" cy="581.0" r=".8" fill="#222"/><polyline points="468.0,597.6 489.0,597.6 497.0,604.0" fill="none" stroke="#4a4a4a" stroke-width=".55"/><circle cx="497.0" cy="604.0" r="1" fill="#222"/><circle cx="468.0" cy="597.6" r=".8" fill="#222"/><polyline points="479.0,612.0 499.0,612.0" fill="none" stroke="#4a4a4a" stroke-width=".55"/><circle cx="499.0" cy="612.0" r="1" fill="#222"/><circle cx="479.0" cy="612.0" r=".8" fill="#222"/><polyline points="473.6,638.0 487.0,638.0 505.0,620.0" fill="none" stroke="#4a4a4a" stroke-width=".55"/><circle cx="505.0" cy="620.0" r="1" fill="#222"/><circle cx="473.6" cy="638.0" r=".8" fill="#222"/><polyline points="501.0,649.0 510.0,640.0 510.0,626.0" fill="none" stroke="#4a4a4a" stroke-width=".55"/><circle cx="510.0" cy="626.0" r="1" fill="#222"/><circle cx="501.0" cy="649.0" r=".8" fill="#222"/><polyline points="499.4,671.6 518.0,653.0 518.0,631.0" fill="none" stroke="#4a4a4a" stroke-width=".55"/><circle cx="518.0" cy="631.0" r="1" fill="#222"/><circle cx="499.4" cy="671.6" r=".8" fill="#222"/><polyline points="419.0,622.4 412.0,622.4 400.0,634.0" fill="none" stroke="#4a4a4a" stroke-width=".55"/><circle cx="400.0" cy="634.0" r="1" fill="#222"/><circle cx="419.0" cy="622.4" r=".8" fill="#222"/><polyline points="503.6,497.6 533.0,497.6 543.6,503.6" fill="none" stroke="#4a4a4a" stroke-width=".55"/><circle cx="543.6" cy="503.6" r="1" fill="#222"/><circle cx="503.6" cy="497.6" r=".8" fill="#222"/><polyline points="785.7,496.0 771.7,504.3" fill="none" stroke="#123" stroke-width=".55"/><circle cx="771.7" cy="504.3" r="1" fill="#222"/><circle cx="785.7" cy="496.0" r=".8" fill="#222"/><polyline points="785.7,511.7 767.3,516.7" fill="none" stroke="#123" stroke-width=".55"/><circle cx="767.3" cy="516.7" r="1" fill="#222"/><circle cx="785.7" cy="511.7" r=".8" fill="#222"/></svg>
<div class="lb s" style="left:358.8px;top:254.1px"><b>AUSTRIA</b><span>$2,494.29</span></div>
<div class="lb s" style="left:358.8px;top:271.1px"><b>GERMANY</b><span>$528.54</span></div>
<div class="lb s" style="left:310.0px;top:290.2px"><b>NETHERLANDS</b><span>$2,207.34</span></div>
<div class="lb s" style="left:268.8px;top:306.1px"><b>BELGIUM</b><span>$2,420.63</span></div>
<div class="lb s" style="left:327.5px;top:314.1px"><b>LUXEMBOURG</b><span>$1,353.53</span></div>
<div class="lb m" style="left:287.0px;top:332.4px"><b>FRANCE</b><span>$320.37</span></div>
<div class="lb s" style="left:334.5px;top:353.2px"><b>SWITZERLAND</b><span>$1,474.77</span></div>
<div class="lb s" style="left:340.8px;top:372.1px"><b>LIECHTENSTEIN</b><span>$1,632.30</span></div>
<div class="lb s" style="left:365.0px;top:396.2px"><b>SAN MARINO</b><span>$4,708.99</span></div>
<div class="lb s" style="left:374.5px;top:420.1px"><b>MALTA</b><span>$625.41</span></div>
<div class="lb s" style="left:374.5px;top:439.6px"><b>CROATIA</b><span>$27.59</span></div>
<div class="lb m" style="left:366.2px;top:463.9px"><b>ITALY</b><span>$4,914.85</span></div>
<div class="lb s" style="left:428.8px;top:254.6px"><b>CZECH REP.</b><span>$158.99</span></div>
<div class="lb m" style="left:427.0px;top:277.7px"><b>POLAND</b><span>$388.42</span></div>
<div class="lb s" style="left:562.0px;top:285.9px"><b>SLOVAKIA</b><span>$210.85</span></div>
<div class="lb s" style="left:528.8px;top:294.2px"><b>HUNGARY</b><span>$369.31</span></div>
<div class="lb m" style="left:493.0px;top:312.7px"><b>UKRAINE</b><span>$12.39</span></div>
<div class="lb s" style="left:541.8px;top:328.1px"><b>MOLDOVA</b><span>$76.62</span></div>
<div class="lb s" style="left:488.8px;top:364.1px"><b>BULGARIA</b><span>$75.22</span></div>
<div class="lb s" style="left:488.8px;top:381.9px"><b>N.MACEDONIA</b><span>$203.12</span></div>
<div class="lb s" style="left:463.8px;top:398.6px"><b>GREECE</b><span>$206.02</span></div>
<div class="lb s" style="left:451.2px;top:420.1px"><b>ALBANIA</b><span>$601.84</span></div>
<div class="lb s" style="left:451.2px;top:439.6px"><b>MONTENEGRO</b><span>$105.46</span></div>
<div class="lb s" style="left:451.2px;top:456.2px"><b>BOSNIA AND<br>HERZEGOVINA</b><span>$838.95</span></div>
<div class="lb m" style="left:496.2px;top:402.4px"><b>ICELAND</b><span>$1,081.53</span></div>
<div class="lb m" style="left:498.8px;top:440.7px"><b>UK</b><span>$17</span></div>
<div class="lb s" style="left:498.8px;top:458.9px"><b>IRELAND</b><span>$86.18</span></div>
<div class="lb m" style="left:629.5px;top:267.1px"><b>NORWAY</b><span>$1,487.39</span></div>
<div class="lb m" style="left:638.0px;top:290.1px"><b>SWEDEN</b><span>$260.14</span></div>
<div class="lb m" style="left:643.8px;top:313.9px"><b>FINLAND</b><span>$803.23</span></div>
<div class="lb s" style="left:662.0px;top:337.6px"><b>ESTONIA</b><span>$177.81</span></div>
<div class="lb s" style="left:670.0px;top:355.9px"><b>LATVIA</b><span>$289.44</span></div>
<div class="lb s" style="left:590.0px;top:330.6px"><b>ROMANIA</b><span>$38.09</span></div>
<div class="lb s" style="left:590.0px;top:348.6px"><b>SERBIA</b><span>$113.17</span></div>
<div class="lb s" style="left:565.0px;top:360.2px"><b>KOSOVO</b><span>$49.05</span></div>
<div class="lb s" style="left:548.8px;top:408.2px"><b>DENMARK</b><span>$110.49</span></div>
<div class="lb s w" style="left:683.8px;top:407.9px"><b>LITHUANIA</b><span>$90.82</span></div>
<div class="lb s w" style="left:678.0px;top:428.6px"><b>BELARUS</b><span>$18.18</span></div>
<div class="lb b w" style="left:793.8px;top:404.6px"><b>RUSSIA</b><span>$77.63</span></div>
<div class="lb s" style="left:898.8px;top:140.2px"><b>AZERBAIJAN</b><span>$10.59</span></div>
<div class="lb s" style="left:834.5px;top:156.6px"><b>GEORGIA</b><span>$32.12</span></div>
<div class="lb s" style="left:915.0px;top:166.6px"><b>ARMENIA</b><span>$29.78</span></div>
<div class="lb s" style="left:834.5px;top:174.9px"><b>SYRIA</b><span>$1,391.61</span></div>
<div class="lb m" style="left:788.0px;top:193.9px"><b>TURKEY</b><span>$181.79</span></div>
<div class="lb s" style="left:976.2px;top:189.1px"><b>IRAQ</b><span>$1,574.18</span></div>
<div class="lb s" style="left:756.2px;top:214.1px"><b>LEBANON</b><span>$2,856.50</span></div>
<div class="lb s" style="left:795.0px;top:220.9px"><b>CYPRUS</b><span>$1,588.06</span></div>
<div class="lb s" style="left:730.5px;top:237.9px"><b>JORDAN</b><span>$860.38</span></div>
<div class="lb s" style="left:765.5px;top:246.1px"><b>ISRAEL</b><span>$1,246.31</span></div>
<div class="lb s" style="left:732.0px;top:263.6px"><b>EGYPT</b><span>$12.73</span></div>
<div class="lb s" style="left:827.0px;top:301.6px"><b>ERITREA</b><span>$174.35</span></div>
<div class="lb m" style="left:902.0px;top:321.4px"><b>YEMEN</b><span>$807.79</span></div>
<div class="lb m" style="left:938.0px;top:315.1px"><b>OMAN</b><span>$501.96</span></div>
<div class="lb m w" style="left:907.0px;top:220.1px"><b>IRAN</b><span>$31.35</span></div>
<div class="lb m" style="left:881.2px;top:245.9px"><b>SAUDI<br>ARABIA</b><span>$1,266.57</span></div>
<div class="lb s" style="left:1002.4px;top:223.5px"><b>AFGHANISTAN</b><span>$33.01</span></div>
<div class="lb s" style="left:1074.0px;top:237.7px"><b>KUWAIT</b><span>$814.94</span></div>
<div class="lb m" style="left:1026.6px;top:242.5px"><b>PAKISTAN</b><span>$19.99</span></div>
<div class="lb s" style="left:974.4px;top:268.1px"><b>QATAR</b><span>$3,951.94</span></div>
<div class="lb s" style="left:1013.0px;top:268.1px"><b>BAHRAIN</b><span>$230.78</span></div>
<div class="lb s" style="left:1101.0px;top:360.1px"><b>MYANMAR</b><span>$178.75</span></div>
<div class="lb s" style="left:1032.0px;top:367.4px"><b>BHUTAN</b><span>$100.38</span></div>
<div class="lb m" style="left:1123.0px;top:379.9px"><b>LAOS</b><span>$104.79</span></div>
<div class="lb m" style="left:1013.0px;top:392.9px"><b>NEPAL</b><span>$187.18</span></div>
<div class="lb m" style="left:1124.4px;top:400.5px"><b>VIETNAM</b><span>$128.10</span></div>
<div class="lb m" style="left:996.0px;top:432.5px"><b>BANGLADESH</b><span>$149.25</span></div>
<div class="lb s" style="left:999.6px;top:480.4px"><b>THAILAND</b><span>$199.30</span></div>
<div class="lb m" style="left:986.0px;top:504.5px"><b>JAPAN</b><span>$647.24</span></div>
<div class="lb m" style="left:983.2px;top:532.7px"><b>SOUTH<br>KOREA</b><span>$46.36</span></div>
<div class="lb s" style="left:953.2px;top:559.8px"><b>TAIWAN</b><span>$236.74</span></div>
<div class="lb s" style="left:955.0px;top:577.0px"><b>HONG KONG</b><span>$511.43</span></div>
<div class="lb m" style="left:1095.0px;top:528.4px"><b>CAMBODIA</b><span>$746.54</span></div>
<div class="lb m" style="left:947.5px;top:612.7px"><b>PHILIPPINES</b><span>$387.30</span></div>
<div class="lb s" style="left:988.8px;top:632.8px"><b>PALAU</b><span>$375</span></div>
<div class="lb s" style="left:1034.2px;top:624.8px"><b>MICRONESIA</b><span>$231.01</span></div>
<div class="lb s" style="left:1112.0px;top:632.8px"><b>MARSHALL<br>ISLANDS</b><span>$610</span></div>
<div class="lb s" style="left:1095.0px;top:659.0px"><b>KIRIBATI</b><span>$174.85</span></div>
<div class="lb s" style="left:1133.0px;top:680.2px"><b>SAMOA</b><span>$296.24</span></div>
<div class="lb s" style="left:1133.0px;top:701.5px"><b>TONGA</b><span>$258.04</span></div>
<div class="lb s" style="left:1103.2px;top:719.0px"><b>FIJI</b><span>$704.25</span></div>
<div class="lb s" style="left:1070.0px;top:732.0px"><b>VANUATU</b><span>$483.82</span></div>
<div class="lb s" style="left:1019.5px;top:696.0px"><b>PAPUA NEW<br>GUINEA</b><span>$458.81</span></div>
<div class="lb b" style="left:947.0px;top:727.0px"><b>AUSTRALIA</b><span>$379.22</span></div>
<div class="lb m" style="left:1102.5px;top:805.4px"><b>NEW ZEALAND</b><span>$43.48</span></div>
<div class="lb s w" style="left:787.5px;top:568.2px"><b>INDIA</b><span>$142.51</span></div>
<div class="lb s" style="left:737.5px;top:589.0px"><b>SOMALIA</b><span>$900.00</span></div>
<div class="lb s" style="left:747.0px;top:605.2px"><b>UGANDA</b><span>$162.68</span></div>
<div class="lb s" style="left:743.0px;top:621.5px"><b>KENYA</b><span>$352.93</span></div>
<div class="lb s" style="left:702.0px;top:674.8px"><b>COMOROS</b><span>$203.32</span></div>
<div class="lb s" style="left:735.0px;top:672.8px"><b>SEYCHELLES</b><span>$748.40</span></div>
<div class="lb s" style="left:811.8px;top:625.2px"><b>SRI LANKA</b><span>$175.24</span></div>
<div class="lb m" style="left:788.0px;top:669.7px"><b>MALAYSIA</b><span>$564.64</span></div>
<div class="lb s" style="left:822.5px;top:684.8px"><b>SINGAPORE</b><span>$237.65</span></div>
<div class="lb s" style="left:822.5px;top:702.0px"><b>BRUNEI</b><span>$366.11</span></div>
<div class="lb s" style="left:873.8px;top:692.8px"><b>INDONESIA</b><span>$73.97</span></div>
<div class="lb s" style="left:873.8px;top:709.5px"><b>TIMOR LESTE</b><span>$10</span></div>
<div class="lb s" style="left:738.8px;top:703.2px"><b>MAURITIUS</b><span>$86.26</span></div>
<div class="lb s" style="left:705.0px;top:721.5px"><b>MADAGASCAR</b><span>$100.60</span></div>
<div class="lb s" style="left:732.0px;top:751.0px"><b>BURUNDI</b><span>$30.37</span></div>
<div class="lb s" style="left:773.0px;top:766.0px"><b>MALAWI</b><span>$116.88</span></div>
<div class="lb s" style="left:732.0px;top:774.5px"><b>MOZAMBIQUE</b><span>$77.89</span></div>
<div class="lb s" style="left:552.0px;top:723.2px"><b>CHAD</b><span>$594.84</span></div>
<div class="lb s" style="left:568.8px;top:743.2px"><b>NAMIBIA</b><span>$446.13</span></div>
<div class="lb m" style="left:582.0px;top:760.9px"><b>SOUTH<br>AFRICA</b><span>$12.66</span></div>
<div class="lb s" style="left:591.2px;top:787.0px"><b>BOTSWANA</b><span>$40.44</span></div>
<div class="lb s" style="left:579.5px;top:807.0px"><b>CENTRAL<br>AFRICAN REPUBLIC</b><span>$532.03</span></div>
<div class="lb s" style="left:607.0px;top:834.8px"><b>ZAMBIA</b><span>$120.77</span></div>
<div class="lb s" style="left:666.2px;top:794.5px"><b>ZIMBABWE</b><span>$576.00</span></div>
<div class="lb s" style="left:664.5px;top:812.8px"><b>SWAZILAND<br>(ESWATINI)</b><span>$422.58</span></div>
<div class="lb s" style="left:665.0px;top:835.8px"><b>LESOTHO</b><span>$85.46</span></div>
<div class="lb m w" style="left:492.0px;top:741.9px"><b>NIGER</b><span>$32.69</span></div>
<div class="lb m w" style="left:485.0px;top:771.4px"><b>NIGERIA</b><span>$221.84</span></div>
<div class="lb s" style="left:468.2px;top:856.5px"><b>GABON</b><span>$953.65</span></div>
<div class="lb s" style="left:468.2px;top:875.2px"><b>CONGO<br><i>(REPUBLIC OF THE)</i></b><span>$1,236.67</span></div>
<div class="lb s" style="left:552.5px;top:694.0px"><b>SOUTH SUDAN</b><span>$372.95</span></div>
<div class="lb m" style="left:277.0px;top:651.9px"><b>ECUADOR</b><span>$1,629.50</span></div>
<div class="lb l" style="left:277.0px;top:674.7px"><b>SURINAME</b><span>$3,030.38</span></div>
<div class="lb m" style="left:314.5px;top:702.1px"><b>PERU</b><span>$356.93</span></div>
<div class="lb l" style="left:288.8px;top:724.0px"><b>BOLIVIA</b><span>$1,293.87</span></div>
<div class="lb s" style="left:210.5px;top:748.2px"><b>PARAGUAY</b><span>$232.39</span></div>
<div class="lb m" style="left:248.0px;top:758.9px"><b>ARGENTINA</b><span>$167.43</span></div>
<div class="lb l" style="left:292.0px;top:776.0px"><b>CHILE</b><span>$16.32</span></div>
<div class="lb m" style="left:263.0px;top:806.4px"><b>URUGUAY</b><span>$1,334.86</span></div>
<div class="lb b w" style="left:412.0px;top:673.3px"><b>BRAZIL</b><span>$212.27</span></div>
<div class="lb s" style="left:392.5px;top:799.8px"><b>GHANA</b><span>$125.46</span></div>
<div class="lb s" style="left:392.5px;top:816.0px"><b>TOGO</b><span>$56.51</span></div>
<div class="lb s" style="left:392.5px;top:832.8px"><b>BENIN</b><span>$32.32</span></div>
<div class="lb s" style="left:423.8px;top:839.8px"><b>CAMEROON</b><span>$126.33</span></div>
<div class="lb s" style="left:400.0px;top:861.5px"><b>EQUATORIAL<br>GUINEA</b><span>$2,321.99</span></div>
<div class="lb s" style="left:104.5px;top:515.2px"><b>BAHAMAS</b><span>$1,810.92</span></div>
<div class="lb s" style="left:135.8px;top:536.5px"><b>HAITI</b><span>$932.80</span></div>
<div class="lb s" style="left:144.2px;top:553.5px"><b>DOMINICAN<br>REPUBLIC</b><span>$233.14</span></div>
<div class="lb s" style="left:43.0px;top:564.8px"><b>JAMAICA</b><span>$188.07</span></div>
<div class="lb s" style="left:30.0px;top:586.5px"><b>HONDURAS</b><span>$152.04</span></div>
<div class="lb s" style="left:184.5px;top:592.8px"><b>ANTIGUA AND<br>BARBUDA</b><span>$1,271.02</span></div>
<div class="lb s" style="left:184.5px;top:615.8px"><b>DOMINICA</b><span>$1,073.06</span></div>
<div class="lb s" style="left:114.2px;top:635.2px"><b>GRENADA</b><span>$1,409.78</span></div>
<div class="lb s" style="left:190.0px;top:642.8px"><b>BARBADOS</b><span>$1,159.95</span></div>
<div class="lb s" style="left:191.2px;top:661.5px"><b>TRINIDAD<br>AND TOBAGO</b><span>$114.82</span></div>
<div class="lb l" style="left:171.2px;top:700.0px"><b>VENEZUELA</b><span>$0.21</span></div>
<div class="lb m" style="left:100.8px;top:719.7px"><b>COLOMBIA</b><span>$358.48</span></div>
<div class="lb s" style="left:65.5px;top:712.0px"><b>PANAMA</b><span>$730</span></div>
<div class="lb s" style="left:30.0px;top:701.0px"><b>COSTA RICA</b><span>$363.70</span></div>
<div class="lb s" style="left:30.0px;top:680.8px"><b>NICARAGUA</b><span>$948.20</span></div>
<div class="lb m" style="left:227.5px;top:547.7px"><b>MEXICO</b><span>$1,463.81</span></div>
<div class="lb s" style="left:268.0px;top:544.0px"><b>BELIZE</b><span>$99.31</span></div>
<div class="lb s" style="left:236.8px;top:592.8px"><b>GUATEMALA</b><span>$820.70</span></div>
<div class="lb s" style="left:239.2px;top:608.5px"><b>EL SALVADOR</b><span>$975</span></div>
<div class="lb b w" style="left:206.2px;top:404.3px"><b>CANADA</b><span>$166.19</span></div>
<div class="lb b" style="left:223.8px;top:479.3px"><b>USA</b><span>$725</span></div>
<div class="lb s" style="left:484.0px;top:514.0px"><b>PORTUGAL</b><span>$269.79</span></div>
<div class="lb s" style="left:498.0px;top:533.0px"><b>TUNISIA</b><span>$92.93</span></div>
<div class="lb s" style="left:426.4px;top:551.0px"><b>MOROCCO</b><span>$120.89</span></div>
<div class="lb s" style="left:463.0px;top:560.0px"><b>MAURITANIA</b><span>$13.80</span></div>
<div class="lb s" style="left:437.4px;top:579.0px"><b>SENEGAL</b><span>$345.59</span></div>
<div class="lb s" style="left:436.6px;top:595.6px"><b>THE GAMBIA</b><span>$325.20</span></div>
<div class="lb s" style="left:457.4px;top:609.4px"><b>GUINEA-<br>BISSAU</b><span>$334.02</span></div>
<div class="lb s" style="left:452.0px;top:636.0px"><b>GUINEA</b><span>$378.55</span></div>
<div class="lb s" style="left:472.0px;top:652.0px"><b>SIERRA LEONE</b><span>$29.30</span></div>
<div class="lb s" style="left:491.4px;top:675.0px"><b>LIBERIA</b><span>$31.47</span></div>
<div class="lb s" style="left:423.4px;top:620.0px"><b>GUYANA</b><span>$436.46</span></div>
<div class="lb m" style="left:551.0px;top:551.3px"><b>ALGERIA</b><span>$203.75</span></div>
<div class="lb m" style="left:597.0px;top:554.5px"><b>LIBYA</b><span>$327.34</span></div>
<div class="lb s" style="left:536.0px;top:584.0px"><b>MALI</b><span>$496.44</span></div>
<div class="lb m" style="left:484.2px;top:494.1px"><b>SPAIN</b><span>$741.86</span></div>
<div class="lb m w" style="left:643.6px;top:593.3px"><b>SUDAN</b><span>$8.49</span></div>
<div class="lb m w" style="left:676.0px;top:619.5px"><b>ETHIOPIA</b><span>$152.78</span></div>
<div class="lb s w" style="left:617.4px;top:656.4px"><b>CONGO<br><i>(DEMOCRATIC<br>REPUBLIC OF THE)</i></b><span>$80</span></div>
<div class="lb s" style="left:661.6px;top:672.0px"><b>TANZANIA</b><span>$322.46</span></div>
<div class="lb s w" style="left:603.0px;top:694.4px"><b>ANGOLA</b><span>$54.20</span></div>
<div class="lb s w" style="left:732.7px;top:475.1px"><b>KAZAKHSTAN</b><span>$11.70</span></div>
<div class="lb s w" style="left:841.7px;top:475.1px"><b>MONGOLIA</b><span>$36.66</span></div>
<div class="lb b w" style="left:838.3px;top:511.8px"><b>CHINA</b><span>$137.38</span></div>
<div class="lb s w" style="left:790.7px;top:493.4px"><b>KYRGYZSTAN</b><span>$8.35</span></div>
<div class="lb s w" style="left:790.7px;top:509.1px"><b>TAJIKISTAN</b><span>$136.42</span></div>

<svg class="abs" style="left:0;top:0" width="1200" height="935" viewBox="0 0 1200 935">
<defs>
<radialGradient id="gg"><stop offset="0" stop-color="#c4e5d3"/><stop offset=".7" stop-color="#d3ebde"/><stop offset=".92" stop-color="#dff0e7"/><stop offset="1" stop-color="#eaf5ef" stop-opacity=".5"/></radialGradient>
<radialGradient id="gy"><stop offset="0" stop-color="#f7cd69"/><stop offset=".75" stop-color="#f9d98a"/><stop offset="1" stop-color="#fbe7b4" stop-opacity=".8"/></radialGradient>
<g id="wallet">
<circle cx="0" cy="0.6" r="13.2" fill="url(#gg)"/>
<circle cx=".5" cy="-6" r="3" fill="#fff" stroke="#ee9a3f" stroke-width=".8"/>
<circle cx="1.2" cy="-6" r="2.4" fill="#fff" stroke="#333" stroke-width=".5"/><path d="M1.2 -7.4v2.8M.4 -6.6h1.4" stroke="#333" stroke-width=".4" fill="none"/>
<rect x="-6.7" y="-3.3" width="14.4" height="12.3" fill="#1a8a5c"/>
<rect x="-6.7" y="-3.3" width="14.4" height="1.7" fill="#14724d"/>
<rect x="0.4" y="2.2" width="7.6" height="3" rx="1.5" fill="#4fc98c"/>
<circle cx="2.3" cy="3.7" r=".75" fill="#14724d"/>
</g>
</defs>
<rect x="653" y="661" width="5" height="9.6" rx="1.2" fill="#0d3f31" stroke="#e8f3ee" stroke-width=".5"/><rect x="653.8" y="664.6" width="3.4" height="1" fill="#7fd1a8"/>
<use href="#wallet" x="480" y="265"/>
<use href="#wallet" x="735" y="653.5"/>
<rect x="497" y="255.3" width="34.7" height="7.8" rx="3.9" fill="#0f6650"/>
<rect x="755" y="643" width="36.2" height="8" rx="4" fill="#0f6650"/>
<circle cx="1000.7" cy="301.7" r="13.7" fill="url(#gy)"/>
<rect x="991.3" y="292.2" width="18.4" height="15.8" fill="#ed9f4c"/>
<rect x="993.6" y="294" width="14.6" height="12.2" fill="none" stroke="#e08a34" stroke-width=".7"/>
<line x1="993.4" y1="292" x2="993.4" y2="308.4" stroke="#3a2a1a" stroke-width=".6"/>
<circle cx="1002.1" cy="300.2" r="2.9" fill="#fff"/><circle cx="1002.3" cy="300.1" r="1.2" fill="#ea7d2c"/>
<path d="M993.7 308.6h4.2M1003.4 308.6h4.2" stroke="#2a2018" stroke-width="1" stroke-dasharray="1.2 .5"/>
<rect x="1019.2" y="289.6" width="19.6" height="7.6" rx="3.8" fill="#eda04e"/>
</svg>
<div class="abs pill" style="left:497px;top:255.3px;width:34.7px;height:7.8px;line-height:7.8px">SLOVENIA</div>
<div class="abs pill" style="left:755px;top:643px;width:36.2px;height:8px;line-height:8px">RWANDA</div>
<div class="abs pill" style="left:1019.2px;top:289.6px;width:19.6px;height:7.6px;line-height:7.6px;color:#222">UAE</div>
<div class="abs free" style="left:497.3px;top:264.6px;font-size:9.3px">FREE<sup>*</sup></div>
<div class="abs free" style="left:755.6px;top:652.6px;font-size:10.2px">FREE<sup>**</sup></div>
<div class="abs" style="left:1019.8px;top:299.6px;font-size:10.5px;line-height:12px;color:#2a2a2a;transform:scaleX(.97);transform-origin:0 0">$7,443.58</div>
<div class="abs" style="left:30px;top:894.5px;font-size:8.2px;line-height:10px;font-weight:bold;letter-spacing:1.05px;color:#1b1b1b;-webkit-text-stroke:.4px #1b1b1b">SOURCE:</div>
<div class="abs" id="src2" style="left:30px;top:906.5px;font-size:11.1px;line-height:13px;color:#151515;letter-spacing:-.1px">Doing Business 2020 <span style="color:#444">report by</span> The World Bank</div>
<svg class="abs" style="left:720px;top:900px" width="37" height="14" viewBox="0 0 37 14">
<rect x=".6" y=".6" width="35.4" height="12.6" rx="1.6" fill="#b4b8b6" stroke="#1a1a1a" stroke-width="1"/>
<rect x="1" y="9.6" width="34.6" height="3.2" fill="#1a1a1a"/>
<circle cx="7" cy="5.4" r="4.1" fill="#fff" stroke="#1a1a1a" stroke-width="1"/>
<circle cx="18.3" cy="5.2" r="3.3" fill="#fff" stroke="#1a1a1a" stroke-width=".9"/>
<circle cx="28.8" cy="5.2" r="3.3" fill="#fff" stroke="#1a1a1a" stroke-width=".9"/>
<text x="7" y="7" font-size="4.2" font-weight="bold" text-anchor="middle" font-family="Liberation Sans" fill="#1a1a1a">cc</text>
<circle cx="18.3" cy="3.6" r=".8" fill="#1a1a1a"/><rect x="17.3" y="4.6" width="2" height="2.6" fill="#1a1a1a"/>
<path d="M27 5.2a1.8 1.8 0 1 0 1.8-1.8" fill="none" stroke="#1a1a1a" stroke-width=".8"/>
</svg>
<div class="abs" id="lic" style="left:765.4px;top:901.2px;font-size:6.7px;line-height:8.35px;color:#333">This image is licensed under the Creative Commons Attribution-Share Alike 4.0<br>International License - www.creativecommons.org/licenses/by-sa/4.0</div>
<svg class="abs" style="left:1040px;top:880px" width="45" height="50" viewBox="0 0 386 429">
<polygon points="120,125 160,100 160,305 120,285" fill="#1e9be0"/>
<polygon points="180,215 215,200 215,335 180,320" fill="#1e9be0"/>
<polygon points="230,252 275,235 275,340 230,360" fill="#1e9be0"/>
<polygon points="180,152 237,116 336,177 336,300 290,332 290,205 238,170 213,187 213,200 180,212" fill="#14233c"/>
</svg>
<div class="abs" style="left:1083.6px;top:895.4px;font-size:10.5px;line-height:11px;font-weight:bold;color:#14233c">Business</div>
<div class="abs" style="left:1083.6px;top:905.6px;font-size:10.5px;line-height:11px;color:#14233c">Financing.co.uk</div>
</body></html>
